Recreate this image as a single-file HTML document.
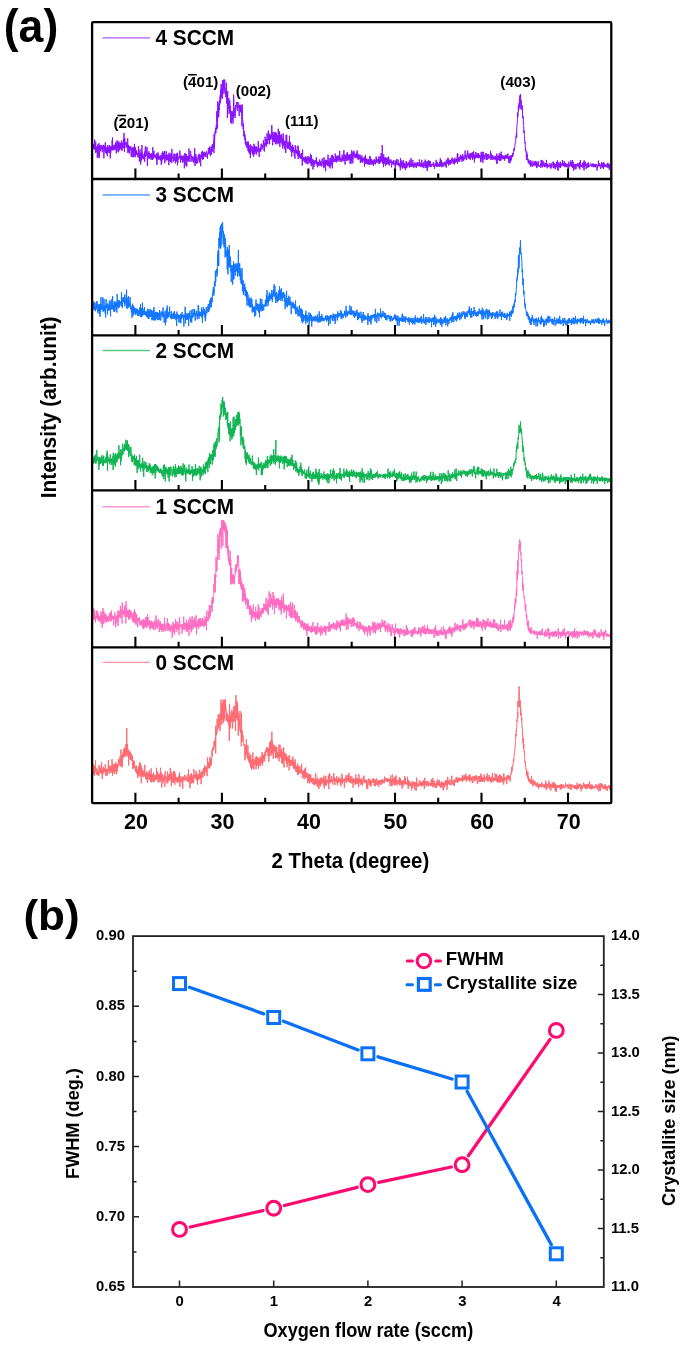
<!DOCTYPE html><html><head><meta charset="utf-8"><style>html,body{margin:0;padding:0;background:#fff;}svg{display:block;will-change:transform;filter:blur(0.35px);}text{font-family:"Liberation Sans", sans-serif;font-weight:bold;fill:#000;}</style></head><body>
<svg width="685" height="1348" viewBox="0 0 685 1348">
<rect width="685" height="1348" fill="#fff"/>
<path d="M93.3 147.1 93.46 145.5 93.62 148.7 93.78 144.0 93.94 149.1 94.10 148.1 94.26 146.8 94.42 143.5 94.58 139.5 94.74 140.3 94.90 150.0 95.06 148.1 95.22 148.3 95.38 145.3 95.54 152.9 95.70 141.6 95.86 149.3 96.02 149.2 96.18 152.4 96.34 151.6 96.50 146.8 96.66 147.3 96.82 149.1 96.98 146.4 97.14 147.0 97.30 157.7 97.46 148.8 97.62 153.8 97.78 155.6 97.94 144.2 98.10 157.7 98.26 148.7 98.42 145.7 98.58 146.8 98.74 148.5 98.90 143.2 99.06 146.5 99.22 148.4 99.38 145.0 99.54 157.9 99.70 150.1 99.86 146.8 100.02 147.8 100.18 150.8 100.34 150.6 100.50 148.7 100.66 150.7 100.82 145.3 100.98 146.2 101.14 145.2 101.30 148.3 101.46 145.4 101.62 149.0 101.78 145.9 101.94 149.2 102.10 148.9 102.26 152.3 102.42 146.9 102.58 148.7 102.74 146.6 102.90 149.1 103.06 145.3 103.22 145.8 103.38 149.1 103.54 146.5 103.70 144.8 103.86 158.3 104.02 151.2 104.18 150.5 104.34 150.6 104.50 147.0 104.66 146.2 104.82 145.6 104.98 151.6 105.14 146.9 105.30 142.3 105.46 145.4 105.62 153.0 105.78 146.3 105.94 149.8 106.10 150.7 106.26 152.4 106.42 147.7 106.58 154.1 106.74 150.5 106.90 147.6 107.06 151.4 107.22 151.5 107.38 156.2 107.54 148.4 107.70 150.2 107.86 145.2 108.02 149.1 108.18 148.6 108.34 151.6 108.50 150.9 108.66 152.2 108.82 149.6 108.98 146.8 109.14 153.0 109.30 147.7 109.46 145.6 109.62 145.2 109.78 149.7 109.94 149.6 110.10 145.9 110.26 158.4 110.42 148.1 110.58 148.7 110.74 152.9 110.90 147.5 111.06 147.8 111.22 150.3 111.38 148.6 111.54 147.3 111.70 147.6 111.86 146.4 112.02 150.3 112.18 140.2 112.34 150.2 112.50 137.5 112.66 147.7 112.82 148.8 112.98 146.4 113.14 147.2 113.30 149.2 113.46 146.4 113.62 149.7 113.78 145.3 113.94 150.3 114.10 147.0 114.26 148.6 114.42 145.8 114.58 147.9 114.74 145.2 114.90 144.6 115.06 149.0 115.22 149.7 115.38 148.6 115.54 146.1 115.70 142.4 115.86 147.4 116.02 146.9 116.18 147.6 116.34 153.4 116.50 145.4 116.66 148.3 116.82 141.4 116.98 140.5 117.14 148.2 117.30 144.4 117.46 145.5 117.62 146.9 117.78 140.6 117.94 151.3 118.10 143.2 118.26 152.3 118.42 150.3 118.58 149.3 118.74 150.6 118.90 151.1 119.06 141.7 119.22 143.0 119.38 149.6 119.54 143.4 119.70 146.1 119.86 147.9 120.02 146.3 120.18 143.1 120.34 143.4 120.50 145.4 120.66 144.7 120.82 149.1 120.98 142.5 121.14 146.0 121.30 150.1 121.46 142.7 121.62 145.3 121.78 140.5 121.94 146.0 122.10 150.7 122.26 145.4 122.42 146.6 122.58 144.7 122.74 143.6 122.90 143.1 123.06 146.0 123.22 148.1 123.38 145.2 123.54 139.2 123.70 141.8 123.86 144.3 124.02 133.0 124.18 148.5 124.34 145.7 124.50 152.1 124.66 140.8 124.82 138.3 124.98 143.7 125.14 144.4 125.30 142.3 125.46 142.9 125.62 143.9 125.78 145.3 125.94 146.3 126.10 147.6 126.26 146.7 126.42 143.9 126.58 145.8 126.74 142.2 126.90 147.7 127.06 147.3 127.22 146.3 127.38 147.3 127.54 147.4 127.70 138.4 127.86 153.0 128.02 146.7 128.18 144.8 128.34 149.4 128.50 145.2 128.66 151.8 128.82 148.1 128.98 149.7 129.14 147.1 129.30 153.5 129.46 150.5 129.62 145.9 129.78 147.9 129.94 148.9 130.10 150.4 130.26 149.0 130.42 148.7 130.58 146.7 130.74 148.0 130.90 146.6 131.06 153.8 131.22 156.6 131.38 153.5 131.54 150.7 131.70 150.0 131.86 148.2 132.02 148.3 132.18 157.1 132.34 149.9 132.50 147.5 132.66 149.2 132.82 152.4 132.98 147.6 133.14 151.1 133.30 150.3 133.46 157.2 133.62 154.5 133.78 147.7 133.94 156.2 134.10 147.1 134.26 151.4 134.42 143.9 134.58 145.7 134.74 146.3 134.90 147.6 135.06 157.3 135.22 150.0 135.38 149.8 135.54 147.6 135.70 155.5 135.86 152.0 136.02 153.8 136.18 150.2 136.34 154.2 136.50 154.5 136.66 151.3 136.82 152.3 136.98 154.4 137.14 153.6 137.30 153.2 137.46 154.2 137.62 153.6 137.78 153.3 137.94 157.4 138.10 153.8 138.26 151.7 138.42 146.0 138.58 151.3 138.74 156.5 138.90 153.9 139.06 157.5 139.22 153.6 139.38 161.6 139.54 154.6 139.70 154.9 139.86 154.2 140.02 149.3 140.18 157.3 140.34 160.1 140.50 153.1 140.66 164.4 140.82 157.7 140.98 161.0 141.14 155.4 141.30 154.4 141.46 152.8 141.62 160.2 141.78 152.6 141.94 145.0 142.10 158.4 142.26 152.4 142.42 153.4 142.58 158.1 142.74 154.1 142.90 155.5 143.06 156.7 143.22 158.8 143.38 159.1 143.54 156.0 143.70 158.0 143.86 156.9 144.02 159.3 144.18 154.1 144.34 158.9 144.50 151.6 144.66 161.7 144.82 158.7 144.98 152.2 145.14 156.9 145.30 147.7 145.46 156.7 145.62 146.2 145.78 154.3 145.94 151.0 146.10 156.0 146.26 155.1 146.42 155.0 146.58 155.5 146.74 152.0 146.90 147.2 147.06 147.2 147.22 156.2 147.38 165.9 147.54 156.4 147.70 159.6 147.86 158.3 148.02 154.0 148.18 155.6 148.34 152.4 148.50 156.3 148.66 157.7 148.82 154.5 148.98 151.3 149.14 158.9 149.30 156.8 149.46 153.5 149.62 155.5 149.78 157.4 149.94 157.0 150.10 155.0 150.26 153.7 150.42 157.7 150.58 157.0 150.74 156.4 150.90 155.7 151.06 159.7 151.22 155.7 151.38 156.1 151.54 153.3 151.70 157.3 151.86 158.4 152.02 154.9 152.18 159.0 152.34 160.0 152.50 157.9 152.66 157.1 152.82 147.2 152.98 159.4 153.14 159.1 153.30 153.9 153.46 155.5 153.62 155.4 153.78 157.4 153.94 150.9 154.10 155.6 154.26 156.4 154.42 154.5 154.58 155.6 154.74 157.2 154.90 156.6 155.06 156.1 155.22 155.4 155.38 154.7 155.54 158.1 155.70 158.4 155.86 155.2 156.02 156.1 156.18 157.3 156.34 156.3 156.50 161.0 156.66 154.9 156.82 153.5 156.98 164.9 157.14 155.3 157.30 152.9 157.46 156.9 157.62 158.6 157.78 156.0 157.94 155.5 158.10 152.5 158.26 159.5 158.42 158.1 158.58 155.6 158.74 159.5 158.90 158.8 159.06 156.2 159.22 158.2 159.38 156.5 159.54 159.2 159.70 157.1 159.86 157.9 160.02 159.5 160.18 156.8 160.34 155.2 160.50 156.3 160.66 160.5 160.82 155.9 160.98 156.8 161.14 157.0 161.30 165.0 161.46 155.1 161.62 163.2 161.78 162.7 161.94 155.7 162.10 152.8 162.26 159.3 162.42 160.1 162.58 157.7 162.74 156.5 162.90 151.4 163.06 155.1 163.22 159.1 163.38 159.1 163.54 156.1 163.70 153.1 163.86 152.8 164.02 159.0 164.18 158.8 164.34 156.1 164.50 156.0 164.66 151.0 164.82 163.2 164.98 157.6 165.14 155.5 165.30 155.0 165.46 157.9 165.62 156.9 165.78 158.7 165.94 160.2 166.10 160.6 166.26 151.2 166.42 157.6 166.58 156.4 166.74 157.5 166.90 160.3 167.06 158.0 167.22 154.6 167.38 159.8 167.54 159.8 167.70 155.1 167.86 160.0 168.02 155.3 168.18 158.8 168.34 160.3 168.50 154.5 168.66 161.8 168.82 165.2 168.98 157.5 169.14 152.7 169.30 160.5 169.46 159.5 169.62 161.2 169.78 160.4 169.94 158.5 170.10 153.8 170.26 158.6 170.42 155.6 170.58 160.4 170.74 162.3 170.90 154.8 171.06 159.7 171.22 153.4 171.38 159.7 171.54 158.8 171.70 162.8 171.86 148.9 172.02 155.2 172.18 156.7 172.34 158.6 172.50 158.9 172.66 158.2 172.82 158.1 172.98 156.7 173.14 158.2 173.30 161.6 173.46 158.7 173.62 158.4 173.78 160.7 173.94 153.6 174.10 160.8 174.26 157.2 174.42 154.2 174.58 154.7 174.74 159.0 174.90 154.4 175.06 159.6 175.22 159.2 175.38 163.3 175.54 159.5 175.70 160.0 175.86 158.3 176.02 160.1 176.18 153.5 176.34 157.3 176.50 157.3 176.66 161.5 176.82 155.6 176.98 160.3 177.14 155.2 177.30 152.8 177.46 165.4 177.62 153.0 177.78 163.1 177.94 157.6 178.10 156.8 178.26 157.6 178.42 157.4 178.58 159.5 178.74 158.9 178.90 158.3 179.06 156.8 179.22 156.8 179.38 157.2 179.54 158.0 179.70 154.7 179.86 150.6 180.02 158.3 180.18 157.3 180.34 155.7 180.50 162.5 180.66 157.7 180.82 155.7 180.98 159.9 181.14 158.6 181.30 159.2 181.46 156.2 181.62 155.9 181.78 157.2 181.94 156.0 182.10 159.2 182.26 158.9 182.42 162.7 182.58 156.2 182.74 161.9 182.90 158.0 183.06 155.3 183.22 161.5 183.38 159.0 183.54 158.2 183.70 160.7 183.86 159.9 184.02 156.8 184.18 157.4 184.34 168.3 184.50 157.4 184.66 155.8 184.82 153.2 184.98 156.1 185.14 157.7 185.30 160.2 185.46 157.7 185.62 153.8 185.78 165.4 185.94 154.0 186.10 159.6 186.26 155.6 186.42 156.5 186.58 154.4 186.74 166.5 186.90 159.7 187.06 158.5 187.22 159.2 187.38 156.8 187.54 159.7 187.70 156.0 187.86 161.3 188.02 161.7 188.18 158.3 188.34 156.5 188.50 156.6 188.66 158.2 188.82 161.0 188.98 148.6 189.14 157.8 189.30 157.9 189.46 159.0 189.62 155.2 189.78 161.2 189.94 162.0 190.10 157.7 190.26 157.4 190.42 152.9 190.58 151.0 190.74 153.5 190.90 154.9 191.06 154.7 191.22 157.7 191.38 157.7 191.54 155.9 191.70 160.9 191.86 161.5 192.02 161.7 192.18 157.6 192.34 156.6 192.50 159.0 192.66 156.6 192.82 158.2 192.98 157.9 193.14 160.5 193.30 158.2 193.46 162.5 193.62 157.4 193.78 158.2 193.94 156.9 194.10 157.4 194.26 161.2 194.42 162.6 194.58 149.0 194.74 148.3 194.90 158.4 195.06 166.0 195.22 158.3 195.38 156.4 195.54 157.7 195.70 158.2 195.86 153.9 196.02 162.6 196.18 157.4 196.34 159.5 196.50 160.4 196.66 163.6 196.82 163.8 196.98 158.0 197.14 159.9 197.30 158.3 197.46 162.9 197.62 160.6 197.78 160.6 197.94 157.5 198.10 155.6 198.26 156.8 198.42 156.0 198.58 157.7 198.74 158.4 198.90 159.3 199.06 153.8 199.22 160.0 199.38 162.6 199.54 154.1 199.70 157.1 199.86 157.9 200.02 157.9 200.18 159.4 200.34 154.8 200.50 159.5 200.66 166.2 200.82 157.5 200.98 155.1 201.14 155.4 201.30 154.8 201.46 157.1 201.62 151.9 201.78 156.4 201.94 156.2 202.10 159.0 202.26 157.7 202.42 150.7 202.58 159.6 202.74 160.1 202.90 158.6 203.06 156.8 203.22 152.7 203.38 152.9 203.54 158.9 203.70 154.0 203.86 152.9 204.02 156.9 204.18 151.8 204.34 154.0 204.50 152.8 204.66 155.1 204.82 155.2 204.98 152.5 205.14 154.6 205.30 155.5 205.46 153.0 205.62 156.7 205.78 154.6 205.94 153.0 206.10 152.9 206.26 151.7 206.42 152.8 206.58 151.1 206.74 154.8 206.90 154.7 207.06 157.1 207.22 156.3 207.38 158.6 207.54 154.0 207.70 153.6 207.86 153.5 208.02 154.5 208.18 151.6 208.34 148.1 208.50 149.3 208.66 152.6 208.82 148.0 208.98 154.0 209.14 152.2 209.30 152.3 209.46 146.5 209.62 150.5 209.78 150.9 209.94 153.6 210.10 150.1 210.26 153.9 210.42 156.1 210.58 151.1 210.74 151.2 210.90 147.0 211.06 148.0 211.22 149.6 211.38 154.7 211.54 147.5 211.70 148.4 211.86 147.0 212.02 145.4 212.18 148.8 212.34 151.7 212.50 144.1 212.66 144.8 212.82 145.0 212.98 147.3 213.14 144.6 213.30 145.8 213.46 143.9 213.62 143.2 213.78 141.4 213.94 153.1 214.10 133.9 214.26 148.2 214.42 137.9 214.58 144.7 214.74 137.2 214.90 135.9 215.06 131.4 215.22 132.8 215.38 132.6 215.54 127.9 215.70 133.6 215.86 133.4 216.02 132.1 216.18 126.5 216.34 124.9 216.50 129.3 216.66 129.5 216.82 111.2 216.98 120.9 217.14 113.5 217.30 117.3 217.46 128.5 217.62 123.3 217.78 101.4 217.94 114.2 218.10 116.3 218.26 108.9 218.42 113.1 218.58 104.5 218.74 117.3 218.90 104.6 219.06 103.1 219.22 110.4 219.38 103.5 219.54 100.5 219.70 104.7 219.86 100.5 220.02 97.1 220.18 95.4 220.34 103.1 220.50 89.5 220.66 100.5 220.82 98.4 220.98 90.7 221.14 83.9 221.30 92.3 221.46 95.3 221.62 97.1 221.78 93.8 221.94 95.7 222.10 87.4 222.26 98.7 222.42 92.9 222.58 81.5 222.74 94.3 222.90 79.9 223.06 89.7 223.22 88.5 223.38 80.7 223.54 82.7 223.70 89.2 223.86 79.5 224.02 93.6 224.18 91.8 224.34 83.8 224.50 88.6 224.66 79.7 224.82 80.0 224.98 87.9 225.14 89.5 225.30 88.4 225.46 88.6 225.62 89.3 225.78 97.0 225.94 91.9 226.10 97.2 226.26 93.7 226.42 82.8 226.58 103.4 226.74 97.2 226.90 102.0 227.06 98.5 227.22 98.0 227.38 117.9 227.54 105.4 227.70 91.0 227.86 101.5 228.02 103.2 228.18 108.6 228.34 102.6 228.50 101.7 228.66 108.8 228.82 98.0 228.98 108.5 229.14 114.0 229.30 107.9 229.46 106.8 229.62 112.0 229.78 100.3 229.94 110.5 230.10 105.7 230.26 111.6 230.42 109.7 230.58 122.0 230.74 122.5 230.90 114.2 231.06 115.1 231.22 123.6 231.38 111.5 231.54 111.1 231.70 112.4 231.86 114.0 232.02 112.7 232.18 111.2 232.34 116.1 232.50 120.1 232.66 115.9 232.82 112.2 232.98 123.6 233.14 114.9 233.30 117.3 233.46 106.2 233.62 94.5 233.78 98.9 233.94 100.6 234.10 115.9 234.26 110.3 234.42 110.6 234.58 109.2 234.74 108.7 234.90 107.8 235.06 118.1 235.22 115.7 235.38 107.4 235.54 107.5 235.70 105.0 235.86 106.3 236.02 107.6 236.18 106.1 236.34 104.4 236.50 102.2 236.66 102.6 236.82 103.9 236.98 102.5 237.14 109.2 237.30 111.0 237.46 106.2 237.62 105.1 237.78 102.4 237.94 103.0 238.10 102.3 238.26 104.5 238.42 104.4 238.58 104.8 238.74 107.6 238.90 105.3 239.06 113.1 239.22 116.1 239.38 104.8 239.54 105.5 239.70 106.7 239.86 107.8 240.02 108.2 240.18 110.3 240.34 105.6 240.50 111.9 240.66 108.6 240.82 104.8 240.98 108.0 241.14 112.8 241.30 108.6 241.46 106.7 241.62 112.7 241.78 119.7 241.94 126.2 242.10 111.2 242.26 104.5 242.42 116.1 242.58 119.3 242.74 119.8 242.90 121.7 243.06 129.2 243.22 127.9 243.38 126.4 243.54 123.7 243.70 136.3 243.86 136.1 244.02 132.8 244.18 130.9 244.34 133.5 244.50 136.9 244.66 137.1 244.82 139.9 244.98 134.5 245.14 137.5 245.30 143.9 245.46 138.2 245.62 139.5 245.78 140.7 245.94 145.7 246.10 142.2 246.26 144.0 246.42 142.5 246.58 145.4 246.74 146.3 246.90 148.1 247.06 146.5 247.22 141.5 247.38 146.5 247.54 145.8 247.70 144.8 247.86 144.6 248.02 150.8 248.18 148.4 248.34 141.6 248.50 152.3 248.66 148.2 248.82 144.3 248.98 145.6 249.14 146.6 249.30 145.7 249.46 154.2 249.62 152.3 249.78 149.2 249.94 151.1 250.10 148.8 250.26 151.4 250.42 157.9 250.58 144.5 250.74 148.9 250.90 147.1 251.06 145.5 251.22 149.4 251.38 149.7 251.54 151.1 251.70 149.4 251.86 149.4 252.02 151.8 252.18 153.1 252.34 146.4 252.50 150.2 252.66 154.6 252.82 148.0 252.98 149.2 253.14 151.9 253.30 147.5 253.46 149.7 253.62 156.7 253.78 150.1 253.94 143.8 254.10 146.5 254.26 148.6 254.42 148.5 254.58 145.6 254.74 154.2 254.90 148.6 255.06 146.5 255.22 152.1 255.38 148.2 255.54 148.3 255.70 149.2 255.86 150.3 256.02 146.5 256.18 151.5 256.34 154.5 256.50 146.8 256.66 150.1 256.82 146.9 256.98 150.0 257.14 149.5 257.30 149.5 257.46 150.7 257.62 149.3 257.78 150.2 257.94 152.4 258.10 148.8 258.26 141.2 258.42 150.6 258.58 146.7 258.74 149.1 258.90 148.7 259.06 151.7 259.22 157.0 259.38 150.7 259.54 148.7 259.70 150.6 259.86 151.5 260.02 149.8 260.18 149.8 260.34 147.9 260.50 147.3 260.66 151.7 260.82 148.8 260.98 145.6 261.14 143.8 261.30 145.0 261.46 145.4 261.62 143.8 261.78 148.0 261.94 149.7 262.10 145.1 262.26 147.2 262.42 147.3 262.58 145.6 262.74 145.5 262.90 147.5 263.06 146.8 263.22 146.6 263.38 140.3 263.54 144.0 263.70 143.7 263.86 146.2 264.02 149.0 264.18 150.8 264.34 142.9 264.50 151.4 264.66 143.3 264.82 143.3 264.98 143.9 265.14 136.7 265.30 140.9 265.46 139.4 265.62 143.0 265.78 140.8 265.94 145.3 266.10 141.7 266.26 146.9 266.42 139.4 266.58 140.1 266.74 144.2 266.90 141.3 267.06 133.4 267.22 137.5 267.38 141.1 267.54 139.6 267.70 144.2 267.86 142.8 268.02 139.8 268.18 139.3 268.34 130.6 268.50 138.7 268.66 139.0 268.82 140.2 268.98 133.5 269.14 133.5 269.30 137.5 269.46 139.0 269.62 144.2 269.78 136.1 269.94 137.6 270.10 134.6 270.26 135.1 270.42 139.2 270.58 138.4 270.74 140.0 270.90 136.0 271.06 138.3 271.22 138.7 271.38 133.5 271.54 137.6 271.70 125.5 271.86 125.0 272.02 136.3 272.18 136.1 272.34 135.0 272.50 133.3 272.66 145.3 272.82 136.8 272.98 131.7 273.14 136.5 273.30 135.4 273.46 140.2 273.62 139.5 273.78 135.3 273.94 134.5 274.10 142.0 274.26 133.8 274.42 136.6 274.58 132.6 274.74 138.1 274.90 142.1 275.06 132.3 275.22 140.7 275.38 144.2 275.54 137.8 275.70 141.5 275.86 136.9 276.02 132.5 276.18 136.8 276.34 133.1 276.50 139.1 276.66 143.1 276.82 138.8 276.98 144.3 277.14 135.0 277.30 141.1 277.46 139.0 277.62 136.3 277.78 141.6 277.94 137.4 278.10 139.5 278.26 128.7 278.42 137.3 278.58 139.8 278.74 143.7 278.90 139.1 279.06 135.8 279.22 142.3 279.38 139.3 279.54 131.3 279.70 140.3 279.86 146.9 280.02 136.1 280.18 139.5 280.34 135.7 280.50 142.4 280.66 142.2 280.82 142.4 280.98 142.3 281.14 134.3 281.30 140.4 281.46 139.2 281.62 134.6 281.78 140.2 281.94 143.8 282.10 144.6 282.26 137.8 282.42 138.0 282.58 139.2 282.74 148.5 282.90 140.9 283.06 137.3 283.22 133.4 283.38 134.6 283.54 144.2 283.70 145.7 283.86 146.1 284.02 142.0 284.18 142.3 284.34 144.3 284.50 141.8 284.66 141.3 284.82 149.4 284.98 140.5 285.14 141.6 285.30 144.8 285.46 144.0 285.62 147.6 285.78 152.9 285.94 145.6 286.10 134.9 286.26 143.1 286.42 142.6 286.58 142.1 286.74 134.8 286.90 144.5 287.06 147.2 287.22 146.0 287.38 143.3 287.54 146.5 287.70 148.8 287.86 142.1 288.02 141.6 288.18 147.4 288.34 144.9 288.50 143.9 288.66 142.9 288.82 144.5 288.98 149.2 289.14 149.3 289.30 144.8 289.46 135.7 289.62 147.8 289.78 146.0 289.94 150.1 290.10 149.7 290.26 146.5 290.42 145.1 290.58 142.3 290.74 143.9 290.90 146.5 291.06 151.9 291.22 147.4 291.38 146.2 291.54 147.8 291.70 156.6 291.86 147.3 292.02 149.2 292.18 147.7 292.34 148.2 292.50 151.5 292.66 144.8 292.82 151.3 292.98 152.4 293.14 147.6 293.30 146.9 293.46 147.2 293.62 150.6 293.78 151.0 293.94 149.7 294.10 150.3 294.26 155.7 294.42 150.5 294.58 152.5 294.74 150.9 294.90 158.8 295.06 148.2 295.22 145.2 295.38 146.4 295.54 150.0 295.70 146.0 295.86 152.8 296.02 151.8 296.18 149.9 296.34 149.9 296.50 152.7 296.66 150.8 296.82 153.8 296.98 151.3 297.14 153.1 297.30 152.9 297.46 156.0 297.62 152.2 297.78 152.0 297.94 145.6 298.10 152.1 298.26 159.1 298.42 147.2 298.58 151.8 298.74 151.1 298.90 150.9 299.06 155.0 299.22 156.6 299.38 157.5 299.54 150.9 299.70 156.8 299.86 156.2 300.02 157.2 300.18 155.6 300.34 155.2 300.50 155.7 300.66 159.0 300.82 158.4 300.98 154.0 301.14 155.1 301.30 153.0 301.46 156.6 301.62 159.1 301.78 156.8 301.94 157.7 302.10 156.2 302.26 165.6 302.42 156.4 302.58 149.7 302.74 160.0 302.90 159.7 303.06 160.4 303.22 157.9 303.38 158.0 303.54 157.6 303.70 157.2 303.86 161.2 304.02 160.0 304.18 159.8 304.34 157.7 304.50 159.3 304.66 158.5 304.82 162.1 304.98 161.5 305.14 157.1 305.30 163.2 305.46 157.9 305.62 159.8 305.78 156.3 305.94 162.5 306.10 157.6 306.26 160.7 306.42 159.2 306.58 161.3 306.74 160.6 306.90 160.2 307.06 164.2 307.22 158.5 307.38 159.8 307.54 158.8 307.70 156.4 307.86 158.9 308.02 164.2 308.18 160.0 308.34 156.5 308.50 159.1 308.66 160.6 308.82 159.6 308.98 157.0 309.14 158.4 309.30 159.2 309.46 161.1 309.62 160.0 309.78 162.7 309.94 158.5 310.10 163.1 310.26 160.9 310.42 153.9 310.58 163.4 310.74 162.9 310.90 159.8 311.06 158.8 311.22 166.2 311.38 166.1 311.54 155.1 311.70 162.3 311.86 161.1 312.02 162.6 312.18 160.1 312.34 160.4 312.50 159.0 312.66 163.0 312.82 166.2 312.98 169.5 313.14 163.4 313.30 165.2 313.46 163.9 313.62 159.8 313.78 161.1 313.94 165.2 314.10 166.8 314.26 162.4 314.42 164.2 314.58 161.6 314.74 160.9 314.90 162.3 315.06 160.2 315.22 161.6 315.38 162.4 315.54 162.2 315.70 163.7 315.86 163.5 316.02 163.0 316.18 162.2 316.34 157.3 316.50 164.1 316.66 159.9 316.82 161.0 316.98 161.2 317.14 165.9 317.30 163.6 317.46 162.0 317.62 167.3 317.78 162.1 317.94 165.6 318.10 163.9 318.26 163.1 318.42 162.0 318.58 162.3 318.74 164.9 318.90 166.1 319.06 161.8 319.22 163.4 319.38 162.9 319.54 159.5 319.70 162.3 319.86 162.8 320.02 165.6 320.18 163.4 320.34 164.2 320.50 162.3 320.66 164.9 320.82 160.9 320.98 160.7 321.14 165.9 321.30 164.3 321.46 163.7 321.62 164.2 321.78 166.5 321.94 165.2 322.10 161.7 322.26 158.5 322.42 160.8 322.58 161.5 322.74 162.7 322.90 163.5 323.06 161.6 323.22 164.5 323.38 164.7 323.54 163.1 323.70 161.8 323.86 168.2 324.02 157.3 324.18 166.5 324.34 162.1 324.50 166.4 324.66 164.7 324.82 162.4 324.98 159.7 325.14 164.3 325.30 160.6 325.46 164.1 325.62 171.2 325.78 160.7 325.94 162.4 326.10 161.7 326.26 160.1 326.42 164.4 326.58 164.6 326.74 159.9 326.90 160.8 327.06 163.7 327.22 161.1 327.38 163.3 327.54 165.9 327.70 161.0 327.86 162.3 328.02 154.7 328.18 161.0 328.34 163.7 328.50 161.8 328.66 166.2 328.82 161.5 328.98 165.9 329.14 166.6 329.30 162.6 329.46 162.1 329.62 163.6 329.78 162.2 329.94 158.1 330.10 168.4 330.26 159.1 330.42 160.2 330.58 162.0 330.74 163.6 330.90 165.9 331.06 160.1 331.22 156.7 331.38 158.4 331.54 158.9 331.70 155.3 331.86 161.5 332.02 164.8 332.18 154.8 332.34 168.3 332.50 162.6 332.66 164.0 332.82 162.3 332.98 159.9 333.14 156.3 333.30 156.1 333.46 159.4 333.62 161.7 333.78 161.6 333.94 162.0 334.10 161.4 334.26 161.9 334.42 159.7 334.58 160.6 334.74 158.9 334.90 160.6 335.06 159.6 335.22 153.5 335.38 159.6 335.54 159.6 335.70 157.1 335.86 161.6 336.02 157.8 336.18 162.5 336.34 160.0 336.50 160.6 336.66 155.9 336.82 161.0 336.98 160.0 337.14 160.1 337.30 155.7 337.46 160.5 337.62 158.8 337.78 157.3 337.94 161.6 338.10 160.6 338.26 157.8 338.42 159.8 338.58 159.2 338.74 155.5 338.90 157.5 339.06 159.6 339.22 159.2 339.38 160.2 339.54 157.6 339.70 150.8 339.86 158.2 340.02 161.6 340.18 157.4 340.34 159.0 340.50 159.1 340.66 158.5 340.82 159.7 340.98 158.1 341.14 159.4 341.30 161.8 341.46 158.4 341.62 159.0 341.78 160.7 341.94 161.5 342.10 154.5 342.26 155.4 342.42 158.1 342.58 156.3 342.74 159.8 342.90 159.7 343.06 157.8 343.22 160.7 343.38 158.7 343.54 156.2 343.70 158.6 343.86 150.2 344.02 161.3 344.18 157.0 344.34 156.8 344.50 156.4 344.66 154.8 344.82 155.6 344.98 162.7 345.14 164.5 345.30 156.5 345.46 159.2 345.62 154.9 345.78 154.7 345.94 155.8 346.10 156.8 346.26 155.8 346.42 160.7 346.58 158.7 346.74 156.2 346.90 160.3 347.06 152.4 347.22 158.1 347.38 152.6 347.54 154.8 347.70 157.9 347.86 155.7 348.02 160.7 348.18 157.1 348.34 156.8 348.50 155.5 348.66 155.1 348.82 160.0 348.98 156.4 349.14 154.3 349.30 159.4 349.46 157.9 349.62 155.2 349.78 155.5 349.94 157.1 350.10 163.8 350.26 159.8 350.42 157.2 350.58 161.6 350.74 153.9 350.90 157.1 351.06 163.7 351.22 157.2 351.38 160.9 351.54 156.8 351.70 150.3 351.86 155.1 352.02 152.2 352.18 158.2 352.34 157.0 352.50 156.0 352.66 154.0 352.82 163.4 352.98 157.4 353.14 158.7 353.30 151.6 353.46 154.0 353.62 154.1 353.78 155.6 353.94 150.8 354.10 151.5 354.26 156.7 354.42 155.4 354.58 157.0 354.74 154.6 354.90 153.8 355.06 155.8 355.22 158.2 355.38 154.5 355.54 157.1 355.70 154.9 355.86 156.7 356.02 156.1 356.18 157.8 356.34 152.8 356.50 156.1 356.66 158.1 356.82 154.8 356.98 156.7 357.14 150.4 357.30 155.7 357.46 155.4 357.62 156.1 357.78 159.2 357.94 159.5 358.10 153.7 358.26 156.9 358.42 156.7 358.58 156.9 358.74 159.6 358.90 158.1 359.06 157.8 359.22 155.1 359.38 158.9 359.54 157.1 359.70 158.2 359.86 158.6 360.02 154.6 360.18 158.0 360.34 162.9 360.50 158.9 360.66 157.7 360.82 159.0 360.98 156.6 361.14 160.0 361.30 159.3 361.46 162.0 361.62 162.2 361.78 156.6 361.94 155.4 362.10 159.4 362.26 159.7 362.42 158.1 362.58 158.9 362.74 162.6 362.90 159.3 363.06 161.2 363.22 159.3 363.38 159.8 363.54 159.2 363.70 157.7 363.86 159.9 364.02 158.8 364.18 159.1 364.34 160.8 364.50 166.9 364.66 157.0 364.82 156.7 364.98 158.6 365.14 161.9 365.30 162.0 365.46 154.8 365.62 159.3 365.78 163.6 365.94 158.4 366.10 160.6 366.26 164.1 366.42 159.8 366.58 160.7 366.74 158.8 366.90 161.8 367.06 160.9 367.22 161.7 367.38 159.9 367.54 161.4 367.70 159.9 367.86 164.1 368.02 159.1 368.18 164.6 368.34 163.0 368.50 161.2 368.66 160.6 368.82 159.5 368.98 159.1 369.14 162.7 369.30 164.9 369.46 164.3 369.62 162.7 369.78 156.2 369.94 158.2 370.10 156.4 370.26 161.0 370.42 162.8 370.58 159.3 370.74 163.2 370.90 162.2 371.06 164.7 371.22 158.7 371.38 159.0 371.54 161.4 371.70 161.9 371.86 163.6 372.02 164.5 372.18 160.9 372.34 161.6 372.50 164.0 372.66 162.1 372.82 161.8 372.98 161.9 373.14 159.9 373.30 164.5 373.46 165.9 373.62 162.6 373.78 162.0 373.94 161.2 374.10 159.5 374.26 164.1 374.42 161.6 374.58 160.7 374.74 159.6 374.90 160.7 375.06 160.6 375.22 161.9 375.38 161.8 375.54 164.3 375.70 160.7 375.86 160.6 376.02 162.7 376.18 156.5 376.34 161.9 376.50 158.0 376.66 162.7 376.82 159.3 376.98 160.9 377.14 160.9 377.30 161.0 377.46 159.0 377.62 160.9 377.78 159.1 377.94 160.2 378.10 162.9 378.26 160.7 378.42 160.7 378.58 157.6 378.74 163.4 378.90 159.4 379.06 156.4 379.22 159.9 379.38 164.0 379.54 161.4 379.70 159.8 379.86 161.2 380.02 160.6 380.18 160.8 380.34 156.4 380.50 159.8 380.66 162.7 380.82 160.6 380.98 160.1 381.14 153.0 381.30 161.3 381.46 161.1 381.62 158.8 381.78 160.5 381.94 158.8 382.10 159.8 382.26 145.0 382.42 159.8 382.58 163.6 382.74 161.1 382.90 156.9 383.06 160.9 383.22 158.5 383.38 159.3 383.54 167.1 383.70 154.2 383.86 160.7 384.02 160.8 384.18 160.0 384.34 158.1 384.50 163.2 384.66 161.2 384.82 163.7 384.98 158.5 385.14 161.6 385.30 157.0 385.46 166.1 385.62 163.0 385.78 159.5 385.94 157.7 386.10 161.8 386.26 161.9 386.42 161.3 386.58 164.0 386.74 164.7 386.90 162.0 387.06 157.7 387.22 160.9 387.38 158.3 387.54 163.4 387.70 157.7 387.86 161.7 388.02 159.3 388.18 163.3 388.34 164.5 388.50 160.2 388.66 156.5 388.82 163.4 388.98 161.4 389.14 160.9 389.30 165.4 389.46 162.7 389.62 162.3 389.78 159.6 389.94 162.0 390.10 162.5 390.26 160.9 390.42 162.3 390.58 161.3 390.74 162.1 390.90 159.5 391.06 160.3 391.22 160.6 391.38 163.4 391.54 167.3 391.70 163.2 391.86 161.5 392.02 161.4 392.18 161.1 392.34 163.0 392.50 163.7 392.66 163.0 392.82 162.2 392.98 163.7 393.14 162.4 393.30 164.9 393.46 161.2 393.62 162.9 393.78 160.0 393.94 163.1 394.10 164.2 394.26 163.4 394.42 164.3 394.58 163.3 394.74 163.7 394.90 164.0 395.06 164.9 395.22 168.8 395.38 162.7 395.54 160.6 395.70 163.6 395.86 161.9 396.02 162.5 396.18 165.3 396.34 164.6 396.50 164.3 396.66 159.0 396.82 160.9 396.98 163.3 397.14 163.6 397.30 164.5 397.46 165.0 397.62 163.9 397.78 162.7 397.94 161.4 398.10 159.5 398.26 164.8 398.42 164.0 398.58 162.6 398.74 164.3 398.90 165.5 399.06 164.3 399.22 166.3 399.38 164.7 399.54 164.1 399.70 162.9 399.86 164.1 400.02 166.7 400.18 164.6 400.34 170.2 400.50 158.1 400.66 163.3 400.82 167.9 400.98 166.0 401.14 161.6 401.30 160.6 401.46 165.4 401.62 164.0 401.78 166.9 401.94 164.9 402.10 161.8 402.26 165.0 402.42 163.1 402.58 168.7 402.74 167.1 402.90 161.5 403.06 166.6 403.22 160.1 403.38 165.5 403.54 163.2 403.70 167.4 403.86 164.8 404.02 165.7 404.18 163.7 404.34 162.9 404.50 168.0 404.66 167.2 404.82 166.6 404.98 164.4 405.14 163.6 405.30 170.1 405.46 164.5 405.62 164.6 405.78 165.3 405.94 168.4 406.10 161.1 406.26 163.4 406.42 167.8 406.58 162.8 406.74 165.7 406.90 167.8 407.06 162.6 407.22 164.9 407.38 166.1 407.54 164.5 407.70 164.3 407.86 165.0 408.02 165.1 408.18 164.4 408.34 164.3 408.50 161.9 408.66 165.2 408.82 164.7 408.98 162.8 409.14 166.3 409.30 167.6 409.46 164.1 409.62 165.0 409.78 165.3 409.94 159.8 410.10 162.0 410.26 165.4 410.42 164.6 410.58 164.3 410.74 164.9 410.90 167.1 411.06 158.2 411.22 162.1 411.38 166.9 411.54 164.8 411.70 163.4 411.86 165.1 412.02 163.8 412.18 166.4 412.34 166.3 412.50 164.2 412.66 164.5 412.82 160.0 412.98 162.6 413.14 164.4 413.30 166.8 413.46 164.3 413.62 167.3 413.78 167.5 413.94 168.1 414.10 167.2 414.26 163.5 414.42 166.4 414.58 162.8 414.74 166.1 414.90 163.1 415.06 162.6 415.22 164.7 415.38 163.5 415.54 166.4 415.70 165.2 415.86 164.6 416.02 165.1 416.18 166.1 416.34 168.0 416.50 164.1 416.66 166.5 416.82 162.9 416.98 165.8 417.14 162.5 417.30 164.2 417.46 164.3 417.62 165.4 417.78 162.0 417.94 164.5 418.10 164.6 418.26 163.5 418.42 166.0 418.58 165.6 418.74 164.3 418.90 165.0 419.06 166.6 419.22 165.9 419.38 159.4 419.54 163.4 419.70 163.4 419.86 163.6 420.02 164.3 420.18 166.2 420.34 163.3 420.50 166.8 420.66 166.3 420.82 162.6 420.98 164.5 421.14 163.3 421.30 164.7 421.46 166.1 421.62 165.1 421.78 159.8 421.94 165.5 422.10 167.3 422.26 167.4 422.42 165.5 422.58 164.3 422.74 166.2 422.90 163.9 423.06 163.9 423.22 164.8 423.38 162.6 423.54 166.4 423.70 162.5 423.86 168.2 424.02 164.0 424.18 164.2 424.34 164.1 424.50 165.1 424.66 165.7 424.82 165.0 424.98 161.0 425.14 165.0 425.30 159.6 425.46 165.0 425.62 164.0 425.78 167.9 425.94 163.6 426.10 167.8 426.26 163.9 426.42 166.2 426.58 164.8 426.74 166.1 426.90 161.5 427.06 166.5 427.22 171.0 427.38 161.3 427.54 165.4 427.70 163.0 427.86 165.0 428.02 167.6 428.18 162.8 428.34 162.2 428.50 160.7 428.66 165.9 428.82 165.5 428.98 160.4 429.14 165.3 429.30 164.6 429.46 166.3 429.62 166.5 429.78 164.4 429.94 161.4 430.10 165.8 430.26 161.0 430.42 163.9 430.58 162.6 430.74 167.2 430.90 164.2 431.06 164.6 431.22 164.1 431.38 165.6 431.54 164.9 431.70 166.6 431.86 166.5 432.02 165.0 432.18 164.9 432.34 164.8 432.50 164.5 432.66 165.0 432.82 164.5 432.98 164.8 433.14 165.3 433.30 162.2 433.46 165.3 433.62 165.6 433.78 166.8 433.94 164.5 434.10 164.8 434.26 164.4 434.42 165.4 434.58 168.8 434.74 165.4 434.90 165.0 435.06 165.6 435.22 165.5 435.38 162.9 435.54 165.3 435.70 165.7 435.86 164.4 436.02 166.1 436.18 159.8 436.34 165.9 436.50 163.1 436.66 166.6 436.82 162.2 436.98 165.0 437.14 167.1 437.30 166.3 437.46 163.9 437.62 162.4 437.78 163.5 437.94 166.2 438.10 164.5 438.26 166.0 438.42 165.0 438.58 165.2 438.74 164.6 438.90 166.1 439.06 164.0 439.22 166.8 439.38 163.0 439.54 161.8 439.70 165.7 439.86 163.8 440.02 166.6 440.18 163.6 440.34 158.2 440.50 163.5 440.66 165.4 440.82 162.6 440.98 165.9 441.14 162.8 441.30 160.2 441.46 165.3 441.62 162.7 441.78 167.2 441.94 163.0 442.10 162.3 442.26 165.7 442.42 166.7 442.58 165.7 442.74 165.2 442.90 163.9 443.06 163.7 443.22 163.3 443.38 164.6 443.54 162.7 443.70 163.0 443.86 166.5 444.02 164.2 444.18 163.3 444.34 164.1 444.50 162.0 444.66 164.1 444.82 163.6 444.98 162.9 445.14 163.0 445.30 163.5 445.46 165.5 445.62 161.4 445.78 163.4 445.94 166.5 446.10 165.5 446.26 166.5 446.42 167.7 446.58 162.7 446.74 160.3 446.90 161.1 447.06 159.4 447.22 162.8 447.38 162.8 447.54 162.4 447.70 164.0 447.86 162.5 448.02 157.7 448.18 161.4 448.34 159.4 448.50 165.4 448.66 163.8 448.82 164.5 448.98 160.5 449.14 160.7 449.30 162.5 449.46 161.4 449.62 159.8 449.78 164.6 449.94 162.8 450.10 163.5 450.26 164.3 450.42 163.6 450.58 160.1 450.74 163.4 450.90 162.7 451.06 163.1 451.22 163.2 451.38 161.8 451.54 162.5 451.70 160.5 451.86 158.6 452.02 160.7 452.18 157.7 452.34 159.2 452.50 160.3 452.66 160.5 452.82 162.8 452.98 163.4 453.14 162.1 453.30 158.9 453.46 160.2 453.62 161.7 453.78 162.7 453.94 164.1 454.10 160.6 454.26 160.3 454.42 164.4 454.58 159.9 454.74 160.5 454.90 157.7 455.06 160.1 455.22 162.6 455.38 159.6 455.54 162.4 455.70 162.1 455.86 161.7 456.02 161.8 456.18 161.1 456.34 162.1 456.50 160.8 456.66 158.7 456.82 161.8 456.98 159.1 457.14 161.5 457.30 153.6 457.46 163.9 457.62 160.9 457.78 153.4 457.94 160.3 458.10 159.3 458.26 158.8 458.42 161.5 458.58 161.5 458.74 157.5 458.90 158.8 459.06 158.8 459.22 159.2 459.38 160.0 459.54 157.8 459.70 161.7 459.86 156.7 460.02 157.2 460.18 159.3 460.34 158.0 460.50 154.8 460.66 159.2 460.82 158.6 460.98 158.6 461.14 156.1 461.30 158.4 461.46 155.8 461.62 157.5 461.78 157.4 461.94 161.9 462.10 158.7 462.26 160.1 462.42 158.1 462.58 158.4 462.74 154.0 462.90 160.4 463.06 156.7 463.22 156.5 463.38 158.7 463.54 160.1 463.70 160.9 463.86 156.7 464.02 157.3 464.18 159.0 464.34 159.3 464.50 158.0 464.66 157.2 464.82 155.4 464.98 155.6 465.14 150.6 465.30 157.2 465.46 157.2 465.62 156.6 465.78 155.2 465.94 155.6 466.10 159.4 466.26 156.1 466.42 156.2 466.58 156.6 466.74 159.8 466.90 155.2 467.06 154.2 467.22 154.7 467.38 154.4 467.54 153.9 467.70 150.5 467.86 156.3 468.02 153.3 468.18 157.5 468.34 155.7 468.50 158.0 468.66 157.3 468.82 157.0 468.98 158.5 469.14 156.9 469.30 159.0 469.46 153.7 469.62 156.2 469.78 158.6 469.94 156.9 470.10 157.6 470.26 156.3 470.42 160.1 470.58 153.4 470.74 155.6 470.90 157.8 471.06 157.2 471.22 154.5 471.38 154.9 471.54 156.1 471.70 156.2 471.86 152.9 472.02 156.9 472.18 157.9 472.34 152.3 472.50 159.9 472.66 157.3 472.82 153.1 472.98 156.3 473.14 158.5 473.30 154.1 473.46 156.1 473.62 151.1 473.78 153.6 473.94 155.4 474.10 158.0 474.26 154.7 474.42 162.4 474.58 155.8 474.74 157.4 474.90 159.0 475.06 156.0 475.22 156.3 475.38 155.1 475.54 157.8 475.70 156.7 475.86 152.0 476.02 156.5 476.18 156.2 476.34 157.7 476.50 154.2 476.66 157.3 476.82 153.7 476.98 156.3 477.14 157.0 477.30 157.2 477.46 153.7 477.62 157.3 477.78 156.1 477.94 154.7 478.10 154.6 478.26 158.2 478.42 153.2 478.58 154.6 478.74 156.2 478.90 158.1 479.06 156.4 479.22 154.6 479.38 157.4 479.54 156.2 479.70 155.6 479.86 155.0 480.02 156.7 480.18 157.5 480.34 157.0 480.50 156.3 480.66 161.5 480.82 157.4 480.98 162.0 481.14 151.8 481.30 158.1 481.46 154.8 481.62 156.2 481.78 158.4 481.94 155.3 482.10 156.1 482.26 159.6 482.42 155.3 482.58 152.1 482.74 155.8 482.90 162.8 483.06 155.7 483.22 151.7 483.38 156.9 483.54 154.9 483.70 157.1 483.86 155.7 484.02 159.2 484.18 156.9 484.34 159.1 484.50 158.3 484.66 156.2 484.82 159.4 484.98 155.0 485.14 156.2 485.30 153.7 485.46 156.6 485.62 156.6 485.78 155.2 485.94 156.0 486.10 153.1 486.26 158.2 486.42 160.0 486.58 158.1 486.74 154.4 486.90 157.5 487.06 154.4 487.22 155.7 487.38 157.6 487.54 154.4 487.70 159.7 487.86 156.5 488.02 156.5 488.18 155.7 488.34 156.4 488.50 154.8 488.66 155.5 488.82 154.2 488.98 158.6 489.14 156.6 489.30 157.3 489.46 157.9 489.62 156.8 489.78 156.4 489.94 157.4 490.10 158.4 490.26 157.3 490.42 156.8 490.58 150.8 490.74 158.8 490.90 159.9 491.06 153.6 491.22 153.6 491.38 156.7 491.54 156.2 491.70 158.0 491.86 158.0 492.02 157.9 492.18 159.7 492.34 156.8 492.50 157.9 492.66 156.5 492.82 155.1 492.98 159.5 493.14 156.7 493.30 157.5 493.46 156.9 493.62 158.3 493.78 159.5 493.94 156.7 494.10 156.5 494.26 157.9 494.42 158.9 494.58 158.7 494.74 157.0 494.90 157.0 495.06 158.2 495.22 158.2 495.38 160.2 495.54 155.8 495.70 159.9 495.86 159.2 496.02 158.3 496.18 158.9 496.34 158.1 496.50 163.3 496.66 158.1 496.82 153.6 496.98 157.4 497.14 163.9 497.30 157.4 497.46 157.1 497.62 157.2 497.78 155.9 497.94 157.4 498.10 158.5 498.26 157.0 498.42 160.1 498.58 155.8 498.74 158.1 498.90 157.8 499.06 158.0 499.22 153.4 499.38 156.7 499.54 160.9 499.70 158.1 499.86 155.8 500.02 157.4 500.18 161.0 500.34 156.5 500.50 154.2 500.66 157.3 500.82 157.8 500.98 160.3 501.14 151.7 501.30 157.2 501.46 158.2 501.62 156.7 501.78 156.6 501.94 155.9 502.10 156.5 502.26 157.3 502.42 159.2 502.58 155.2 502.74 158.4 502.90 155.8 503.06 157.5 503.22 158.7 503.38 156.1 503.54 156.1 503.70 159.1 503.86 159.0 504.02 155.9 504.18 158.1 504.34 158.9 504.50 160.7 504.66 158.6 504.82 158.1 504.98 156.3 505.14 159.0 505.30 154.8 505.46 156.2 505.62 157.6 505.78 155.4 505.94 158.9 506.10 156.9 506.26 155.4 506.42 158.1 506.58 154.8 506.74 157.9 506.90 157.6 507.06 156.6 507.22 157.3 507.38 157.1 507.54 156.0 507.70 158.6 507.86 153.8 508.02 153.6 508.18 157.3 508.34 158.5 508.50 157.0 508.66 157.3 508.82 162.9 508.98 157.4 509.14 158.9 509.30 158.9 509.46 156.0 509.62 157.4 509.78 163.4 509.94 158.1 510.10 157.6 510.26 161.1 510.42 156.3 510.58 157.3 510.74 161.5 510.90 155.3 511.06 156.9 511.22 155.8 511.38 159.8 511.54 155.9 511.70 158.1 511.86 155.3 512.02 155.8 512.18 156.9 512.34 156.6 512.50 153.1 512.66 157.0 512.82 154.2 512.98 155.3 513.14 153.2 513.30 153.8 513.46 151.4 513.62 150.4 513.78 151.4 513.94 148.3 514.10 149.6 514.26 150.6 514.42 150.1 514.58 147.5 514.74 147.0 514.90 146.6 515.06 143.5 515.22 143.4 515.38 142.3 515.54 142.7 515.70 141.7 515.86 136.6 516.02 136.7 516.18 135.7 516.34 134.0 516.50 132.9 516.66 137.5 516.82 126.8 516.98 126.2 517.14 123.7 517.30 121.5 517.46 119.3 517.62 112.5 517.78 116.8 517.94 116.4 518.10 112.5 518.26 110.9 518.42 105.4 518.58 110.7 518.74 107.0 518.90 109.0 519.06 103.1 519.22 105.9 519.38 106.8 519.54 99.3 519.70 99.5 519.86 96.5 520.02 101.6 520.18 94.8 520.34 102.9 520.50 94.4 520.66 94.4 520.82 109.1 520.98 100.9 521.14 100.3 521.30 100.8 521.46 104.2 521.62 104.7 521.78 108.3 521.94 110.0 522.10 105.4 522.26 107.4 522.42 107.8 522.58 114.0 522.74 117.4 522.90 116.5 523.06 118.3 523.22 116.8 523.38 124.2 523.54 122.7 523.70 125.6 523.86 132.8 524.02 130.3 524.18 131.8 524.34 134.3 524.50 136.6 524.66 140.8 524.82 140.4 524.98 143.1 525.14 142.0 525.30 147.0 525.46 151.1 525.62 148.2 525.78 150.4 525.94 151.3 526.10 152.2 526.26 152.9 526.42 159.9 526.58 155.1 526.74 151.5 526.90 156.9 527.06 157.3 527.22 154.1 527.38 158.2 527.54 158.2 527.70 160.1 527.86 158.9 528.02 161.5 528.18 162.7 528.34 162.4 528.50 159.4 528.66 161.7 528.82 161.5 528.98 163.8 529.14 161.6 529.30 160.5 529.46 162.4 529.62 163.2 529.78 162.0 529.94 164.6 530.10 163.4 530.26 164.2 530.42 166.3 530.58 166.8 530.74 160.1 530.90 163.1 531.06 164.7 531.22 161.9 531.38 163.6 531.54 165.3 531.70 165.0 531.86 164.7 532.02 164.6 532.18 166.7 532.34 163.7 532.50 164.4 532.66 165.2 532.82 165.6 532.98 160.8 533.14 162.8 533.30 163.7 533.46 164.5 533.62 164.8 533.78 165.6 533.94 165.5 534.10 164.0 534.26 165.3 534.42 162.7 534.58 163.8 534.74 161.7 534.90 165.7 535.06 164.1 535.22 160.9 535.38 164.4 535.54 164.0 535.70 164.0 535.86 163.6 536.02 164.5 536.18 161.5 536.34 167.2 536.50 162.8 536.66 162.9 536.82 168.1 536.98 162.4 537.14 166.3 537.30 165.2 537.46 165.9 537.62 163.4 537.78 163.9 537.94 166.4 538.10 161.2 538.26 163.3 538.42 163.9 538.58 165.6 538.74 165.9 538.90 165.7 539.06 165.6 539.22 166.3 539.38 167.0 539.54 165.9 539.70 166.7 539.86 165.4 540.02 165.1 540.18 165.2 540.34 165.8 540.50 163.6 540.66 166.0 540.82 166.7 540.98 167.8 541.14 159.9 541.30 163.0 541.46 162.8 541.62 165.7 541.78 164.2 541.94 160.2 542.10 165.1 542.26 165.1 542.42 164.4 542.58 167.3 542.74 163.3 542.90 160.7 543.06 166.3 543.22 164.7 543.38 165.3 543.54 165.2 543.70 165.4 543.86 162.2 544.02 164.4 544.18 163.9 544.34 164.0 544.50 166.7 544.66 165.2 544.82 167.2 544.98 164.1 545.14 163.6 545.30 163.0 545.46 165.6 545.62 166.8 545.78 163.8 545.94 166.4 546.10 165.4 546.26 163.9 546.42 159.9 546.58 165.6 546.74 164.9 546.90 166.7 547.06 167.4 547.22 166.0 547.38 168.3 547.54 166.1 547.70 163.7 547.86 166.8 548.02 165.2 548.18 166.0 548.34 165.1 548.50 166.3 548.66 165.9 548.82 166.6 548.98 165.2 549.14 166.0 549.30 164.7 549.46 163.9 549.62 164.5 549.78 163.2 549.94 165.7 550.10 166.8 550.26 168.0 550.42 165.2 550.58 168.1 550.74 165.5 550.90 168.6 551.06 166.2 551.22 165.3 551.38 163.2 551.54 165.6 551.70 167.1 551.86 164.9 552.02 165.0 552.18 165.7 552.34 165.0 552.50 164.9 552.66 165.1 552.82 164.2 552.98 161.9 553.14 164.2 553.30 168.0 553.46 165.3 553.62 161.7 553.78 166.7 553.94 164.2 554.10 168.5 554.26 165.8 554.42 165.2 554.58 163.2 554.74 164.7 554.90 166.2 555.06 165.3 555.22 164.3 555.38 164.6 555.54 169.2 555.70 164.1 555.86 167.5 556.02 165.5 556.18 166.0 556.34 164.4 556.50 166.5 556.66 162.2 556.82 163.1 556.98 165.0 557.14 163.0 557.30 160.5 557.46 164.8 557.62 170.1 557.78 165.6 557.94 166.6 558.10 165.1 558.26 170.6 558.42 164.9 558.58 162.4 558.74 165.2 558.90 166.2 559.06 162.9 559.22 167.5 559.38 165.9 559.54 166.6 559.70 164.2 559.86 166.1 560.02 166.8 560.18 166.4 560.34 161.8 560.50 167.9 560.66 164.2 560.82 167.3 560.98 164.2 561.14 165.0 561.30 163.5 561.46 166.0 561.62 165.5 561.78 165.2 561.94 164.3 562.10 165.0 562.26 165.1 562.42 160.1 562.58 164.3 562.74 164.9 562.90 164.7 563.06 166.0 563.22 165.7 563.38 165.2 563.54 163.1 563.70 165.8 563.86 166.4 564.02 165.0 564.18 161.0 564.34 165.5 564.50 164.8 564.66 166.9 564.82 165.3 564.98 166.4 565.14 165.8 565.30 165.7 565.46 166.2 565.62 162.8 565.78 164.9 565.94 165.6 566.10 167.2 566.26 166.9 566.42 165.9 566.58 164.5 566.74 165.0 566.90 163.6 567.06 166.3 567.22 167.0 567.38 167.6 567.54 166.5 567.70 164.3 567.86 164.5 568.02 165.8 568.18 165.4 568.34 165.9 568.50 166.8 568.66 168.8 568.82 161.7 568.98 165.4 569.14 164.3 569.30 166.3 569.46 166.8 569.62 165.9 569.78 165.8 569.94 164.9 570.10 165.8 570.26 165.0 570.42 165.8 570.58 165.9 570.74 160.4 570.90 164.7 571.06 165.9 571.22 162.4 571.38 166.7 571.54 162.4 571.70 165.4 571.86 163.7 572.02 166.6 572.18 166.4 572.34 160.1 572.50 167.8 572.66 165.5 572.82 166.8 572.98 166.7 573.14 162.0 573.30 166.1 573.46 170.6 573.62 164.2 573.78 166.6 573.94 168.5 574.10 164.7 574.26 166.4 574.42 166.4 574.58 165.9 574.74 165.9 574.90 164.3 575.06 169.4 575.22 164.3 575.38 164.7 575.54 166.5 575.70 166.9 575.86 163.9 576.02 169.2 576.18 166.2 576.34 165.0 576.50 166.0 576.66 164.4 576.82 165.4 576.98 165.5 577.14 164.8 577.30 165.8 577.46 166.3 577.62 164.2 577.78 162.9 577.94 164.7 578.10 166.1 578.26 165.8 578.42 165.7 578.58 163.7 578.74 166.4 578.90 164.8 579.06 168.0 579.22 167.2 579.38 166.3 579.54 162.4 579.70 164.8 579.86 169.3 580.02 165.5 580.18 165.5 580.34 160.3 580.50 166.3 580.66 166.3 580.82 164.5 580.98 165.5 581.14 165.3 581.30 166.8 581.46 165.5 581.62 167.0 581.78 165.8 581.94 166.0 582.10 166.5 582.26 165.5 582.42 162.9 582.58 165.6 582.74 167.8 582.90 167.5 583.06 164.8 583.22 165.5 583.38 161.9 583.54 164.7 583.70 164.6 583.86 165.0 584.02 170.5 584.18 160.3 584.34 166.8 584.50 165.2 584.66 166.3 584.82 166.0 584.98 164.4 585.14 162.0 585.30 166.0 585.46 162.3 585.62 164.4 585.78 165.8 585.94 165.5 586.10 169.1 586.26 166.7 586.42 165.1 586.58 164.5 586.74 165.2 586.90 163.5 587.06 165.1 587.22 167.9 587.38 166.0 587.54 166.2 587.70 164.2 587.86 165.3 588.02 163.1 588.18 162.7 588.34 165.1 588.50 167.4 588.66 162.5 588.82 165.0 588.98 165.0 589.14 166.5 589.30 166.1 589.46 165.5 589.62 166.5 589.78 165.3 589.94 165.6 590.10 165.8 590.26 165.6 590.42 165.4 590.58 164.8 590.74 165.2 590.90 164.6 591.06 163.4 591.22 164.7 591.38 166.2 591.54 165.0 591.70 166.3 591.86 165.4 592.02 165.6 592.18 166.8 592.34 165.7 592.50 163.7 592.66 164.5 592.82 164.8 592.98 166.0 593.14 164.7 593.30 164.2 593.46 167.2 593.62 164.9 593.78 163.6 593.94 165.2 594.10 164.7 594.26 166.8 594.42 166.1 594.58 167.1 594.74 164.0 594.90 165.4 595.06 165.8 595.22 165.9 595.38 167.2 595.54 165.2 595.70 164.9 595.86 165.9 596.02 165.1 596.18 164.0 596.34 165.6 596.50 165.5 596.66 165.2 596.82 166.6 596.98 170.5 597.14 168.1 597.30 165.1 597.46 165.6 597.62 168.0 597.78 165.9 597.94 165.9 598.10 164.7 598.26 163.9 598.42 160.6 598.58 165.2 598.74 166.1 598.90 164.7 599.06 165.7 599.22 163.2 599.38 166.2 599.54 165.3 599.70 166.2 599.86 164.0 600.02 164.8 600.18 166.6 600.34 166.5 600.50 166.7 600.66 168.9 600.82 166.8 600.98 165.3 601.14 165.9 601.30 166.1 601.46 162.0 601.62 162.5 601.78 165.8 601.94 167.4 602.10 167.0 602.26 164.4 602.42 165.7 602.58 165.4 602.74 163.0 602.90 167.6 603.06 163.9 603.22 166.7 603.38 169.0 603.54 166.5 603.70 162.2 603.86 164.5 604.02 167.0 604.18 165.4 604.34 167.1 604.50 164.9 604.66 163.5 604.82 165.3 604.98 166.5 605.14 166.6 605.30 164.7 605.46 165.0 605.62 165.2 605.78 166.4 605.94 166.3 606.10 166.9 606.26 166.6 606.42 166.0 606.58 164.8 606.74 164.2 606.90 167.6 607.06 167.0 607.22 167.0 607.38 163.6 607.54 163.4 607.70 164.5 607.86 162.7 608.02 167.5 608.18 165.7 608.34 163.8 608.50 165.7 608.66 165.9 608.82 167.5 608.98 166.3 609.14 166.2 609.30 169.9 609.46 164.3 609.62 164.0 609.78 166.8 609.94 166.5 610.10 166.1 610.26 166.4" fill="none" stroke="#8a12ff" stroke-width="1" stroke-linejoin="round"/>
<path d="M93.3 306.4 93.46 307.6 93.62 303.2 93.78 309.3 93.94 301.4 94.10 310.2 94.26 306.4 94.42 305.4 94.58 304.5 94.74 305.1 94.90 309.7 95.06 302.7 95.22 307.4 95.38 311.2 95.54 309.6 95.70 308.9 95.86 306.1 96.02 307.8 96.18 309.0 96.34 309.2 96.50 307.5 96.66 301.5 96.82 307.9 96.98 301.1 97.14 307.0 97.30 307.6 97.46 304.1 97.62 308.8 97.78 312.8 97.94 308.2 98.10 311.1 98.26 307.8 98.42 309.9 98.58 304.6 98.74 308.0 98.90 306.9 99.06 307.2 99.22 314.0 99.38 304.5 99.54 311.2 99.70 309.3 99.86 303.9 100.02 316.8 100.18 306.7 100.34 312.2 100.50 304.5 100.66 308.3 100.82 308.9 100.98 297.2 101.14 306.9 101.30 310.0 101.46 309.5 101.62 307.1 101.78 307.7 101.94 304.8 102.10 309.2 102.26 308.2 102.42 309.1 102.58 305.3 102.74 297.3 102.90 297.3 103.06 311.8 103.22 306.7 103.38 309.8 103.54 310.8 103.70 310.3 103.86 310.9 104.02 299.0 104.18 304.8 104.34 308.6 104.50 306.7 104.66 307.4 104.82 310.5 104.98 308.5 105.14 313.0 105.30 304.7 105.46 311.4 105.62 317.5 105.78 309.7 105.94 307.0 106.10 299.3 106.26 303.2 106.42 305.8 106.58 307.9 106.74 305.3 106.90 308.0 107.06 308.4 107.22 307.7 107.38 303.4 107.54 314.4 107.70 308.1 107.86 306.0 108.02 304.3 108.18 309.9 108.34 307.5 108.50 305.1 108.66 310.5 108.82 306.8 108.98 308.0 109.14 309.7 109.30 300.7 109.46 307.4 109.62 306.1 109.78 310.4 109.94 301.3 110.10 303.0 110.26 308.7 110.42 308.1 110.58 316.3 110.74 305.6 110.90 305.1 111.06 304.4 111.22 299.4 111.38 304.0 111.54 309.3 111.70 304.3 111.86 305.4 112.02 307.8 112.18 309.1 112.34 306.4 112.50 301.5 112.66 296.2 112.82 304.3 112.98 309.1 113.14 308.9 113.30 308.3 113.46 310.5 113.62 305.8 113.78 304.8 113.94 311.7 114.10 304.2 114.26 301.4 114.42 311.2 114.58 311.4 114.74 305.5 114.90 311.3 115.06 301.7 115.22 303.9 115.38 302.9 115.54 306.1 115.70 306.5 115.86 306.9 116.02 302.8 116.18 308.9 116.34 307.5 116.50 303.0 116.66 301.8 116.82 312.5 116.98 307.2 117.14 294.1 117.30 299.8 117.46 306.1 117.62 301.0 117.78 307.1 117.94 305.4 118.10 307.3 118.26 305.9 118.42 300.3 118.58 305.2 118.74 308.2 118.90 301.7 119.06 307.3 119.22 300.3 119.38 306.1 119.54 303.6 119.70 302.5 119.86 301.8 120.02 303.9 120.18 304.2 120.34 303.0 120.50 301.6 120.66 302.8 120.82 302.0 120.98 305.7 121.14 306.0 121.30 305.9 121.46 292.0 121.62 301.4 121.78 299.6 121.94 300.6 122.10 307.1 122.26 302.2 122.42 303.2 122.58 308.0 122.74 297.5 122.90 297.6 123.06 298.8 123.22 301.6 123.38 299.7 123.54 300.5 123.70 297.4 123.86 302.2 124.02 301.1 124.18 299.6 124.34 297.0 124.50 303.9 124.66 302.2 124.82 294.3 124.98 306.3 125.14 302.9 125.30 302.9 125.46 301.7 125.62 301.7 125.78 302.6 125.94 302.1 126.10 297.9 126.26 301.8 126.42 298.6 126.58 289.7 126.74 308.1 126.90 302.1 127.06 301.0 127.22 308.8 127.38 306.9 127.54 304.0 127.70 303.4 127.86 297.3 128.02 304.5 128.18 301.1 128.34 299.1 128.50 296.3 128.66 307.6 128.82 301.3 128.98 302.7 129.14 302.3 129.30 305.1 129.46 302.7 129.62 303.6 129.78 304.5 129.94 306.4 130.10 297.1 130.26 306.8 130.42 308.8 130.58 304.5 130.74 308.5 130.90 305.8 131.06 307.9 131.22 310.5 131.38 312.6 131.54 307.4 131.70 309.7 131.86 307.1 132.02 317.8 132.18 311.7 132.34 309.8 132.50 304.3 132.66 303.7 132.82 307.8 132.98 315.9 133.14 307.1 133.30 313.5 133.46 310.0 133.62 305.7 133.78 313.9 133.94 314.3 134.10 311.0 134.26 307.5 134.42 310.5 134.58 308.4 134.74 310.8 134.90 311.6 135.06 311.1 135.22 313.5 135.38 314.3 135.54 308.4 135.70 311.4 135.86 314.7 136.02 311.8 136.18 310.6 136.34 313.0 136.50 309.2 136.66 311.2 136.82 308.6 136.98 310.7 137.14 309.3 137.30 309.5 137.46 315.7 137.62 309.3 137.78 311.8 137.94 310.4 138.10 311.1 138.26 312.9 138.42 312.4 138.58 311.4 138.74 315.9 138.90 313.8 139.06 313.9 139.22 310.0 139.38 314.7 139.54 313.8 139.70 307.2 139.86 312.0 140.02 311.3 140.18 310.3 140.34 316.9 140.50 304.3 140.66 309.4 140.82 315.3 140.98 314.7 141.14 311.2 141.30 317.2 141.46 308.1 141.62 316.5 141.78 311.2 141.94 315.1 142.10 311.9 142.26 315.3 142.42 302.7 142.58 316.1 142.74 308.4 142.90 313.0 143.06 314.8 143.22 310.7 143.38 314.9 143.54 312.3 143.70 314.3 143.86 313.0 144.02 314.5 144.18 308.7 144.34 311.3 144.50 307.3 144.66 314.5 144.82 311.6 144.98 312.2 145.14 314.4 145.30 312.8 145.46 314.7 145.62 313.5 145.78 315.5 145.94 311.1 146.10 315.0 146.26 313.8 146.42 311.8 146.58 317.0 146.74 314.8 146.90 313.8 147.06 311.7 147.22 313.4 147.38 317.4 147.54 312.6 147.70 308.8 147.86 315.1 148.02 311.6 148.18 318.8 148.34 315.2 148.50 318.2 148.66 315.6 148.82 319.0 148.98 309.2 149.14 315.1 149.30 311.1 149.46 317.1 149.62 316.4 149.78 315.9 149.94 317.1 150.10 312.4 150.26 316.1 150.42 310.2 150.58 309.5 150.74 313.8 150.90 314.7 151.06 314.0 151.22 314.4 151.38 317.4 151.54 310.1 151.70 314.1 151.86 314.5 152.02 320.4 152.18 317.9 152.34 319.9 152.50 310.9 152.66 316.9 152.82 316.1 152.98 312.2 153.14 316.2 153.30 319.9 153.46 309.8 153.62 311.3 153.78 313.8 153.94 307.0 154.10 314.1 154.26 320.6 154.42 316.5 154.58 318.7 154.74 313.4 154.90 316.6 155.06 313.1 155.22 316.6 155.38 320.3 155.54 311.8 155.70 316.3 155.86 318.5 156.02 314.6 156.18 316.5 156.34 314.0 156.50 312.1 156.66 314.1 156.82 317.1 156.98 319.3 157.14 316.2 157.30 314.8 157.46 319.9 157.62 312.5 157.78 317.2 157.94 312.6 158.10 320.2 158.26 317.2 158.42 316.0 158.58 314.9 158.74 313.0 158.90 313.4 159.06 320.1 159.22 315.6 159.38 314.2 159.54 310.1 159.70 318.7 159.86 313.9 160.02 312.6 160.18 313.2 160.34 316.1 160.50 316.0 160.66 317.0 160.82 320.5 160.98 315.4 161.14 313.3 161.30 311.2 161.46 315.5 161.62 313.8 161.78 314.5 161.94 314.2 162.10 312.5 162.26 312.6 162.42 315.1 162.58 315.8 162.74 317.4 162.90 312.1 163.06 307.4 163.22 316.4 163.38 312.2 163.54 315.8 163.70 315.0 163.86 314.9 164.02 319.0 164.18 322.8 164.34 316.2 164.50 314.6 164.66 314.5 164.82 313.7 164.98 314.0 165.14 310.7 165.30 315.0 165.46 325.3 165.62 315.2 165.78 316.4 165.94 322.2 166.10 312.1 166.26 315.6 166.42 313.7 166.58 316.7 166.74 308.5 166.90 318.8 167.06 318.5 167.22 305.5 167.38 315.1 167.54 314.0 167.70 317.6 167.86 316.8 168.02 311.7 168.18 314.4 168.34 317.4 168.50 314.4 168.66 312.6 168.82 313.0 168.98 314.6 169.14 314.2 169.30 315.0 169.46 312.1 169.62 306.8 169.78 313.0 169.94 312.1 170.10 317.0 170.26 315.7 170.42 318.0 170.58 317.0 170.74 314.7 170.90 314.4 171.06 316.8 171.22 319.2 171.38 313.8 171.54 310.9 171.70 316.6 171.86 314.7 172.02 314.4 172.18 314.6 172.34 314.4 172.50 317.2 172.66 318.9 172.82 315.6 172.98 316.8 173.14 313.3 173.30 317.2 173.46 318.6 173.62 314.1 173.78 312.5 173.94 317.6 174.10 316.9 174.26 313.2 174.42 311.2 174.58 311.1 174.74 318.7 174.90 313.8 175.06 317.2 175.22 317.6 175.38 314.4 175.54 316.8 175.70 315.2 175.86 320.3 176.02 318.1 176.18 315.2 176.34 316.7 176.50 319.3 176.66 326.1 176.82 311.6 176.98 313.9 177.14 318.8 177.30 315.8 177.46 316.3 177.62 313.8 177.78 316.0 177.94 317.9 178.10 314.4 178.26 316.7 178.42 316.0 178.58 315.0 178.74 322.3 178.90 317.7 179.06 316.9 179.22 315.3 179.38 315.0 179.54 315.6 179.70 315.6 179.86 316.9 180.02 322.6 180.18 315.4 180.34 317.4 180.50 320.0 180.66 314.1 180.82 323.3 180.98 316.9 181.14 317.2 181.30 314.4 181.46 319.1 181.62 315.3 181.78 314.0 181.94 313.7 182.10 312.1 182.26 314.9 182.42 317.5 182.58 317.3 182.74 317.6 182.90 315.9 183.06 316.2 183.22 314.5 183.38 319.9 183.54 315.9 183.70 317.7 183.86 326.5 184.02 316.6 184.18 315.4 184.34 314.7 184.50 315.9 184.66 317.9 184.82 317.0 184.98 316.3 185.14 306.8 185.30 313.2 185.46 323.4 185.62 313.7 185.78 313.3 185.94 319.4 186.10 319.8 186.26 315.0 186.42 320.1 186.58 316.1 186.74 317.5 186.90 313.5 187.06 316.4 187.22 317.9 187.38 316.2 187.54 317.0 187.70 315.5 187.86 320.0 188.02 313.7 188.18 317.1 188.34 313.1 188.50 320.3 188.66 326.1 188.82 313.5 188.98 317.8 189.14 313.5 189.30 316.7 189.46 314.9 189.62 311.0 189.78 312.3 189.94 317.9 190.10 318.9 190.26 316.5 190.42 322.0 190.58 317.4 190.74 322.2 190.90 315.9 191.06 320.9 191.22 309.9 191.38 316.9 191.54 317.2 191.70 322.6 191.86 318.9 192.02 313.3 192.18 314.2 192.34 315.8 192.50 314.7 192.66 317.9 192.82 314.4 192.98 309.0 193.14 316.5 193.30 313.1 193.46 315.0 193.62 316.4 193.78 315.6 193.94 314.2 194.10 314.9 194.26 311.2 194.42 315.2 194.58 309.1 194.74 314.9 194.90 314.4 195.06 318.2 195.22 320.7 195.38 317.6 195.54 315.7 195.70 312.8 195.86 314.1 196.02 315.7 196.18 313.7 196.34 310.6 196.50 314.4 196.66 313.5 196.82 314.9 196.98 313.0 197.14 319.4 197.30 317.3 197.46 313.1 197.62 315.3 197.78 314.8 197.94 316.7 198.10 307.7 198.26 305.0 198.42 315.6 198.58 305.9 198.74 312.4 198.90 312.6 199.06 318.8 199.22 312.7 199.38 315.1 199.54 311.5 199.70 315.3 199.86 312.3 200.02 315.7 200.18 314.5 200.34 313.2 200.50 313.0 200.66 311.9 200.82 316.0 200.98 314.7 201.14 314.0 201.30 316.9 201.46 315.0 201.62 307.5 201.78 317.7 201.94 314.5 202.10 314.0 202.26 313.2 202.42 322.9 202.58 313.7 202.74 310.5 202.90 315.6 203.06 312.4 203.22 307.1 203.38 309.4 203.54 310.7 203.70 314.2 203.86 311.0 204.02 312.1 204.18 311.3 204.34 311.5 204.50 309.0 204.66 315.2 204.82 312.4 204.98 317.5 205.14 310.7 205.30 321.2 205.46 313.0 205.62 318.8 205.78 315.8 205.94 316.1 206.10 313.1 206.26 307.0 206.42 310.8 206.58 311.1 206.74 309.2 206.90 313.3 207.06 310.8 207.22 310.9 207.38 310.2 207.54 310.9 207.70 308.9 207.86 306.1 208.02 307.4 208.18 307.4 208.34 303.9 208.50 312.1 208.66 309.9 208.82 311.4 208.98 306.9 209.14 306.2 209.30 304.5 209.46 308.8 209.62 309.7 209.78 300.3 209.94 302.4 210.10 307.6 210.26 302.2 210.42 303.2 210.58 298.0 210.74 303.6 210.90 300.3 211.06 300.9 211.22 298.4 211.38 307.3 211.54 302.2 211.70 299.7 211.86 297.0 212.02 297.4 212.18 302.3 212.34 295.0 212.50 294.0 212.66 293.2 212.82 294.8 212.98 289.7 213.14 289.2 213.30 287.1 213.46 288.2 213.62 288.3 213.78 295.7 213.94 288.4 214.10 293.1 214.26 284.0 214.42 282.4 214.58 284.9 214.74 282.0 214.90 281.2 215.06 286.5 215.22 280.1 215.38 270.7 215.54 275.8 215.70 282.1 215.86 278.6 216.02 274.4 216.18 273.0 216.34 270.8 216.50 270.6 216.66 269.1 216.82 273.0 216.98 269.0 217.14 276.4 217.30 269.1 217.46 262.5 217.62 264.4 217.78 254.5 217.94 263.4 218.10 250.5 218.26 265.8 218.42 250.7 218.58 253.2 218.74 265.9 218.90 237.7 219.06 247.1 219.22 248.1 219.38 239.3 219.54 243.9 219.70 237.0 219.86 232.3 220.02 245.5 220.18 227.0 220.34 240.8 220.50 228.0 220.66 248.7 220.82 225.3 220.98 233.1 221.14 246.3 221.30 237.7 221.46 224.5 221.62 223.7 221.78 237.2 221.94 227.2 222.10 232.6 222.26 232.2 222.42 223.3 222.58 222.0 222.74 224.7 222.90 229.2 223.06 238.1 223.22 244.3 223.38 231.4 223.54 234.3 223.70 233.1 223.86 239.7 224.02 247.3 224.18 242.1 224.34 236.8 224.50 234.7 224.66 235.1 224.82 244.2 224.98 243.6 225.14 257.5 225.30 238.2 225.46 246.0 225.62 247.7 225.78 245.2 225.94 254.9 226.10 253.1 226.26 255.2 226.42 250.5 226.58 253.7 226.74 252.9 226.90 256.8 227.06 254.4 227.22 269.8 227.38 247.1 227.54 252.8 227.70 251.9 227.86 272.2 228.02 274.3 228.18 261.1 228.34 249.5 228.50 266.4 228.66 261.9 228.82 253.5 228.98 253.4 229.14 266.7 229.30 245.0 229.46 266.6 229.62 267.1 229.78 263.6 229.94 261.9 230.10 267.9 230.26 256.5 230.42 263.5 230.58 259.6 230.74 266.5 230.90 271.4 231.06 269.2 231.22 282.1 231.38 265.3 231.54 271.2 231.70 268.4 231.86 265.7 232.02 265.8 232.18 268.0 232.34 272.3 232.50 267.6 232.66 284.5 232.82 265.2 232.98 267.5 233.14 270.4 233.30 279.6 233.46 270.2 233.62 261.7 233.78 277.1 233.94 279.2 234.10 267.7 234.26 264.0 234.42 272.1 234.58 270.2 234.74 263.8 234.90 265.9 235.06 269.2 235.22 275.7 235.38 275.7 235.54 265.7 235.70 271.5 235.86 269.1 236.02 263.5 236.18 266.9 236.34 265.2 236.50 270.3 236.66 267.9 236.82 269.2 236.98 271.5 237.14 266.8 237.30 263.3 237.46 276.4 237.62 270.6 237.78 276.0 237.94 273.6 238.10 268.1 238.26 254.6 238.42 250.0 238.58 267.8 238.74 273.1 238.90 271.9 239.06 268.1 239.22 266.8 239.38 276.3 239.54 271.7 239.70 263.3 239.86 272.9 240.02 268.5 240.18 268.7 240.34 280.1 240.50 272.7 240.66 270.6 240.82 274.6 240.98 283.3 241.14 279.8 241.30 273.8 241.46 282.6 241.62 284.4 241.78 283.4 241.94 267.9 242.10 271.1 242.26 281.2 242.42 290.6 242.58 291.3 242.74 281.2 242.90 286.8 243.06 280.1 243.22 288.7 243.38 294.9 243.54 287.6 243.70 289.1 243.86 289.6 244.02 286.4 244.18 285.4 244.34 288.3 244.50 290.8 244.66 283.6 244.82 288.8 244.98 293.2 245.14 293.7 245.30 296.0 245.46 287.5 245.62 290.6 245.78 296.4 245.94 290.2 246.10 293.6 246.26 295.2 246.42 290.4 246.58 298.5 246.74 292.3 246.90 294.1 247.06 305.6 247.22 296.5 247.38 291.8 247.54 297.6 247.70 300.3 247.86 301.0 248.02 294.5 248.18 298.4 248.34 300.9 248.50 305.4 248.66 301.2 248.82 303.5 248.98 297.6 249.14 305.6 249.30 300.7 249.46 307.2 249.62 300.2 249.78 298.7 249.94 301.8 250.10 303.4 250.26 307.4 250.42 302.6 250.58 299.7 250.74 306.2 250.90 300.6 251.06 297.5 251.22 307.1 251.38 302.6 251.54 306.0 251.70 304.3 251.86 299.2 252.02 311.0 252.18 311.9 252.34 312.5 252.50 304.3 252.66 306.1 252.82 306.7 252.98 308.6 253.14 308.9 253.30 310.5 253.46 311.8 253.62 307.5 253.78 311.1 253.94 307.9 254.10 310.8 254.26 306.3 254.42 308.3 254.58 316.5 254.74 308.5 254.90 316.1 255.06 306.8 255.22 309.5 255.38 310.4 255.54 310.8 255.70 315.2 255.86 301.5 256.02 299.6 256.18 307.8 256.34 308.0 256.50 310.0 256.66 309.1 256.82 303.1 256.98 306.1 257.14 309.8 257.30 304.9 257.46 308.6 257.62 308.8 257.78 308.0 257.94 303.9 258.10 311.0 258.26 309.5 258.42 312.5 258.58 308.9 258.74 308.1 258.90 308.4 259.06 303.8 259.22 304.3 259.38 309.3 259.54 317.4 259.70 307.1 259.86 305.2 260.02 304.7 260.18 309.7 260.34 298.4 260.50 307.1 260.66 308.0 260.82 307.9 260.98 311.4 261.14 309.5 261.30 305.2 261.46 305.6 261.62 308.9 261.78 303.1 261.94 299.2 262.10 306.9 262.26 309.7 262.42 311.0 262.58 307.0 262.74 304.0 262.90 306.4 263.06 306.4 263.22 308.5 263.38 309.0 263.54 307.1 263.70 310.4 263.86 304.8 264.02 305.9 264.18 305.2 264.34 306.3 264.50 305.4 264.66 306.3 264.82 304.4 264.98 305.7 265.14 304.5 265.30 300.4 265.46 300.6 265.62 303.0 265.78 299.7 265.94 306.5 266.10 306.8 266.26 304.1 266.42 295.2 266.58 304.1 266.74 297.8 266.90 297.0 267.06 290.2 267.22 295.8 267.38 299.9 267.54 302.6 267.70 298.6 267.86 297.5 268.02 306.1 268.18 300.1 268.34 298.5 268.50 295.7 268.66 302.1 268.82 298.4 268.98 298.6 269.14 298.9 269.30 292.5 269.46 300.2 269.62 298.3 269.78 300.7 269.94 300.2 270.10 295.0 270.26 293.8 270.42 298.9 270.58 296.5 270.74 297.2 270.90 297.9 271.06 295.2 271.22 297.2 271.38 299.1 271.54 298.4 271.70 290.0 271.86 295.1 272.02 293.6 272.18 294.7 272.34 301.7 272.50 296.0 272.66 294.2 272.82 296.9 272.98 297.4 273.14 290.1 273.30 295.9 273.46 295.9 273.62 294.3 273.78 290.6 273.94 285.0 274.10 284.6 274.26 284.2 274.42 294.2 274.58 296.5 274.74 294.2 274.90 286.0 275.06 293.9 275.22 292.7 275.38 298.8 275.54 295.7 275.70 298.8 275.86 303.0 276.02 297.3 276.18 293.8 276.34 295.9 276.50 291.9 276.66 300.4 276.82 297.2 276.98 293.3 277.14 293.5 277.30 298.2 277.46 299.1 277.62 302.3 277.78 296.5 277.94 296.1 278.10 298.3 278.26 297.7 278.42 301.0 278.58 294.0 278.74 290.5 278.90 293.4 279.06 295.1 279.22 296.5 279.38 295.0 279.54 286.4 279.70 298.4 279.86 300.0 280.02 297.6 280.18 299.3 280.34 290.4 280.50 294.9 280.66 300.9 280.82 300.1 280.98 289.9 281.14 295.1 281.30 288.3 281.46 298.5 281.62 298.0 281.78 296.2 281.94 294.3 282.10 295.8 282.26 296.1 282.42 301.2 282.58 292.6 282.74 297.5 282.90 292.8 283.06 297.4 283.22 294.6 283.38 296.0 283.54 297.0 283.70 291.9 283.86 297.0 284.02 297.4 284.18 296.9 284.34 301.7 284.50 300.9 284.66 293.8 284.82 300.8 284.98 298.1 285.14 309.1 285.30 302.4 285.46 300.2 285.62 306.0 285.78 300.7 285.94 302.7 286.10 306.3 286.26 294.9 286.42 300.2 286.58 290.9 286.74 299.0 286.90 303.4 287.06 299.4 287.22 297.9 287.38 307.3 287.54 301.9 287.70 301.0 287.86 301.2 288.02 300.5 288.18 304.9 288.34 305.1 288.50 301.5 288.66 295.7 288.82 299.4 288.98 300.1 289.14 302.7 289.30 300.5 289.46 305.5 289.62 301.5 289.78 298.7 289.94 296.9 290.10 302.3 290.26 304.7 290.42 301.6 290.58 303.4 290.74 305.1 290.90 301.3 291.06 306.7 291.22 314.1 291.38 305.8 291.54 307.9 291.70 305.3 291.86 305.1 292.02 303.0 292.18 305.2 292.34 304.1 292.50 304.1 292.66 307.1 292.82 302.0 292.98 308.3 293.14 305.4 293.30 302.8 293.46 306.9 293.62 307.8 293.78 307.5 293.94 304.7 294.10 304.0 294.26 304.0 294.42 305.4 294.58 307.3 294.74 309.2 294.90 306.0 295.06 308.9 295.22 304.4 295.38 310.9 295.54 300.5 295.70 313.6 295.86 306.4 296.02 314.2 296.18 307.9 296.34 309.5 296.50 308.7 296.66 309.0 296.82 308.0 296.98 308.6 297.14 308.4 297.30 311.7 297.46 310.0 297.62 307.5 297.78 306.6 297.94 316.3 298.10 309.7 298.26 312.5 298.42 313.5 298.58 313.9 298.74 314.9 298.90 311.0 299.06 311.3 299.22 310.2 299.38 308.2 299.54 305.4 299.70 309.4 299.86 316.4 300.02 312.0 300.18 311.9 300.34 311.3 300.50 308.8 300.66 317.5 300.82 317.4 300.98 308.2 301.14 313.3 301.30 309.3 301.46 320.9 301.62 313.8 301.78 313.5 301.94 313.0 302.10 314.7 302.26 323.3 302.42 309.9 302.58 315.3 302.74 314.3 302.90 317.9 303.06 315.7 303.22 314.1 303.38 321.8 303.54 315.6 303.70 316.3 303.86 317.1 304.02 318.5 304.18 317.5 304.34 315.5 304.50 315.5 304.66 317.8 304.82 315.5 304.98 320.3 305.14 321.1 305.30 318.8 305.46 313.8 305.62 318.7 305.78 323.8 305.94 310.8 306.10 317.6 306.26 318.8 306.42 318.4 306.58 315.1 306.74 320.6 306.90 314.8 307.06 314.9 307.22 322.4 307.38 317.2 307.54 317.5 307.70 316.4 307.86 317.5 308.02 318.6 308.18 318.3 308.34 321.0 308.50 318.2 308.66 320.4 308.82 318.4 308.98 312.3 309.14 325.3 309.30 321.0 309.46 318.3 309.62 315.2 309.78 317.5 309.94 321.0 310.10 319.9 310.26 315.6 310.42 313.4 310.58 316.4 310.74 317.7 310.90 314.7 311.06 317.9 311.22 320.5 311.38 318.3 311.54 314.9 311.70 326.6 311.86 321.5 312.02 318.0 312.18 317.8 312.34 320.4 312.50 321.4 312.66 319.0 312.82 319.8 312.98 317.1 313.14 316.3 313.30 317.8 313.46 320.2 313.62 317.3 313.78 321.0 313.94 319.7 314.10 319.2 314.26 319.7 314.42 316.7 314.58 319.4 314.74 317.5 314.90 317.6 315.06 321.6 315.22 320.5 315.38 320.0 315.54 318.7 315.70 315.6 315.86 319.7 316.02 318.2 316.18 316.6 316.34 320.5 316.50 319.2 316.66 319.1 316.82 319.4 316.98 321.5 317.14 319.7 317.30 318.3 317.46 317.8 317.62 314.3 317.78 320.3 317.94 317.9 318.10 322.7 318.26 319.0 318.42 320.0 318.58 318.2 318.74 320.6 318.90 317.4 319.06 320.5 319.22 311.4 319.38 314.0 319.54 321.4 319.70 321.2 319.86 322.4 320.02 320.0 320.18 320.4 320.34 321.6 320.50 317.9 320.66 316.2 320.82 318.0 320.98 321.4 321.14 317.8 321.30 320.3 321.46 318.0 321.62 317.2 321.78 314.1 321.94 318.3 322.10 316.1 322.26 318.4 322.42 318.6 322.58 320.7 322.74 321.2 322.90 317.7 323.06 319.7 323.22 320.1 323.38 318.6 323.54 321.1 323.70 320.3 323.86 318.0 324.02 319.6 324.18 320.7 324.34 318.7 324.50 318.5 324.66 318.4 324.82 319.0 324.98 319.2 325.14 317.5 325.30 318.8 325.46 315.8 325.62 317.6 325.78 319.1 325.94 315.5 326.10 319.9 326.26 318.3 326.42 321.6 326.58 317.8 326.74 318.0 326.90 318.3 327.06 318.9 327.22 315.4 327.38 319.9 327.54 315.7 327.70 316.9 327.86 316.0 328.02 320.4 328.18 317.5 328.34 320.8 328.50 325.7 328.66 316.3 328.82 316.5 328.98 321.0 329.14 318.2 329.30 318.8 329.46 317.6 329.62 317.4 329.78 316.4 329.94 315.7 330.10 324.0 330.26 315.9 330.42 315.0 330.58 315.3 330.74 316.6 330.90 318.5 331.06 317.2 331.22 315.1 331.38 316.5 331.54 316.8 331.70 315.8 331.86 316.4 332.02 315.8 332.18 318.7 332.34 320.3 332.50 316.6 332.66 318.2 332.82 321.1 332.98 316.3 333.14 313.6 333.30 317.9 333.46 318.0 333.62 314.6 333.78 317.0 333.94 316.7 334.10 319.9 334.26 320.9 334.42 320.4 334.58 315.0 334.74 317.4 334.90 315.1 335.06 314.3 335.22 323.9 335.38 314.5 335.54 314.7 335.70 316.9 335.86 315.3 336.02 314.0 336.18 315.8 336.34 316.0 336.50 317.2 336.66 315.3 336.82 315.6 336.98 316.1 337.14 317.3 337.30 320.6 337.46 314.2 337.62 315.7 337.78 311.3 337.94 315.7 338.10 313.1 338.26 317.6 338.42 314.1 338.58 314.4 338.74 315.4 338.90 313.6 339.06 314.3 339.22 316.2 339.38 313.7 339.54 313.8 339.70 315.8 339.86 313.2 340.02 316.4 340.18 315.7 340.34 314.1 340.50 315.1 340.66 310.1 340.82 315.1 340.98 315.6 341.14 318.7 341.30 314.1 341.46 312.7 341.62 311.6 341.78 319.2 341.94 314.9 342.10 314.3 342.26 315.2 342.42 316.8 342.58 313.8 342.74 315.0 342.90 313.8 343.06 315.7 343.22 318.0 343.38 314.5 343.54 314.6 343.70 313.7 343.86 315.0 344.02 315.4 344.18 315.0 344.34 315.3 344.50 313.5 344.66 310.6 344.82 314.8 344.98 312.5 345.14 315.1 345.30 312.0 345.46 313.5 345.62 315.8 345.78 317.6 345.94 313.6 346.10 305.9 346.26 315.3 346.42 310.3 346.58 311.5 346.74 312.2 346.90 311.7 347.06 313.3 347.22 312.1 347.38 316.4 347.54 312.3 347.70 312.4 347.86 312.2 348.02 314.1 348.18 310.8 348.34 313.5 348.50 311.7 348.66 312.6 348.82 312.6 348.98 313.2 349.14 312.9 349.30 314.4 349.46 313.3 349.62 313.8 349.78 313.2 349.94 305.5 350.10 312.2 350.26 310.2 350.42 311.7 350.58 314.7 350.74 314.5 350.90 310.7 351.06 314.7 351.22 306.7 351.38 311.2 351.54 313.9 351.70 311.4 351.86 314.8 352.02 310.7 352.18 312.9 352.34 311.8 352.50 312.9 352.66 310.6 352.82 313.6 352.98 312.6 353.14 311.3 353.30 314.4 353.46 316.4 353.62 311.6 353.78 310.9 353.94 314.6 354.10 314.9 354.26 311.4 354.42 314.0 354.58 313.9 354.74 317.7 354.90 316.2 355.06 313.2 355.22 314.9 355.38 313.0 355.54 316.2 355.70 312.9 355.86 313.7 356.02 313.2 356.18 310.5 356.34 312.9 356.50 312.7 356.66 313.7 356.82 315.6 356.98 309.7 357.14 313.9 357.30 312.8 357.46 320.1 357.62 312.9 357.78 317.4 357.94 318.5 358.10 315.0 358.26 318.0 358.42 319.4 358.58 312.6 358.74 316.9 358.90 315.8 359.06 315.4 359.22 316.9 359.38 312.7 359.54 317.4 359.70 317.0 359.86 317.5 360.02 316.8 360.18 318.3 360.34 316.6 360.50 317.4 360.66 317.6 360.82 314.0 360.98 311.7 361.14 313.1 361.30 314.7 361.46 317.4 361.62 320.9 361.78 317.0 361.94 316.4 362.10 322.7 362.26 316.6 362.42 316.9 362.58 316.5 362.74 314.7 362.90 317.1 363.06 317.2 363.22 312.0 363.38 318.2 363.54 319.2 363.70 316.6 363.86 316.1 364.02 320.8 364.18 314.7 364.34 318.7 364.50 319.4 364.66 317.5 364.82 316.8 364.98 318.7 365.14 319.7 365.30 316.0 365.46 319.1 365.62 318.4 365.78 315.5 365.94 318.3 366.10 318.0 366.26 319.3 366.42 319.2 366.58 318.7 366.74 317.5 366.90 319.3 367.06 319.3 367.22 318.0 367.38 319.5 367.54 315.7 367.70 318.4 367.86 325.0 368.02 313.3 368.18 315.4 368.34 317.4 368.50 317.9 368.66 315.7 368.82 316.7 368.98 319.3 369.14 321.2 369.30 316.3 369.46 316.0 369.62 316.8 369.78 321.4 369.94 318.6 370.10 317.9 370.26 321.7 370.42 315.9 370.58 318.3 370.74 318.7 370.90 315.5 371.06 324.4 371.22 317.0 371.38 316.8 371.54 317.0 371.70 315.4 371.86 319.6 372.02 316.1 372.18 317.0 372.34 314.8 372.50 316.9 372.66 315.5 372.82 318.0 372.98 317.2 373.14 316.2 373.30 314.9 373.46 314.7 373.62 317.6 373.78 317.4 373.94 315.2 374.10 315.0 374.26 314.2 374.42 315.4 374.58 319.2 374.74 314.0 374.90 317.0 375.06 321.6 375.22 317.7 375.38 308.9 375.54 316.3 375.70 316.8 375.86 316.3 376.02 317.2 376.18 314.8 376.34 314.4 376.50 315.0 376.66 315.1 376.82 322.9 376.98 315.6 377.14 316.9 377.30 317.2 377.46 315.4 377.62 312.5 377.78 314.0 377.94 316.1 378.10 316.3 378.26 314.7 378.42 313.6 378.58 314.6 378.74 316.4 378.90 321.0 379.06 316.0 379.22 315.3 379.38 313.8 379.54 314.6 379.70 313.4 379.86 315.3 380.02 316.4 380.18 315.4 380.34 316.9 380.50 308.7 380.66 314.8 380.82 311.7 380.98 315.4 381.14 316.9 381.30 318.4 381.46 313.9 381.62 315.6 381.78 316.7 381.94 314.7 382.10 317.1 382.26 316.3 382.42 316.5 382.58 315.1 382.74 313.8 382.90 314.1 383.06 311.0 383.22 316.3 383.38 315.2 383.54 315.2 383.70 315.8 383.86 313.1 384.02 316.1 384.18 316.6 384.34 312.7 384.50 318.0 384.66 315.3 384.82 317.3 384.98 317.3 385.14 313.2 385.30 314.2 385.46 316.9 385.62 319.9 385.78 314.5 385.94 314.5 386.10 319.4 386.26 319.0 386.42 317.4 386.58 316.2 386.74 317.3 386.90 320.4 387.06 316.7 387.22 317.1 387.38 317.3 387.54 316.7 387.70 315.0 387.86 316.1 388.02 315.9 388.18 317.0 388.34 314.8 388.50 316.9 388.66 317.0 388.82 316.1 388.98 317.4 389.14 319.2 389.30 315.7 389.46 318.9 389.62 317.1 389.78 318.5 389.94 317.6 390.10 321.3 390.26 317.7 390.42 315.8 390.58 318.6 390.74 321.6 390.90 316.4 391.06 317.6 391.22 315.9 391.38 317.0 391.54 316.9 391.70 319.2 391.86 319.5 392.02 318.8 392.18 320.1 392.34 319.6 392.50 321.1 392.66 318.1 392.82 319.3 392.98 318.2 393.14 318.7 393.30 319.7 393.46 317.6 393.62 317.3 393.78 317.9 393.94 316.5 394.10 319.1 394.26 318.6 394.42 314.7 394.58 317.9 394.74 316.5 394.90 318.4 395.06 317.7 395.22 319.1 395.38 314.7 395.54 318.0 395.70 320.3 395.86 317.0 396.02 318.4 396.18 320.7 396.34 320.5 396.50 318.1 396.66 319.5 396.82 315.6 396.98 316.6 397.14 318.9 397.30 325.6 397.46 317.1 397.62 317.7 397.78 317.7 397.94 315.7 398.10 318.0 398.26 320.9 398.42 318.2 398.58 320.3 398.74 317.9 398.90 319.3 399.06 325.7 399.22 321.3 399.38 323.1 399.54 322.2 399.70 319.0 399.86 317.4 400.02 320.4 400.18 321.1 400.34 320.7 400.50 318.9 400.66 319.5 400.82 319.3 400.98 317.9 401.14 321.0 401.30 318.6 401.46 318.6 401.62 320.3 401.78 320.4 401.94 321.3 402.10 314.4 402.26 322.0 402.42 316.9 402.58 313.7 402.74 320.7 402.90 318.3 403.06 319.0 403.22 316.1 403.38 319.7 403.54 318.8 403.70 319.2 403.86 321.9 404.02 316.4 404.18 319.3 404.34 321.4 404.50 319.6 404.66 319.9 404.82 320.0 404.98 318.6 405.14 319.4 405.30 318.2 405.46 322.7 405.62 316.9 405.78 319.3 405.94 316.6 406.10 320.0 406.26 319.0 406.42 319.2 406.58 318.3 406.74 318.5 406.90 318.1 407.06 318.5 407.22 318.8 407.38 321.2 407.54 318.7 407.70 319.9 407.86 321.4 408.02 318.8 408.18 320.1 408.34 322.4 408.50 320.6 408.66 320.2 408.82 317.3 408.98 319.4 409.14 321.2 409.30 320.3 409.46 324.7 409.62 318.3 409.78 317.7 409.94 318.5 410.10 321.6 410.26 319.3 410.42 321.8 410.58 318.7 410.74 318.7 410.90 321.4 411.06 321.3 411.22 319.1 411.38 320.5 411.54 318.2 411.70 323.0 411.86 319.1 412.02 322.1 412.18 321.0 412.34 320.0 412.50 318.7 412.66 324.4 412.82 317.8 412.98 317.8 413.14 323.1 413.30 321.9 413.46 321.2 413.62 319.8 413.78 323.3 413.94 323.0 414.10 319.4 414.26 322.8 414.42 320.6 414.58 318.1 414.74 320.2 414.90 324.4 415.06 322.2 415.22 315.6 415.38 321.1 415.54 319.5 415.70 321.8 415.86 318.8 416.02 318.9 416.18 321.6 416.34 321.9 416.50 320.1 416.66 320.4 416.82 322.3 416.98 321.2 417.14 317.5 417.30 322.3 417.46 319.9 417.62 320.1 417.78 318.7 417.94 319.9 418.10 321.7 418.26 318.5 418.42 320.4 418.58 322.4 418.74 318.6 418.90 319.3 419.06 323.1 419.22 318.3 419.38 320.1 419.54 321.4 419.70 319.6 419.86 320.1 420.02 322.1 420.18 321.5 420.34 321.1 420.50 317.4 420.66 319.1 420.82 319.5 420.98 322.2 421.14 320.6 421.30 316.0 421.46 318.9 421.62 320.5 421.78 323.9 421.94 320.0 422.10 320.2 422.26 321.4 422.42 322.0 422.58 322.0 422.74 319.6 422.90 319.6 423.06 318.7 423.22 320.5 423.38 318.6 423.54 314.0 423.70 322.2 423.86 318.3 424.02 322.1 424.18 323.4 424.34 323.6 424.50 321.6 424.66 323.2 424.82 320.9 424.98 322.7 425.14 320.7 425.30 319.2 425.46 321.8 425.62 317.1 425.78 320.4 425.94 324.9 426.10 320.4 426.26 320.3 426.42 321.9 426.58 321.2 426.74 321.2 426.90 317.2 427.06 320.4 427.22 320.7 427.38 322.1 427.54 321.0 427.70 319.3 427.86 319.5 428.02 322.3 428.18 320.7 428.34 320.7 428.50 319.4 428.66 321.3 428.82 322.2 428.98 316.9 429.14 320.5 429.30 322.9 429.46 321.3 429.62 321.9 429.78 321.9 429.94 319.0 430.10 320.9 430.26 318.3 430.42 319.9 430.58 319.8 430.74 318.4 430.90 321.4 431.06 320.5 431.22 321.5 431.38 320.2 431.54 327.2 431.70 322.3 431.86 320.5 432.02 317.9 432.18 317.7 432.34 321.6 432.50 320.9 432.66 320.8 432.82 319.4 432.98 319.8 433.14 318.1 433.30 321.2 433.46 317.3 433.62 325.0 433.78 321.0 433.94 324.8 434.10 321.6 434.26 318.7 434.42 321.9 434.58 321.9 434.74 314.8 434.90 318.9 435.06 317.2 435.22 322.3 435.38 320.9 435.54 320.5 435.70 326.7 435.86 320.2 436.02 323.9 436.18 319.5 436.34 317.9 436.50 317.8 436.66 319.8 436.82 323.1 436.98 322.2 437.14 322.7 437.30 321.3 437.46 319.7 437.62 321.2 437.78 319.1 437.94 319.7 438.10 321.8 438.26 320.7 438.42 321.9 438.58 322.3 438.74 319.9 438.90 320.2 439.06 322.5 439.22 319.4 439.38 321.4 439.54 321.9 439.70 320.1 439.86 322.5 440.02 320.0 440.18 318.6 440.34 324.8 440.50 320.3 440.66 317.4 440.82 323.9 440.98 322.1 441.14 324.4 441.30 319.8 441.46 321.1 441.62 318.3 441.78 326.8 441.94 319.6 442.10 319.6 442.26 319.3 442.42 324.0 442.58 322.2 442.74 322.3 442.90 322.6 443.06 323.3 443.22 321.8 443.38 322.3 443.54 319.8 443.70 322.0 443.86 319.4 444.02 322.8 444.18 317.5 444.34 318.3 444.50 320.3 444.66 317.7 444.82 320.2 444.98 321.0 445.14 318.9 445.30 322.4 445.46 320.6 445.62 315.9 445.78 325.4 445.94 321.2 446.10 320.1 446.26 322.0 446.42 321.2 446.58 322.3 446.74 321.7 446.90 320.4 447.06 318.1 447.22 321.6 447.38 319.2 447.54 319.6 447.70 326.4 447.86 320.7 448.02 319.5 448.18 319.5 448.34 321.8 448.50 320.8 448.66 320.5 448.82 320.3 448.98 324.0 449.14 321.2 449.30 318.8 449.46 319.1 449.62 319.0 449.78 319.8 449.94 317.4 450.10 320.3 450.26 320.5 450.42 319.1 450.58 319.4 450.74 320.3 450.90 318.3 451.06 317.6 451.22 316.6 451.38 318.7 451.54 321.4 451.70 322.5 451.86 316.8 452.02 322.1 452.18 314.3 452.34 318.8 452.50 314.4 452.66 318.4 452.82 312.2 452.98 316.7 453.14 317.5 453.30 319.8 453.46 319.1 453.62 318.3 453.78 322.1 453.94 316.4 454.10 317.6 454.26 316.3 454.42 318.8 454.58 319.0 454.74 317.6 454.90 318.4 455.06 318.6 455.22 316.5 455.38 320.1 455.54 318.0 455.70 317.7 455.86 316.6 456.02 320.4 456.18 316.0 456.34 316.0 456.50 315.6 456.66 321.3 456.82 316.6 456.98 317.9 457.14 317.5 457.30 319.1 457.46 312.9 457.62 318.1 457.78 318.3 457.94 314.5 458.10 317.1 458.26 315.1 458.42 315.5 458.58 316.6 458.74 317.9 458.90 315.8 459.06 314.5 459.22 312.3 459.38 315.6 459.54 315.4 459.70 314.9 459.86 320.2 460.02 314.4 460.18 316.9 460.34 317.6 460.50 317.7 460.66 317.4 460.82 313.5 460.98 314.1 461.14 318.7 461.30 315.0 461.46 313.6 461.62 314.8 461.78 313.6 461.94 311.6 462.10 315.1 462.26 317.0 462.42 314.3 462.58 314.3 462.74 313.4 462.90 314.7 463.06 314.7 463.22 314.6 463.38 314.0 463.54 313.0 463.70 312.9 463.86 311.1 464.02 314.7 464.18 312.5 464.34 313.6 464.50 317.6 464.66 313.9 464.82 313.2 464.98 315.4 465.14 319.1 465.30 312.9 465.46 312.4 465.62 316.8 465.78 313.5 465.94 314.0 466.10 314.6 466.26 317.0 466.42 313.3 466.58 314.7 466.74 314.8 466.90 315.1 467.06 311.0 467.22 311.8 467.38 314.0 467.54 316.6 467.70 313.5 467.86 313.3 468.02 312.7 468.18 311.5 468.34 313.1 468.50 312.6 468.66 310.1 468.82 311.4 468.98 309.7 469.14 313.1 469.30 306.4 469.46 315.1 469.62 313.9 469.78 311.8 469.94 310.3 470.10 312.6 470.26 314.0 470.42 313.5 470.58 316.0 470.74 317.4 470.90 313.5 471.06 315.1 471.22 308.1 471.38 312.6 471.54 314.6 471.70 317.8 471.86 315.6 472.02 312.3 472.18 312.2 472.34 311.9 472.50 313.6 472.66 311.1 472.82 312.9 472.98 313.7 473.14 313.9 473.30 316.3 473.46 313.5 473.62 312.3 473.78 310.9 473.94 314.7 474.10 307.1 474.26 313.4 474.42 311.7 474.58 313.1 474.74 312.2 474.90 311.8 475.06 310.3 475.22 311.5 475.38 315.9 475.54 312.1 475.70 314.6 475.86 313.6 476.02 314.5 476.18 313.1 476.34 312.4 476.50 316.5 476.66 314.3 476.82 313.7 476.98 315.5 477.14 312.4 477.30 314.3 477.46 311.3 477.62 311.6 477.78 311.8 477.94 316.2 478.10 312.9 478.26 312.5 478.42 315.2 478.58 313.5 478.74 311.4 478.90 313.2 479.06 312.4 479.22 308.5 479.38 312.8 479.54 313.2 479.70 313.8 479.86 310.9 480.02 311.0 480.18 311.3 480.34 313.4 480.50 311.2 480.66 310.9 480.82 314.4 480.98 311.6 481.14 313.0 481.30 310.1 481.46 316.3 481.62 313.1 481.78 316.3 481.94 314.3 482.10 319.5 482.26 307.8 482.42 313.0 482.58 311.1 482.74 314.4 482.90 312.9 483.06 312.0 483.22 309.4 483.38 313.0 483.54 319.2 483.70 311.6 483.86 311.2 484.02 313.6 484.18 315.8 484.34 311.3 484.50 313.7 484.66 312.6 484.82 312.9 484.98 314.0 485.14 314.2 485.30 318.3 485.46 312.3 485.62 311.4 485.78 313.8 485.94 314.3 486.10 308.8 486.26 309.8 486.42 313.6 486.58 313.9 486.74 313.3 486.90 309.3 487.06 313.6 487.22 319.4 487.38 310.4 487.54 315.2 487.70 312.6 487.86 312.1 488.02 310.3 488.18 313.5 488.34 314.4 488.50 317.6 488.66 318.6 488.82 318.1 488.98 309.8 489.14 313.7 489.30 310.1 489.46 314.9 489.62 311.7 489.78 316.3 489.94 313.3 490.10 315.7 490.26 315.8 490.42 314.8 490.58 315.3 490.74 312.7 490.90 315.3 491.06 315.2 491.22 314.3 491.38 314.9 491.54 318.9 491.70 316.4 491.86 312.7 492.02 316.4 492.18 317.9 492.34 314.5 492.50 317.0 492.66 315.8 492.82 312.0 492.98 315.3 493.14 315.5 493.30 315.2 493.46 313.1 493.62 314.5 493.78 313.4 493.94 313.4 494.10 313.0 494.26 316.6 494.42 316.4 494.58 315.4 494.74 315.3 494.90 315.2 495.06 312.6 495.22 318.9 495.38 316.1 495.54 316.5 495.70 313.7 495.86 314.2 496.02 315.8 496.18 315.4 496.34 311.3 496.50 313.7 496.66 314.1 496.82 314.2 496.98 317.0 497.14 315.1 497.30 318.8 497.46 316.1 497.62 314.4 497.78 311.4 497.94 318.3 498.10 314.9 498.26 315.4 498.42 316.1 498.58 313.7 498.74 315.0 498.90 314.7 499.06 314.2 499.22 315.1 499.38 314.8 499.54 315.6 499.70 314.8 499.86 313.2 500.02 309.5 500.18 316.6 500.34 313.8 500.50 314.8 500.66 315.0 500.82 315.5 500.98 315.1 501.14 314.9 501.30 314.9 501.46 320.1 501.62 312.0 501.78 314.0 501.94 316.8 502.10 315.8 502.26 314.9 502.42 311.6 502.58 315.1 502.74 315.5 502.90 313.1 503.06 314.2 503.22 315.0 503.38 315.5 503.54 315.7 503.70 317.0 503.86 314.7 504.02 314.0 504.18 317.2 504.34 318.0 504.50 316.2 504.66 312.9 504.82 314.9 504.98 315.1 505.14 318.1 505.30 317.0 505.46 315.7 505.62 314.5 505.78 315.4 505.94 314.7 506.10 315.7 506.26 315.8 506.42 315.1 506.58 319.7 506.74 317.1 506.90 319.3 507.06 315.3 507.22 312.8 507.38 317.1 507.54 314.7 507.70 316.1 507.86 315.4 508.02 315.1 508.18 315.9 508.34 316.1 508.50 314.4 508.66 315.2 508.82 315.0 508.98 314.3 509.14 316.6 509.30 314.5 509.46 312.3 509.62 316.5 509.78 320.8 509.94 311.4 510.10 313.0 510.26 314.2 510.42 313.3 510.58 314.9 510.74 315.7 510.90 311.6 511.06 315.7 511.22 314.3 511.38 316.6 511.54 315.1 511.70 309.8 511.86 314.3 512.02 311.2 512.18 313.6 512.34 312.5 512.50 313.1 512.66 306.7 512.82 306.4 512.98 312.8 513.14 310.4 513.30 305.8 513.46 308.3 513.62 307.1 513.78 307.0 513.94 303.7 514.10 304.3 514.26 303.6 514.42 307.3 514.58 300.5 514.74 300.3 514.90 300.1 515.06 299.8 515.22 302.2 515.38 293.4 515.54 296.5 515.70 294.7 515.86 294.2 516.02 294.6 516.18 288.5 516.34 288.4 516.50 288.6 516.66 279.9 516.82 281.1 516.98 278.1 517.14 278.3 517.30 275.5 517.46 279.6 517.62 270.8 517.78 275.4 517.94 268.6 518.10 272.3 518.26 264.4 518.42 255.2 518.58 261.3 518.74 263.8 518.90 255.0 519.06 268.6 519.22 257.6 519.38 256.0 519.54 247.9 519.70 252.6 519.86 247.4 520.02 248.2 520.18 254.1 520.34 242.9 520.50 240.0 520.66 247.4 520.82 250.2 520.98 253.1 521.14 254.5 521.30 253.6 521.46 255.5 521.62 257.8 521.78 258.0 521.94 263.4 522.10 272.4 522.26 271.2 522.42 272.3 522.58 269.1 522.74 282.9 522.90 285.2 523.06 281.5 523.22 278.4 523.38 285.3 523.54 288.7 523.70 294.3 523.86 294.1 524.02 291.0 524.18 297.3 524.34 297.6 524.50 298.5 524.66 304.7 524.82 302.8 524.98 303.8 525.14 307.7 525.30 304.2 525.46 308.7 525.62 309.1 525.78 308.7 525.94 309.6 526.10 310.5 526.26 313.7 526.42 314.5 526.58 315.9 526.74 313.9 526.90 314.7 527.06 315.5 527.22 311.8 527.38 314.2 527.54 315.7 527.70 316.4 527.86 313.3 528.02 316.5 528.18 318.2 528.34 319.3 528.50 315.1 528.66 316.5 528.82 319.5 528.98 315.9 529.14 319.0 529.30 320.1 529.46 322.5 529.62 322.0 529.78 321.8 529.94 317.8 530.10 320.8 530.26 319.3 530.42 324.9 530.58 320.3 530.74 320.1 530.90 319.1 531.06 324.9 531.22 320.2 531.38 319.5 531.54 319.6 531.70 322.4 531.86 317.4 532.02 320.4 532.18 318.8 532.34 315.0 532.50 319.1 532.66 320.2 532.82 317.7 532.98 321.0 533.14 320.8 533.30 319.6 533.46 322.8 533.62 320.4 533.78 319.1 533.94 325.0 534.10 321.1 534.26 318.9 534.42 320.6 534.58 320.5 534.74 321.5 534.90 321.9 535.06 322.1 535.22 321.6 535.38 318.8 535.54 319.1 535.70 322.2 535.86 322.0 536.02 326.3 536.18 317.8 536.34 321.6 536.50 321.2 536.66 319.6 536.82 321.8 536.98 320.4 537.14 321.1 537.30 322.0 537.46 323.7 537.62 326.4 537.78 319.9 537.94 320.5 538.10 318.5 538.26 318.6 538.42 320.9 538.58 317.3 538.74 321.6 538.90 322.4 539.06 319.9 539.22 320.1 539.38 320.7 539.54 321.1 539.70 321.4 539.86 320.8 540.02 323.8 540.18 322.9 540.34 321.9 540.50 320.7 540.66 322.9 540.82 324.6 540.98 317.4 541.14 321.2 541.30 320.8 541.46 315.6 541.62 323.2 541.78 321.1 541.94 319.5 542.10 319.8 542.26 322.0 542.42 318.4 542.58 321.0 542.74 320.5 542.90 319.0 543.06 320.3 543.22 321.8 543.38 320.3 543.54 326.6 543.70 320.6 543.86 321.0 544.02 322.1 544.18 321.2 544.34 326.2 544.50 323.9 544.66 321.0 544.82 323.2 544.98 322.8 545.14 320.0 545.30 319.3 545.46 320.1 545.62 320.6 545.78 321.5 545.94 319.9 546.10 322.6 546.26 325.2 546.42 320.7 546.58 322.6 546.74 318.4 546.90 322.7 547.06 321.9 547.22 320.9 547.38 322.5 547.54 320.3 547.70 322.1 547.86 317.8 548.02 315.9 548.18 320.6 548.34 320.5 548.50 321.3 548.66 319.7 548.82 315.9 548.98 322.8 549.14 319.8 549.30 321.5 549.46 320.2 549.62 320.1 549.78 319.3 549.94 316.7 550.10 320.7 550.26 320.8 550.42 321.2 550.58 321.3 550.74 320.8 550.90 320.0 551.06 320.0 551.22 319.2 551.38 322.3 551.54 321.9 551.70 319.6 551.86 321.6 552.02 321.1 552.18 324.2 552.34 318.6 552.50 321.5 552.66 321.8 552.82 322.5 552.98 320.9 553.14 321.5 553.30 324.9 553.46 322.4 553.62 320.3 553.78 319.5 553.94 320.8 554.10 320.0 554.26 319.3 554.42 321.1 554.58 316.8 554.74 321.2 554.90 322.3 555.06 325.9 555.22 324.6 555.38 320.6 555.54 320.7 555.70 320.9 555.86 320.1 556.02 321.8 556.18 319.9 556.34 319.6 556.50 322.1 556.66 324.0 556.82 318.3 556.98 319.9 557.14 320.7 557.30 321.2 557.46 322.9 557.62 320.7 557.78 321.8 557.94 323.0 558.10 319.7 558.26 323.3 558.42 320.8 558.58 321.8 558.74 322.2 558.90 318.0 559.06 323.6 559.22 323.5 559.38 321.2 559.54 319.6 559.70 315.8 559.86 321.1 560.02 320.1 560.18 324.1 560.34 324.3 560.50 321.6 560.66 319.8 560.82 321.1 560.98 322.5 561.14 323.9 561.30 321.3 561.46 321.4 561.62 322.6 561.78 322.5 561.94 320.7 562.10 320.2 562.26 320.9 562.42 321.2 562.58 319.3 562.74 322.4 562.90 318.0 563.06 320.6 563.22 325.9 563.38 321.2 563.54 320.7 563.70 321.1 563.86 320.4 564.02 321.8 564.18 322.3 564.34 321.8 564.50 321.2 564.66 318.1 564.82 323.3 564.98 320.2 565.14 319.7 565.30 320.9 565.46 321.0 565.62 323.7 565.78 321.9 565.94 325.3 566.10 322.1 566.26 322.6 566.42 322.9 566.58 321.0 566.74 321.5 566.90 323.2 567.06 321.5 567.22 320.5 567.38 326.4 567.54 320.4 567.70 321.5 567.86 324.1 568.02 319.4 568.18 323.4 568.34 321.9 568.50 318.6 568.66 320.0 568.82 321.2 568.98 320.3 569.14 320.2 569.30 321.3 569.46 318.0 569.62 320.9 569.78 322.9 569.94 320.2 570.10 320.7 570.26 321.7 570.42 322.8 570.58 322.0 570.74 322.0 570.90 320.0 571.06 321.6 571.22 324.8 571.38 323.7 571.54 323.0 571.70 319.6 571.86 318.4 572.02 322.0 572.18 322.0 572.34 322.6 572.50 319.5 572.66 321.8 572.82 320.3 572.98 320.5 573.14 324.1 573.30 317.5 573.46 317.7 573.62 320.1 573.78 322.9 573.94 320.7 574.10 318.1 574.26 320.7 574.42 324.2 574.58 322.4 574.74 322.7 574.90 322.3 575.06 323.3 575.22 323.1 575.38 321.1 575.54 315.9 575.70 321.5 575.86 321.7 576.02 321.2 576.18 323.0 576.34 321.8 576.50 320.1 576.66 319.7 576.82 321.8 576.98 322.1 577.14 324.3 577.30 322.5 577.46 321.4 577.62 318.7 577.78 322.2 577.94 319.5 578.10 319.7 578.26 321.1 578.42 321.2 578.58 320.6 578.74 321.2 578.90 319.7 579.06 321.6 579.22 319.5 579.38 321.5 579.54 321.1 579.70 321.6 579.86 320.7 580.02 322.1 580.18 318.1 580.34 323.5 580.50 318.7 580.66 320.7 580.82 319.7 580.98 320.1 581.14 321.9 581.30 320.8 581.46 321.8 581.62 318.4 581.78 322.6 581.94 320.6 582.10 318.0 582.26 319.8 582.42 319.1 582.58 318.8 582.74 323.2 582.90 321.2 583.06 319.6 583.22 322.5 583.38 323.9 583.54 315.9 583.70 321.8 583.86 320.1 584.02 319.6 584.18 321.2 584.34 319.9 584.50 321.3 584.66 320.8 584.82 321.0 584.98 320.6 585.14 321.1 585.30 319.4 585.46 320.8 585.62 326.2 585.78 321.3 585.94 320.8 586.10 320.1 586.26 320.4 586.42 320.9 586.58 323.0 586.74 320.7 586.90 321.4 587.06 321.3 587.22 318.9 587.38 321.0 587.54 320.4 587.70 321.4 587.86 321.8 588.02 323.3 588.18 322.0 588.34 322.9 588.50 321.2 588.66 320.7 588.82 322.1 588.98 320.8 589.14 320.6 589.30 321.5 589.46 322.6 589.62 322.2 589.78 322.0 589.94 322.0 590.10 323.2 590.26 322.7 590.42 321.8 590.58 324.9 590.74 321.3 590.90 323.4 591.06 323.2 591.22 321.0 591.38 320.4 591.54 320.2 591.70 321.1 591.86 319.3 592.02 320.3 592.18 321.2 592.34 322.6 592.50 320.7 592.66 319.9 592.82 322.4 592.98 323.1 593.14 321.0 593.30 322.9 593.46 319.1 593.62 321.7 593.78 320.6 593.94 323.6 594.10 322.4 594.26 321.7 594.42 323.2 594.58 321.6 594.74 321.7 594.90 322.4 595.06 321.8 595.22 318.9 595.38 320.6 595.54 320.9 595.70 320.6 595.86 321.8 596.02 320.7 596.18 321.5 596.34 321.3 596.50 319.9 596.66 322.9 596.82 323.1 596.98 320.6 597.14 318.4 597.30 321.7 597.46 321.6 597.62 321.3 597.78 320.4 597.94 319.8 598.10 322.4 598.26 321.4 598.42 317.8 598.58 322.2 598.74 323.9 598.90 320.4 599.06 321.3 599.22 322.4 599.38 318.8 599.54 320.9 599.70 323.6 599.86 321.9 600.02 321.9 600.18 319.8 600.34 320.5 600.50 320.5 600.66 321.8 600.82 320.3 600.98 320.5 601.14 321.8 601.30 321.7 601.46 321.5 601.62 323.0 601.78 324.9 601.94 320.7 602.10 321.4 602.26 322.4 602.42 320.4 602.58 321.9 602.74 320.8 602.90 319.6 603.06 321.9 603.22 318.3 603.38 322.6 603.54 319.7 603.70 323.2 603.86 322.0 604.02 320.4 604.18 321.4 604.34 323.0 604.50 321.2 604.66 325.8 604.82 320.8 604.98 321.5 605.14 321.3 605.30 321.8 605.46 322.1 605.62 321.8 605.78 322.0 605.94 321.9 606.10 320.1 606.26 320.0 606.42 318.6 606.58 320.6 606.74 320.0 606.90 321.6 607.06 321.0 607.22 323.8 607.38 321.3 607.54 321.0 607.70 321.2 607.86 322.2 608.02 320.5 608.18 321.4 608.34 320.2 608.50 321.5 608.66 322.9 608.82 319.8 608.98 322.1 609.14 323.3 609.30 321.9 609.46 322.0 609.62 321.7 609.78 322.4 609.94 320.9 610.10 322.3 610.26 320.4" fill="none" stroke="#1276ff" stroke-width="1" stroke-linejoin="round"/>
<path d="M93.3 463.8 93.46 459.5 93.62 457.8 93.78 457.9 93.94 461.5 94.10 456.2 94.26 462.4 94.42 463.1 94.58 457.6 94.74 460.0 94.90 458.0 95.06 460.8 95.22 458.2 95.38 454.5 95.54 461.6 95.70 460.7 95.86 463.8 96.02 459.6 96.18 462.0 96.34 458.8 96.50 462.2 96.66 461.4 96.82 449.9 96.98 456.1 97.14 459.0 97.30 460.4 97.46 460.3 97.62 457.2 97.78 458.1 97.94 456.6 98.10 460.7 98.26 461.1 98.42 459.5 98.58 464.0 98.74 459.5 98.90 469.8 99.06 459.2 99.22 461.1 99.38 457.2 99.54 464.9 99.70 460.2 99.86 462.8 100.02 458.6 100.18 458.0 100.34 461.2 100.50 463.8 100.66 457.6 100.82 460.3 100.98 463.1 101.14 459.6 101.30 459.5 101.46 458.4 101.62 463.2 101.78 455.2 101.94 457.2 102.10 456.9 102.26 461.7 102.42 461.1 102.58 461.6 102.74 466.1 102.90 465.3 103.06 457.0 103.22 463.8 103.38 465.7 103.54 460.3 103.70 455.7 103.86 457.2 104.02 460.5 104.18 459.9 104.34 461.8 104.50 463.2 104.66 462.4 104.82 460.9 104.98 460.5 105.14 462.7 105.30 459.1 105.46 460.7 105.62 458.7 105.78 461.2 105.94 457.0 106.10 461.9 106.26 462.5 106.42 463.2 106.58 461.2 106.74 453.4 106.90 459.6 107.06 458.0 107.22 450.7 107.38 465.0 107.54 471.0 107.70 460.5 107.86 459.9 108.02 456.6 108.18 459.9 108.34 459.7 108.50 460.4 108.66 458.6 108.82 461.4 108.98 462.1 109.14 459.2 109.30 460.7 109.46 461.9 109.62 459.1 109.78 462.0 109.94 464.5 110.10 455.3 110.26 454.4 110.42 462.6 110.58 462.2 110.74 461.0 110.90 461.4 111.06 458.3 111.22 460.9 111.38 459.8 111.54 460.6 111.70 459.4 111.86 465.0 112.02 459.5 112.18 462.0 112.34 460.8 112.50 460.2 112.66 460.3 112.82 461.9 112.98 456.1 113.14 470.0 113.30 452.7 113.46 463.2 113.62 459.2 113.78 455.0 113.94 462.5 114.10 456.9 114.26 456.4 114.42 464.7 114.58 458.5 114.74 460.9 114.90 461.2 115.06 454.2 115.22 458.1 115.38 466.5 115.54 457.1 115.70 453.2 115.86 458.4 116.02 456.6 116.18 455.9 116.34 458.4 116.50 455.8 116.66 458.8 116.82 462.6 116.98 459.8 117.14 457.3 117.30 453.5 117.46 460.7 117.62 456.6 117.78 456.3 117.94 454.8 118.10 453.5 118.26 455.1 118.42 458.8 118.58 455.6 118.74 457.2 118.90 445.2 119.06 454.7 119.22 456.0 119.38 456.6 119.54 454.1 119.70 451.9 119.86 455.0 120.02 458.7 120.18 455.1 120.34 454.5 120.50 465.3 120.66 455.1 120.82 449.3 120.98 462.0 121.14 452.1 121.30 455.9 121.46 454.0 121.62 458.7 121.78 455.1 121.94 451.1 122.10 449.7 122.26 455.2 122.42 452.6 122.58 447.7 122.74 443.6 122.90 452.0 123.06 454.0 123.22 450.5 123.38 449.2 123.54 448.7 123.70 450.2 123.86 448.7 124.02 448.2 124.18 446.5 124.34 449.1 124.50 451.3 124.66 443.9 124.82 450.4 124.98 448.6 125.14 446.9 125.30 447.7 125.46 448.4 125.62 444.2 125.78 442.7 125.94 439.7 126.10 445.0 126.26 449.7 126.42 444.2 126.58 446.1 126.74 441.0 126.90 449.6 127.06 446.1 127.22 445.4 127.38 440.4 127.54 450.5 127.70 451.1 127.86 450.4 128.02 444.7 128.18 446.2 128.34 444.5 128.50 445.2 128.66 457.2 128.82 444.5 128.98 451.1 129.14 453.2 129.30 447.8 129.46 450.0 129.62 452.1 129.78 452.4 129.94 453.3 130.10 453.2 130.26 456.0 130.42 453.9 130.58 454.8 130.74 454.8 130.90 446.8 131.06 454.0 131.22 457.3 131.38 457.8 131.54 455.5 131.70 461.4 131.86 454.1 132.02 457.4 132.18 462.1 132.34 459.8 132.50 457.7 132.66 457.2 132.82 456.7 132.98 456.2 133.14 458.6 133.30 456.8 133.46 456.4 133.62 459.8 133.78 456.4 133.94 458.3 134.10 464.9 134.26 461.8 134.42 459.8 134.58 454.7 134.74 455.6 134.90 462.2 135.06 464.1 135.22 464.0 135.38 461.1 135.54 466.0 135.70 458.0 135.86 459.7 136.02 461.8 136.18 461.3 136.34 465.1 136.50 456.2 136.66 465.6 136.82 460.5 136.98 464.9 137.14 472.9 137.30 461.2 137.46 465.4 137.62 460.0 137.78 465.8 137.94 469.6 138.10 463.7 138.26 460.4 138.42 460.4 138.58 468.0 138.74 463.3 138.90 467.1 139.06 465.2 139.22 466.6 139.38 463.4 139.54 463.8 139.70 454.8 139.86 466.2 140.02 464.6 140.18 468.4 140.34 464.7 140.50 471.3 140.66 464.6 140.82 468.2 140.98 465.3 141.14 464.2 141.30 466.0 141.46 464.2 141.62 463.2 141.78 467.2 141.94 463.0 142.10 466.6 142.26 467.1 142.42 468.4 142.58 457.9 142.74 460.3 142.90 463.3 143.06 471.7 143.22 464.3 143.38 464.3 143.54 463.8 143.70 476.9 143.86 467.6 144.02 467.3 144.18 461.4 144.34 469.2 144.50 466.5 144.66 468.0 144.82 468.4 144.98 467.6 145.14 466.7 145.30 465.7 145.46 464.4 145.62 467.8 145.78 466.0 145.94 461.9 146.10 467.5 146.26 466.2 146.42 465.5 146.58 471.4 146.74 469.0 146.90 465.2 147.06 471.8 147.22 466.3 147.38 467.0 147.54 467.5 147.70 471.9 147.86 468.4 148.02 470.6 148.18 467.4 148.34 465.8 148.50 470.9 148.66 470.3 148.82 467.9 148.98 465.8 149.14 467.4 149.30 463.1 149.46 467.2 149.62 468.8 149.78 464.0 149.94 470.0 150.10 466.4 150.26 472.9 150.42 465.1 150.58 470.1 150.74 471.2 150.90 466.8 151.06 470.2 151.22 467.8 151.38 469.9 151.54 473.1 151.70 467.7 151.86 469.7 152.02 468.8 152.18 473.1 152.34 475.3 152.50 467.4 152.66 468.6 152.82 472.5 152.98 468.5 153.14 465.8 153.30 471.9 153.46 466.2 153.62 469.7 153.78 472.0 153.94 473.5 154.10 468.5 154.26 468.6 154.42 473.1 154.58 464.0 154.74 467.8 154.90 470.8 155.06 475.2 155.22 478.5 155.38 471.3 155.54 469.1 155.70 464.1 155.86 472.9 156.02 466.4 156.18 468.1 156.34 464.9 156.50 467.2 156.66 470.0 156.82 469.8 156.98 470.9 157.14 470.2 157.30 471.1 157.46 469.8 157.62 466.3 157.78 470.3 157.94 468.5 158.10 468.3 158.26 469.9 158.42 471.9 158.58 467.6 158.74 472.3 158.90 471.4 159.06 471.1 159.22 471.2 159.38 471.2 159.54 471.5 159.70 473.1 159.86 469.5 160.02 472.0 160.18 468.9 160.34 472.8 160.50 472.1 160.66 469.6 160.82 471.0 160.98 468.6 161.14 473.0 161.30 471.5 161.46 471.6 161.62 474.4 161.78 470.3 161.94 470.9 162.10 470.3 162.26 471.2 162.42 476.4 162.58 473.4 162.74 474.0 162.90 473.1 163.06 470.1 163.22 476.6 163.38 464.9 163.54 473.2 163.70 474.7 163.86 479.2 164.02 472.7 164.18 474.5 164.34 473.0 164.50 464.6 164.66 472.8 164.82 471.4 164.98 471.0 165.14 471.0 165.30 481.4 165.46 475.9 165.62 471.5 165.78 466.8 165.94 473.5 166.10 470.6 166.26 473.5 166.42 472.4 166.58 467.8 166.74 472.8 166.90 470.9 167.06 471.0 167.22 470.4 167.38 469.2 167.54 473.7 167.70 470.8 167.86 474.6 168.02 470.6 168.18 477.6 168.34 469.6 168.50 471.2 168.66 467.6 168.82 470.1 168.98 466.9 169.14 481.5 169.30 473.5 169.46 473.1 169.62 467.7 169.78 470.7 169.94 475.1 170.10 471.5 170.26 472.7 170.42 469.5 170.58 471.8 170.74 475.3 170.90 466.7 171.06 470.8 171.22 469.8 171.38 470.1 171.54 469.0 171.70 470.1 171.86 469.1 172.02 470.6 172.18 475.3 172.34 476.5 172.50 472.4 172.66 473.7 172.82 472.4 172.98 471.4 173.14 472.7 173.30 466.3 173.46 470.3 173.62 474.3 173.78 466.7 173.94 471.9 174.10 470.1 174.26 474.4 174.42 469.2 174.58 472.6 174.74 472.2 174.90 477.3 175.06 473.0 175.22 473.2 175.38 464.4 175.54 475.3 175.70 473.8 175.86 467.6 176.02 474.5 176.18 477.1 176.34 470.2 176.50 472.9 176.66 472.9 176.82 472.9 176.98 471.1 177.14 468.2 177.30 470.7 177.46 473.7 177.62 470.1 177.78 468.9 177.94 474.1 178.10 467.5 178.26 473.3 178.42 473.7 178.58 465.4 178.74 466.9 178.90 472.1 179.06 468.8 179.22 468.1 179.38 473.7 179.54 471.3 179.70 471.4 179.86 473.8 180.02 466.5 180.18 473.3 180.34 471.1 180.50 471.3 180.66 473.2 180.82 466.0 180.98 472.2 181.14 472.0 181.30 467.2 181.46 473.4 181.62 474.8 181.78 471.8 181.94 468.8 182.10 475.5 182.26 468.2 182.42 471.2 182.58 469.9 182.74 471.8 182.90 475.4 183.06 463.4 183.22 467.0 183.38 473.1 183.54 471.4 183.70 474.5 183.86 470.2 184.02 472.3 184.18 465.7 184.34 471.1 184.50 469.7 184.66 464.7 184.82 468.1 184.98 471.4 185.14 471.2 185.30 474.7 185.46 470.6 185.62 473.2 185.78 481.4 185.94 471.6 186.10 474.0 186.26 467.6 186.42 472.4 186.58 472.5 186.74 473.0 186.90 471.2 187.06 469.3 187.22 472.2 187.38 471.8 187.54 472.6 187.70 471.0 187.86 470.0 188.02 473.6 188.18 469.3 188.34 473.7 188.50 471.8 188.66 471.6 188.82 472.1 188.98 464.5 189.14 468.9 189.30 471.1 189.46 469.7 189.62 474.1 189.78 469.7 189.94 474.2 190.10 470.7 190.26 474.9 190.42 469.8 190.58 470.1 190.74 471.5 190.90 473.8 191.06 471.5 191.22 470.6 191.38 473.0 191.54 471.6 191.70 470.3 191.86 470.1 192.02 466.1 192.18 469.7 192.34 469.2 192.50 480.9 192.66 468.5 192.82 471.3 192.98 470.8 193.14 474.3 193.30 476.7 193.46 473.0 193.62 469.5 193.78 470.7 193.94 474.6 194.10 474.8 194.26 473.2 194.42 471.1 194.58 475.4 194.74 468.9 194.90 474.5 195.06 469.9 195.22 474.4 195.38 464.2 195.54 475.5 195.70 469.5 195.86 474.3 196.02 471.5 196.18 469.9 196.34 468.8 196.50 471.4 196.66 475.5 196.82 471.5 196.98 474.7 197.14 471.3 197.30 468.2 197.46 468.7 197.62 474.2 197.78 469.6 197.94 472.2 198.10 471.7 198.26 472.3 198.42 471.1 198.58 473.6 198.74 468.9 198.90 471.2 199.06 468.2 199.22 465.8 199.38 472.3 199.54 474.6 199.70 471.4 199.86 470.3 200.02 469.4 200.18 480.3 200.34 473.6 200.50 474.5 200.66 468.2 200.82 473.9 200.98 466.7 201.14 473.5 201.30 470.5 201.46 476.5 201.62 469.0 201.78 472.6 201.94 472.3 202.10 470.2 202.26 470.1 202.42 471.6 202.58 469.7 202.74 469.3 202.90 471.1 203.06 475.3 203.22 467.0 203.38 466.5 203.54 464.5 203.70 470.3 203.86 472.0 204.02 467.2 204.18 473.1 204.34 468.6 204.50 466.9 204.66 467.9 204.82 471.8 204.98 470.4 205.14 465.8 205.30 474.1 205.46 462.6 205.62 468.1 205.78 465.2 205.94 465.3 206.10 467.2 206.26 469.2 206.42 461.5 206.58 468.9 206.74 465.3 206.90 463.9 207.06 466.1 207.22 461.9 207.38 466.6 207.54 463.1 207.70 465.6 207.86 472.2 208.02 460.1 208.18 464.1 208.34 457.7 208.50 461.9 208.66 462.1 208.82 457.4 208.98 464.6 209.14 462.8 209.30 467.8 209.46 452.9 209.62 460.9 209.78 459.7 209.94 462.3 210.10 461.3 210.26 464.2 210.42 460.4 210.58 460.4 210.74 454.8 210.90 459.9 211.06 458.2 211.22 454.0 211.38 458.0 211.54 459.6 211.70 459.1 211.86 457.4 212.02 457.8 212.18 464.7 212.34 454.7 212.50 450.4 212.66 452.5 212.82 456.6 212.98 459.9 213.14 458.0 213.30 451.9 213.46 460.3 213.62 449.3 213.78 454.6 213.94 445.0 214.10 448.1 214.26 442.8 214.42 453.3 214.58 453.5 214.74 456.6 214.90 448.6 215.06 456.7 215.22 449.6 215.38 445.0 215.54 448.9 215.70 441.2 215.86 446.6 216.02 442.3 216.18 448.9 216.34 441.1 216.50 443.1 216.66 442.2 216.82 438.2 216.98 446.6 217.14 440.1 217.30 439.0 217.46 437.6 217.62 437.8 217.78 437.1 217.94 433.0 218.10 434.1 218.26 429.2 218.42 430.1 218.58 428.6 218.74 432.0 218.90 427.6 219.06 442.4 219.22 426.5 219.38 422.3 219.54 439.8 219.70 415.4 219.86 419.9 220.02 417.7 220.18 416.7 220.34 417.4 220.50 416.5 220.66 412.8 220.82 417.2 220.98 403.6 221.14 410.1 221.30 414.3 221.46 414.8 221.62 405.6 221.78 412.6 221.94 407.8 222.10 400.1 222.26 402.4 222.42 406.7 222.58 397.8 222.74 397.0 222.90 407.4 223.06 403.6 223.22 407.4 223.38 409.7 223.54 416.4 223.70 404.8 223.86 400.9 224.02 407.7 224.18 406.8 224.34 402.6 224.50 410.7 224.66 408.1 224.82 415.1 224.98 408.1 225.14 412.6 225.30 407.6 225.46 408.1 225.62 409.9 225.78 420.0 225.94 419.5 226.10 419.1 226.26 416.2 226.42 418.8 226.58 412.7 226.74 416.2 226.90 418.2 227.06 413.1 227.22 422.4 227.38 425.3 227.54 425.8 227.70 411.8 227.86 422.7 228.02 428.1 228.18 423.2 228.34 428.3 228.50 431.7 228.66 433.9 228.82 426.5 228.98 426.7 229.14 423.2 229.30 423.4 229.46 431.4 229.62 435.0 229.78 432.9 229.94 431.7 230.10 441.2 230.26 431.0 230.42 421.4 230.58 429.5 230.74 433.4 230.90 430.7 231.06 435.3 231.22 434.6 231.38 435.8 231.54 434.9 231.70 428.4 231.86 439.4 232.02 432.6 232.18 430.9 232.34 437.5 232.50 428.3 232.66 436.2 232.82 428.8 232.98 429.5 233.14 417.5 233.30 428.7 233.46 430.9 233.62 429.7 233.78 436.3 233.94 416.5 234.10 432.4 234.26 424.8 234.42 426.2 234.58 432.5 234.74 430.3 234.90 425.8 235.06 425.2 235.22 419.0 235.38 425.3 235.54 429.9 235.70 421.1 235.86 425.1 236.02 425.5 236.18 426.9 236.34 419.1 236.50 421.0 236.66 414.8 236.82 418.8 236.98 420.0 237.14 423.7 237.30 415.8 237.46 425.4 237.62 420.1 237.78 421.8 237.94 412.0 238.10 417.9 238.26 422.6 238.42 412.0 238.58 425.3 238.74 411.6 238.90 416.2 239.06 423.7 239.22 422.3 239.38 417.4 239.54 413.0 239.70 423.4 239.86 418.9 240.02 419.7 240.18 428.1 240.34 435.7 240.50 428.8 240.66 430.1 240.82 427.3 240.98 445.4 241.14 430.3 241.30 426.0 241.46 431.4 241.62 432.5 241.78 437.2 241.94 441.1 242.10 438.4 242.26 438.5 242.42 437.8 242.58 441.7 242.74 439.9 242.90 444.3 243.06 436.9 243.22 447.9 243.38 441.7 243.54 448.9 243.70 439.5 243.86 446.8 244.02 445.2 244.18 447.9 244.34 447.0 244.50 449.0 244.66 447.0 244.82 446.4 244.98 456.2 245.14 459.1 245.30 449.7 245.46 451.2 245.62 463.1 245.78 452.2 245.94 457.0 246.10 456.7 246.26 455.4 246.42 465.0 246.58 459.4 246.74 452.7 246.90 452.7 247.06 458.5 247.22 452.6 247.38 459.4 247.54 457.2 247.70 455.3 247.86 459.2 248.02 455.9 248.18 457.6 248.34 458.7 248.50 458.8 248.66 459.2 248.82 462.4 248.98 454.7 249.14 456.8 249.30 455.9 249.46 463.5 249.62 463.4 249.78 459.2 249.94 461.4 250.10 460.1 250.26 460.8 250.42 458.4 250.58 458.1 250.74 462.1 250.90 461.8 251.06 464.4 251.22 461.3 251.38 463.8 251.54 464.2 251.70 464.4 251.86 463.9 252.02 465.4 252.18 460.6 252.34 455.6 252.50 460.5 252.66 464.0 252.82 464.2 252.98 464.0 253.14 461.7 253.30 468.4 253.46 467.0 253.62 467.2 253.78 462.4 253.94 465.4 254.10 468.7 254.26 465.1 254.42 468.4 254.58 468.4 254.74 462.9 254.90 466.5 255.06 464.0 255.22 465.9 255.38 470.0 255.54 466.3 255.70 467.5 255.86 465.3 256.02 469.6 256.18 465.6 256.34 475.2 256.50 470.0 256.66 467.2 256.82 469.3 256.98 464.3 257.14 467.6 257.30 464.6 257.46 465.5 257.62 467.3 257.78 468.7 257.94 466.8 258.10 468.3 258.26 467.8 258.42 457.7 258.58 468.1 258.74 470.4 258.90 463.2 259.06 467.0 259.22 467.5 259.38 466.1 259.54 464.4 259.70 463.8 259.86 466.7 260.02 466.1 260.18 465.4 260.34 463.9 260.50 465.3 260.66 467.8 260.82 465.6 260.98 465.0 261.14 461.8 261.30 475.1 261.46 466.2 261.62 466.4 261.78 469.4 261.94 465.8 262.10 468.6 262.26 469.6 262.42 475.1 262.58 465.1 262.74 465.0 262.90 470.3 263.06 466.4 263.22 463.0 263.38 467.8 263.54 467.3 263.70 468.3 263.86 466.0 264.02 466.7 264.18 465.0 264.34 467.8 264.50 466.7 264.66 464.0 264.82 466.0 264.98 464.8 265.14 461.9 265.30 468.2 265.46 465.8 265.62 466.2 265.78 459.9 265.94 463.4 266.10 460.8 266.26 461.0 266.42 465.3 266.58 463.9 266.74 465.7 266.90 467.6 267.06 464.0 267.22 458.7 267.38 456.0 267.54 465.0 267.70 462.8 267.86 468.3 268.02 461.2 268.18 463.8 268.34 459.5 268.50 461.1 268.66 463.4 268.82 461.5 268.98 462.4 269.14 462.9 269.30 462.7 269.46 460.6 269.62 460.7 269.78 460.6 269.94 461.8 270.10 456.3 270.26 465.8 270.42 463.2 270.58 464.1 270.74 460.8 270.90 454.8 271.06 463.6 271.22 459.6 271.38 460.3 271.54 455.9 271.70 464.2 271.86 457.1 272.02 455.9 272.18 460.7 272.34 455.6 272.50 458.4 272.66 459.8 272.82 456.4 272.98 458.7 273.14 461.9 273.30 462.2 273.46 462.6 273.62 458.6 273.78 449.1 273.94 463.5 274.10 455.2 274.26 461.1 274.42 458.0 274.58 459.0 274.74 457.8 274.90 461.2 275.06 458.5 275.22 455.7 275.38 464.8 275.54 456.8 275.70 454.7 275.86 440.0 276.02 458.2 276.18 459.6 276.34 461.9 276.50 456.4 276.66 456.9 276.82 457.0 276.98 457.1 277.14 458.9 277.30 458.5 277.46 457.5 277.62 461.0 277.78 459.9 277.94 455.5 278.10 459.2 278.26 460.9 278.42 456.2 278.58 455.6 278.74 462.2 278.90 459.1 279.06 456.1 279.22 459.2 279.38 467.9 279.54 468.3 279.70 459.3 279.86 460.9 280.02 461.1 280.18 456.5 280.34 458.1 280.50 461.7 280.66 460.6 280.82 462.8 280.98 461.6 281.14 455.5 281.30 459.9 281.46 460.5 281.62 460.7 281.78 461.2 281.94 458.6 282.10 457.2 282.26 458.9 282.42 457.9 282.58 458.5 282.74 459.1 282.90 463.9 283.06 460.5 283.22 457.0 283.38 458.3 283.54 461.2 283.70 462.8 283.86 456.4 284.02 456.0 284.18 469.4 284.34 462.3 284.50 462.9 284.66 455.9 284.82 460.0 284.98 463.1 285.14 456.8 285.30 459.4 285.46 460.5 285.62 458.0 285.78 455.9 285.94 463.0 286.10 462.7 286.26 458.6 286.42 456.7 286.58 458.3 286.74 462.8 286.90 460.9 287.06 464.8 287.22 467.0 287.38 464.2 287.54 464.1 287.70 459.9 287.86 458.6 288.02 462.1 288.18 461.9 288.34 461.8 288.50 465.6 288.66 459.7 288.82 463.4 288.98 460.1 289.14 460.7 289.30 464.5 289.46 459.8 289.62 459.9 289.78 464.1 289.94 466.2 290.10 459.2 290.26 464.8 290.42 461.5 290.58 460.0 290.74 459.6 290.90 461.0 291.06 457.4 291.22 459.9 291.38 464.4 291.54 462.6 291.70 464.8 291.86 465.7 292.02 454.7 292.18 458.7 292.34 461.5 292.50 465.8 292.66 465.1 292.82 462.5 292.98 460.0 293.14 465.0 293.30 463.9 293.46 464.2 293.62 469.8 293.78 469.0 293.94 464.4 294.10 466.9 294.26 465.9 294.42 466.2 294.58 467.4 294.74 462.8 294.90 467.8 295.06 467.5 295.22 468.2 295.38 467.3 295.54 467.7 295.70 460.3 295.86 471.6 296.02 467.4 296.18 467.3 296.34 466.2 296.50 470.8 296.66 462.6 296.82 465.9 296.98 466.8 297.14 470.8 297.30 472.8 297.46 467.8 297.62 468.3 297.78 470.1 297.94 469.1 298.10 471.0 298.26 469.3 298.42 469.8 298.58 473.2 298.74 470.0 298.90 475.7 299.06 469.4 299.22 470.0 299.38 469.4 299.54 470.2 299.70 472.4 299.86 472.8 300.02 466.1 300.18 469.4 300.34 470.1 300.50 471.7 300.66 471.9 300.82 462.8 300.98 471.5 301.14 467.7 301.30 470.0 301.46 467.4 301.62 473.8 301.78 470.4 301.94 474.1 302.10 476.1 302.26 473.6 302.42 469.3 302.58 471.7 302.74 471.6 302.90 474.3 303.06 473.5 303.22 473.8 303.38 472.9 303.54 471.5 303.70 472.8 303.86 471.9 304.02 471.0 304.18 471.6 304.34 472.7 304.50 469.5 304.66 471.1 304.82 473.8 304.98 472.9 305.14 478.3 305.30 474.8 305.46 473.0 305.62 473.0 305.78 475.6 305.94 473.5 306.10 475.0 306.26 473.8 306.42 478.9 306.58 476.3 306.74 475.2 306.90 469.7 307.06 474.1 307.22 476.9 307.38 474.4 307.54 474.0 307.70 475.8 307.86 476.4 308.02 473.6 308.18 477.1 308.34 476.1 308.50 475.0 308.66 466.7 308.82 474.1 308.98 473.0 309.14 474.0 309.30 475.9 309.46 474.2 309.62 477.9 309.78 473.1 309.94 478.8 310.10 473.4 310.26 470.7 310.42 472.1 310.58 472.7 310.74 474.2 310.90 475.7 311.06 475.4 311.22 474.2 311.38 478.3 311.54 476.7 311.70 475.8 311.86 481.8 312.02 476.2 312.18 478.4 312.34 474.5 312.50 473.6 312.66 476.5 312.82 472.4 312.98 477.7 313.14 477.1 313.30 479.2 313.46 471.8 313.62 477.0 313.78 475.4 313.94 477.9 314.10 476.3 314.26 476.9 314.42 478.0 314.58 474.4 314.74 478.5 314.90 474.1 315.06 476.0 315.22 476.6 315.38 478.9 315.54 474.0 315.70 478.2 315.86 468.6 316.02 478.8 316.18 473.8 316.34 476.1 316.50 471.0 316.66 477.1 316.82 475.0 316.98 474.6 317.14 476.9 317.30 479.2 317.46 477.6 317.62 477.1 317.78 473.7 317.94 482.3 318.10 472.2 318.26 473.7 318.42 473.0 318.58 484.7 318.74 478.7 318.90 476.7 319.06 484.1 319.22 469.0 319.38 479.6 319.54 480.6 319.70 479.2 319.86 477.4 320.02 477.7 320.18 476.6 320.34 478.8 320.50 478.9 320.66 476.6 320.82 476.6 320.98 477.2 321.14 472.9 321.30 478.0 321.46 476.7 321.62 476.8 321.78 474.7 321.94 474.5 322.10 474.2 322.26 476.3 322.42 477.6 322.58 475.9 322.74 478.2 322.90 479.8 323.06 477.4 323.22 477.6 323.38 475.8 323.54 477.6 323.70 476.8 323.86 471.4 324.02 476.8 324.18 475.8 324.34 476.3 324.50 478.9 324.66 474.0 324.82 476.5 324.98 477.0 325.14 476.6 325.30 477.6 325.46 475.5 325.62 474.5 325.78 478.6 325.94 474.9 326.10 480.4 326.26 475.1 326.42 474.7 326.58 479.5 326.74 474.7 326.90 476.8 327.06 476.3 327.22 475.4 327.38 482.8 327.54 477.3 327.70 473.2 327.86 477.7 328.02 475.6 328.18 475.3 328.34 474.3 328.50 476.0 328.66 479.7 328.82 474.7 328.98 483.3 329.14 478.7 329.30 476.1 329.46 477.6 329.62 476.7 329.78 478.3 329.94 476.5 330.10 473.9 330.26 477.8 330.42 476.6 330.58 477.1 330.74 469.5 330.90 475.6 331.06 474.4 331.22 475.0 331.38 475.9 331.54 474.6 331.70 475.9 331.86 474.2 332.02 479.0 332.18 476.2 332.34 476.0 332.50 473.6 332.66 476.9 332.82 470.7 332.98 475.7 333.14 474.7 333.30 476.9 333.46 468.4 333.62 477.6 333.78 474.7 333.94 477.9 334.10 480.6 334.26 475.3 334.42 470.5 334.58 473.0 334.74 474.1 334.90 474.8 335.06 475.4 335.22 476.1 335.38 476.3 335.54 478.8 335.70 476.0 335.86 476.3 336.02 474.9 336.18 477.3 336.34 476.0 336.50 483.4 336.66 473.4 336.82 473.0 336.98 477.3 337.14 474.5 337.30 474.3 337.46 478.5 337.62 477.6 337.78 474.8 337.94 478.2 338.10 476.9 338.26 473.3 338.42 473.9 338.58 474.5 338.74 473.6 338.90 475.2 339.06 472.6 339.22 474.7 339.38 474.7 339.54 478.8 339.70 474.2 339.86 479.0 340.02 468.0 340.18 478.0 340.34 479.3 340.50 476.7 340.66 476.4 340.82 476.5 340.98 473.4 341.14 474.5 341.30 477.1 341.46 480.6 341.62 475.0 341.78 474.9 341.94 476.0 342.10 473.9 342.26 475.7 342.42 475.6 342.58 474.4 342.74 475.1 342.90 476.5 343.06 476.6 343.22 477.5 343.38 477.0 343.54 477.1 343.70 470.3 343.86 468.7 344.02 470.5 344.18 476.4 344.34 475.8 344.50 477.5 344.66 474.8 344.82 473.8 344.98 476.3 345.14 471.9 345.30 472.8 345.46 475.0 345.62 471.5 345.78 474.9 345.94 472.5 346.10 475.2 346.26 474.8 346.42 476.4 346.58 475.6 346.74 468.8 346.90 474.2 347.06 471.6 347.22 473.1 347.38 472.7 347.54 476.9 347.70 471.4 347.86 475.7 348.02 476.9 348.18 472.5 348.34 473.6 348.50 473.8 348.66 475.3 348.82 476.9 348.98 472.2 349.14 477.7 349.30 473.6 349.46 474.0 349.62 481.8 349.78 470.7 349.94 475.1 350.10 472.2 350.26 473.9 350.42 475.2 350.58 476.1 350.74 475.2 350.90 475.1 351.06 475.4 351.22 471.9 351.38 474.5 351.54 473.1 351.70 469.6 351.86 476.3 352.02 474.6 352.18 473.0 352.34 471.7 352.50 475.9 352.66 474.0 352.82 474.4 352.98 476.9 353.14 473.5 353.30 474.1 353.46 473.1 353.62 469.9 353.78 475.9 353.94 473.9 354.10 471.5 354.26 476.1 354.42 474.3 354.58 475.3 354.74 472.7 354.90 474.3 355.06 475.5 355.22 477.0 355.38 476.0 355.54 475.2 355.70 475.1 355.86 477.5 356.02 471.6 356.18 473.9 356.34 475.0 356.50 478.1 356.66 474.6 356.82 472.1 356.98 473.8 357.14 472.9 357.30 476.1 357.46 475.8 357.62 474.8 357.78 474.9 357.94 476.1 358.10 472.5 358.26 476.7 358.42 473.4 358.58 473.0 358.74 474.3 358.90 472.2 359.06 474.5 359.22 475.9 359.38 476.8 359.54 475.1 359.70 472.8 359.86 475.8 360.02 482.5 360.18 475.4 360.34 471.6 360.50 477.3 360.66 475.1 360.82 473.8 360.98 476.4 361.14 480.4 361.30 475.1 361.46 475.1 361.62 478.4 361.78 472.9 361.94 475.1 362.10 468.4 362.26 474.6 362.42 473.4 362.58 477.1 362.74 474.5 362.90 482.4 363.06 475.5 363.22 471.8 363.38 476.9 363.54 475.8 363.70 475.9 363.86 474.7 364.02 476.5 364.18 473.8 364.34 476.6 364.50 482.9 364.66 476.3 364.82 474.0 364.98 474.3 365.14 475.1 365.30 474.0 365.46 475.7 365.62 476.4 365.78 475.3 365.94 476.3 366.10 476.5 366.26 478.0 366.42 474.8 366.58 477.0 366.74 473.3 366.90 479.9 367.06 475.8 367.22 475.4 367.38 477.6 367.54 478.9 367.70 475.7 367.86 476.4 368.02 476.5 368.18 470.9 368.34 474.8 368.50 477.0 368.66 474.3 368.82 474.4 368.98 475.0 369.14 480.4 369.30 476.8 369.46 474.6 369.62 472.8 369.78 478.8 369.94 477.4 370.10 478.2 370.26 477.4 370.42 468.5 370.58 474.6 370.74 477.2 370.90 475.1 371.06 474.8 371.22 475.4 371.38 469.9 371.54 473.8 371.70 473.0 371.86 478.1 372.02 479.0 372.18 477.0 372.34 480.0 372.50 477.0 372.66 474.9 372.82 475.5 372.98 474.4 373.14 473.9 373.30 477.8 373.46 475.1 373.62 474.3 373.78 476.9 373.94 475.3 374.10 477.8 374.26 475.7 374.42 476.3 374.58 475.6 374.74 474.6 374.90 475.3 375.06 474.2 375.22 477.7 375.38 474.6 375.54 473.6 375.70 474.0 375.86 474.0 376.02 473.2 376.18 473.9 376.34 475.8 376.50 476.4 376.66 473.3 376.82 471.9 376.98 476.3 377.14 475.0 377.30 475.9 377.46 471.1 377.62 474.3 377.78 477.0 377.94 475.6 378.10 478.6 378.26 476.1 378.42 474.7 378.58 476.7 378.74 476.7 378.90 475.8 379.06 475.3 379.22 476.5 379.38 475.1 379.54 476.6 379.70 474.0 379.86 476.1 380.02 473.8 380.18 477.0 380.34 475.6 380.50 477.5 380.66 476.0 380.82 475.2 380.98 475.8 381.14 476.0 381.30 475.4 381.46 475.1 381.62 475.7 381.78 474.8 381.94 475.5 382.10 476.3 382.26 476.0 382.42 477.6 382.58 475.5 382.74 475.8 382.90 476.0 383.06 474.2 383.22 476.2 383.38 476.4 383.54 477.5 383.70 473.9 383.86 476.5 384.02 474.1 384.18 475.4 384.34 474.4 384.50 476.9 384.66 476.3 384.82 476.0 384.98 478.7 385.14 473.6 385.30 475.7 385.46 478.5 385.62 475.8 385.78 476.3 385.94 474.4 386.10 474.4 386.26 475.4 386.42 475.6 386.58 474.9 386.74 475.1 386.90 474.3 387.06 477.3 387.22 477.5 387.38 476.2 387.54 478.2 387.70 473.9 387.86 474.8 388.02 468.6 388.18 474.1 388.34 476.3 388.50 477.1 388.66 475.9 388.82 473.4 388.98 472.0 389.14 476.4 389.30 476.4 389.46 478.3 389.62 473.7 389.78 472.7 389.94 478.0 390.10 476.9 390.26 471.2 390.42 474.5 390.58 475.3 390.74 475.9 390.90 473.2 391.06 474.3 391.22 475.2 391.38 475.8 391.54 476.7 391.70 475.8 391.86 475.9 392.02 475.6 392.18 475.0 392.34 472.7 392.50 477.0 392.66 477.2 392.82 476.6 392.98 476.0 393.14 471.2 393.30 471.9 393.46 474.1 393.62 475.8 393.78 474.4 393.94 474.3 394.10 476.4 394.26 476.2 394.42 468.9 394.58 475.2 394.74 474.9 394.90 473.9 395.06 476.4 395.22 474.9 395.38 475.5 395.54 478.1 395.70 477.6 395.86 476.0 396.02 474.4 396.18 472.8 396.34 475.2 396.50 478.3 396.66 481.6 396.82 478.2 396.98 474.1 397.14 480.5 397.30 478.5 397.46 473.9 397.62 476.6 397.78 472.9 397.94 477.2 398.10 474.1 398.26 475.8 398.42 475.9 398.58 475.6 398.74 479.0 398.90 473.2 399.06 474.9 399.22 472.2 399.38 476.2 399.54 474.2 399.70 471.3 399.86 477.4 400.02 474.0 400.18 477.7 400.34 475.6 400.50 478.0 400.66 475.5 400.82 477.7 400.98 479.3 401.14 478.9 401.30 475.5 401.46 472.5 401.62 476.7 401.78 478.1 401.94 479.8 402.10 480.9 402.26 477.4 402.42 480.7 402.58 477.7 402.74 476.9 402.90 480.9 403.06 477.9 403.22 477.5 403.38 474.0 403.54 479.2 403.70 474.6 403.86 479.3 404.02 476.4 404.18 478.7 404.34 480.8 404.50 479.3 404.66 477.8 404.82 478.2 404.98 477.4 405.14 473.4 405.30 480.2 405.46 479.4 405.62 480.0 405.78 478.0 405.94 479.7 406.10 478.9 406.26 478.5 406.42 476.3 406.58 479.8 406.74 477.8 406.90 474.6 407.06 477.5 407.22 478.3 407.38 479.3 407.54 477.3 407.70 476.2 407.86 474.1 408.02 475.6 408.18 478.8 408.34 476.2 408.50 476.3 408.66 478.4 408.82 480.3 408.98 479.5 409.14 477.8 409.30 478.2 409.46 478.5 409.62 476.5 409.78 483.1 409.94 478.7 410.10 476.4 410.26 478.2 410.42 476.1 410.58 478.2 410.74 481.5 410.90 477.5 411.06 482.3 411.22 479.4 411.38 480.1 411.54 479.5 411.70 472.7 411.86 477.4 412.02 475.4 412.18 479.7 412.34 478.3 412.50 477.8 412.66 477.7 412.82 479.7 412.98 476.6 413.14 476.7 413.30 477.9 413.46 475.8 413.62 478.2 413.78 475.7 413.94 471.4 414.10 479.4 414.26 479.6 414.42 475.9 414.58 480.0 414.74 476.1 414.90 476.8 415.06 476.3 415.22 476.3 415.38 475.3 415.54 477.4 415.70 475.7 415.86 476.7 416.02 482.6 416.18 471.5 416.34 475.4 416.50 477.2 416.66 478.7 416.82 481.2 416.98 478.8 417.14 478.8 417.30 477.3 417.46 479.6 417.62 481.7 417.78 478.8 417.94 479.0 418.10 476.9 418.26 478.0 418.42 478.4 418.58 476.4 418.74 478.6 418.90 480.1 419.06 479.0 419.22 481.8 419.38 481.6 419.54 482.2 419.70 480.0 419.86 479.2 420.02 479.2 420.18 479.0 420.34 478.5 420.50 479.8 420.66 478.7 420.82 479.7 420.98 481.2 421.14 478.4 421.30 479.1 421.46 477.0 421.62 478.8 421.78 477.3 421.94 476.3 422.10 479.2 422.26 476.5 422.42 477.1 422.58 478.9 422.74 478.5 422.90 480.1 423.06 480.5 423.22 475.3 423.38 478.0 423.54 479.7 423.70 478.1 423.86 476.8 424.02 477.7 424.18 479.8 424.34 476.5 424.50 481.0 424.66 478.6 424.82 478.0 424.98 475.0 425.14 475.9 425.30 476.3 425.46 479.2 425.62 477.3 425.78 478.6 425.94 476.9 426.10 477.9 426.26 475.9 426.42 478.6 426.58 483.2 426.74 480.7 426.90 479.8 427.06 481.0 427.22 477.3 427.38 479.8 427.54 477.9 427.70 478.2 427.86 476.1 428.02 479.4 428.18 478.6 428.34 479.3 428.50 479.6 428.66 478.9 428.82 479.3 428.98 475.7 429.14 478.4 429.30 478.9 429.46 479.1 429.62 479.4 429.78 478.9 429.94 477.4 430.10 478.2 430.26 474.4 430.42 479.4 430.58 475.6 430.74 471.8 430.90 477.6 431.06 478.3 431.22 481.0 431.38 476.0 431.54 480.4 431.70 477.7 431.86 478.6 432.02 477.2 432.18 480.0 432.34 479.8 432.50 475.8 432.66 476.8 432.82 480.3 432.98 475.2 433.14 471.8 433.30 479.2 433.46 476.9 433.62 479.2 433.78 477.5 433.94 479.1 434.10 480.2 434.26 477.2 434.42 479.9 434.58 478.1 434.74 480.4 434.90 478.7 435.06 474.4 435.22 478.6 435.38 476.9 435.54 478.6 435.70 479.9 435.86 478.4 436.02 477.7 436.18 476.0 436.34 476.0 436.50 476.6 436.66 479.0 436.82 480.2 436.98 476.7 437.14 478.7 437.30 478.4 437.46 478.5 437.62 477.3 437.78 478.7 437.94 479.3 438.10 476.0 438.26 477.9 438.42 477.7 438.58 479.0 438.74 476.8 438.90 476.3 439.06 481.5 439.22 481.5 439.38 477.2 439.54 478.7 439.70 477.1 439.86 473.0 440.02 478.7 440.18 478.1 440.34 476.4 440.50 479.7 440.66 478.9 440.82 479.1 440.98 476.0 441.14 477.2 441.30 484.1 441.46 479.0 441.62 479.6 441.78 478.6 441.94 473.1 442.10 481.9 442.26 476.0 442.42 475.8 442.58 474.9 442.74 479.1 442.90 479.1 443.06 478.1 443.22 476.5 443.38 477.0 443.54 478.0 443.70 478.1 443.86 472.9 444.02 474.8 444.18 474.6 444.34 475.9 444.50 480.8 444.66 477.7 444.82 478.4 444.98 478.6 445.14 481.1 445.30 473.8 445.46 478.6 445.62 475.7 445.78 475.8 445.94 475.1 446.10 476.8 446.26 475.5 446.42 479.6 446.58 475.8 446.74 476.1 446.90 479.6 447.06 481.3 447.22 477.4 447.38 478.9 447.54 481.3 447.70 476.2 447.86 476.7 448.02 475.5 448.18 470.3 448.34 473.3 448.50 476.4 448.66 476.6 448.82 475.1 448.98 480.7 449.14 477.3 449.30 476.1 449.46 476.8 449.62 474.2 449.78 473.5 449.94 481.5 450.10 475.5 450.26 477.5 450.42 476.0 450.58 477.3 450.74 481.0 450.90 476.3 451.06 477.7 451.22 474.7 451.38 477.5 451.54 476.9 451.70 474.2 451.86 477.4 452.02 474.8 452.18 476.6 452.34 474.8 452.50 477.7 452.66 472.4 452.82 474.7 452.98 475.8 453.14 477.6 453.30 474.6 453.46 475.1 453.62 474.1 453.78 475.3 453.94 475.7 454.10 476.2 454.26 474.7 454.42 475.5 454.58 475.0 454.74 477.1 454.90 469.5 455.06 478.9 455.22 476.4 455.38 479.2 455.54 474.5 455.70 476.1 455.86 474.9 456.02 475.8 456.18 468.6 456.34 473.8 456.50 475.0 456.66 481.1 456.82 475.9 456.98 473.8 457.14 475.3 457.30 475.6 457.46 474.7 457.62 473.1 457.78 472.9 457.94 474.0 458.10 474.1 458.26 473.8 458.42 474.3 458.58 470.6 458.74 475.6 458.90 473.7 459.06 472.9 459.22 474.4 459.38 473.8 459.54 473.2 459.70 474.0 459.86 473.2 460.02 473.1 460.18 470.6 460.34 475.9 460.50 472.7 460.66 473.4 460.82 472.7 460.98 474.6 461.14 473.2 461.30 472.2 461.46 477.9 461.62 471.3 461.78 471.0 461.94 470.5 462.10 471.9 462.26 474.4 462.42 473.0 462.58 472.5 462.74 472.9 462.90 473.4 463.06 472.1 463.22 473.6 463.38 472.9 463.54 472.6 463.70 470.2 463.86 473.2 464.02 470.6 464.18 473.6 464.34 471.8 464.50 472.1 464.66 472.3 464.82 474.2 464.98 474.0 465.14 471.4 465.30 471.0 465.46 475.5 465.62 473.7 465.78 471.5 465.94 475.7 466.10 470.9 466.26 471.9 466.42 472.0 466.58 472.6 466.74 475.9 466.90 472.7 467.06 473.1 467.22 473.5 467.38 476.8 467.54 472.7 467.70 471.5 467.86 471.7 468.02 473.1 468.18 472.1 468.34 471.2 468.50 474.9 468.66 472.0 468.82 474.2 468.98 472.5 469.14 470.1 469.30 471.8 469.46 473.4 469.62 472.4 469.78 474.2 469.94 469.3 470.10 474.0 470.26 472.1 470.42 471.2 470.58 471.2 470.74 471.8 470.90 472.4 471.06 471.4 471.22 469.3 471.38 471.3 471.54 472.6 471.70 472.5 471.86 472.8 472.02 473.8 472.18 471.8 472.34 476.4 472.50 470.2 472.66 470.0 472.82 471.6 472.98 472.3 473.14 468.9 473.30 471.7 473.46 472.3 473.62 471.7 473.78 467.1 473.94 472.1 474.10 465.9 474.26 471.4 474.42 470.1 474.58 474.2 474.74 471.7 474.90 470.6 475.06 471.9 475.22 472.7 475.38 472.6 475.54 475.1 475.70 478.4 475.86 473.1 476.02 473.8 476.18 472.3 476.34 472.4 476.50 474.1 476.66 472.2 476.82 472.0 476.98 468.8 477.14 470.1 477.30 472.5 477.46 466.8 477.62 473.4 477.78 471.1 477.94 473.2 478.10 474.2 478.26 475.2 478.42 473.2 478.58 472.2 478.74 466.9 478.90 469.7 479.06 471.8 479.22 472.9 479.38 471.6 479.54 471.2 479.70 472.2 479.86 473.9 480.02 471.7 480.18 471.1 480.34 473.3 480.50 473.5 480.66 473.4 480.82 472.1 480.98 474.2 481.14 469.3 481.30 472.7 481.46 471.3 481.62 468.6 481.78 473.1 481.94 476.2 482.10 470.4 482.26 472.3 482.42 469.2 482.58 472.6 482.74 474.1 482.90 476.7 483.06 473.4 483.22 476.1 483.38 475.5 483.54 470.7 483.70 473.3 483.86 470.7 484.02 472.3 484.18 473.8 484.34 470.4 484.50 470.0 484.66 474.5 484.82 473.9 484.98 472.9 485.14 476.4 485.30 475.0 485.46 473.4 485.62 474.1 485.78 474.7 485.94 474.6 486.10 471.2 486.26 479.2 486.42 472.3 486.58 474.2 486.74 474.3 486.90 473.8 487.06 474.2 487.22 475.5 487.38 474.2 487.54 471.6 487.70 474.7 487.86 474.8 488.02 471.8 488.18 471.5 488.34 473.2 488.50 473.3 488.66 470.5 488.82 473.5 488.98 476.1 489.14 476.3 489.30 472.6 489.46 472.7 489.62 474.1 489.78 473.9 489.94 474.3 490.10 473.8 490.26 472.9 490.42 468.7 490.58 473.9 490.74 475.3 490.90 473.1 491.06 472.2 491.22 473.1 491.38 474.3 491.54 473.9 491.70 471.4 491.86 473.2 492.02 474.7 492.18 474.1 492.34 474.6 492.50 473.5 492.66 472.7 492.82 472.1 492.98 473.6 493.14 476.3 493.30 478.4 493.46 473.7 493.62 473.2 493.78 474.0 493.94 468.5 494.10 475.6 494.26 475.1 494.42 475.5 494.58 475.0 494.74 473.1 494.90 476.4 495.06 473.5 495.22 475.5 495.38 474.4 495.54 473.9 495.70 477.3 495.86 475.1 496.02 474.8 496.18 474.0 496.34 475.0 496.50 474.3 496.66 473.5 496.82 468.8 496.98 475.9 497.14 472.3 497.30 473.4 497.46 475.5 497.62 474.1 497.78 473.6 497.94 473.3 498.10 474.6 498.26 477.5 498.42 476.8 498.58 475.3 498.74 478.1 498.90 472.2 499.06 474.5 499.22 472.2 499.38 475.9 499.54 475.5 499.70 472.5 499.86 474.5 500.02 475.2 500.18 473.4 500.34 475.1 500.50 474.9 500.66 477.6 500.82 474.5 500.98 474.2 501.14 472.4 501.30 474.8 501.46 474.6 501.62 474.2 501.78 476.7 501.94 476.3 502.10 477.4 502.26 478.4 502.42 475.9 502.58 480.3 502.74 475.6 502.90 475.2 503.06 473.1 503.22 475.9 503.38 475.8 503.54 474.1 503.70 474.5 503.86 474.7 504.02 472.9 504.18 473.1 504.34 474.7 504.50 474.5 504.66 475.2 504.82 475.3 504.98 473.6 505.14 473.8 505.30 473.1 505.46 472.7 505.62 473.2 505.78 472.6 505.94 479.3 506.10 474.9 506.26 478.9 506.42 473.4 506.58 474.5 506.74 474.2 506.90 473.5 507.06 472.3 507.22 473.6 507.38 475.4 507.54 471.3 507.70 475.0 507.86 472.0 508.02 479.1 508.18 475.9 508.34 473.3 508.50 468.9 508.66 471.0 508.82 470.7 508.98 475.1 509.14 471.0 509.30 471.8 509.46 472.0 509.62 471.9 509.78 475.9 509.94 474.7 510.10 470.5 510.26 471.0 510.42 471.1 510.58 475.6 510.74 466.8 510.90 469.0 511.06 477.4 511.22 470.3 511.38 471.6 511.54 471.7 511.70 469.3 511.86 470.3 512.02 475.0 512.18 471.2 512.34 470.5 512.50 470.2 512.66 471.0 512.82 468.9 512.98 470.2 513.14 468.5 513.30 467.7 513.46 467.1 513.62 466.0 513.78 463.0 513.94 466.4 514.10 465.1 514.26 462.6 514.42 463.4 514.58 463.0 514.74 463.9 514.90 460.6 515.06 463.1 515.22 461.8 515.38 461.4 515.54 460.2 515.70 458.4 515.86 460.0 516.02 459.6 516.18 452.9 516.34 449.5 516.50 452.3 516.66 446.5 516.82 448.8 516.98 445.5 517.14 444.7 517.30 442.7 517.46 447.9 517.62 442.6 517.78 449.1 517.94 442.6 518.10 437.7 518.26 438.6 518.42 439.4 518.58 435.8 518.74 433.4 518.90 433.3 519.06 424.8 519.22 433.2 519.38 433.1 519.54 431.0 519.70 430.2 519.86 431.0 520.02 427.4 520.18 430.2 520.34 426.8 520.50 421.6 520.66 421.9 520.82 432.4 520.98 428.5 521.14 431.9 521.30 433.1 521.46 429.4 521.62 433.6 521.78 432.8 521.94 436.3 522.10 438.1 522.26 441.3 522.42 443.2 522.58 441.2 522.74 451.8 522.90 447.3 523.06 445.6 523.22 449.8 523.38 451.7 523.54 448.6 523.70 451.5 523.86 454.6 524.02 460.7 524.18 457.6 524.34 457.4 524.50 458.3 524.66 461.6 524.82 460.5 524.98 462.0 525.14 465.1 525.30 462.9 525.46 464.8 525.62 466.1 525.78 466.8 525.94 470.6 526.10 467.8 526.26 469.0 526.42 472.6 526.58 471.3 526.74 470.7 526.90 477.2 527.06 471.6 527.22 471.3 527.38 474.7 527.54 474.9 527.70 472.2 527.86 478.5 528.02 470.2 528.18 473.9 528.34 475.5 528.50 475.0 528.66 475.5 528.82 474.4 528.98 475.2 529.14 472.5 529.30 474.1 529.46 475.5 529.62 475.1 529.78 477.5 529.94 478.4 530.10 479.0 530.26 476.7 530.42 474.5 530.58 475.6 530.74 475.8 530.90 477.8 531.06 476.9 531.22 476.1 531.38 478.1 531.54 477.2 531.70 481.0 531.86 475.5 532.02 478.0 532.18 477.8 532.34 477.4 532.50 475.8 532.66 477.7 532.82 477.8 532.98 478.6 533.14 476.1 533.30 477.3 533.46 479.4 533.62 476.7 533.78 475.9 533.94 476.6 534.10 477.0 534.26 476.0 534.42 476.7 534.58 479.1 534.74 478.3 534.90 475.2 535.06 477.7 535.22 478.1 535.38 478.1 535.54 475.3 535.70 476.4 535.86 478.2 536.02 476.3 536.18 479.3 536.34 478.4 536.50 474.0 536.66 476.9 536.82 479.5 536.98 477.3 537.14 478.4 537.30 477.1 537.46 478.3 537.62 476.0 537.78 475.8 537.94 478.6 538.10 477.4 538.26 476.0 538.42 476.4 538.58 477.4 538.74 477.5 538.90 472.8 539.06 477.5 539.22 478.9 539.38 478.3 539.54 480.4 539.70 476.5 539.86 477.6 540.02 479.0 540.18 477.3 540.34 477.7 540.50 479.7 540.66 474.1 540.82 477.5 540.98 477.1 541.14 478.2 541.30 479.5 541.46 479.5 541.62 482.1 541.78 478.0 541.94 478.1 542.10 478.3 542.26 476.9 542.42 472.7 542.58 479.7 542.74 478.2 542.90 474.8 543.06 480.5 543.22 478.2 543.38 477.9 543.54 478.8 543.70 478.5 543.86 481.7 544.02 479.5 544.18 479.7 544.34 480.4 544.50 478.3 544.66 477.7 544.82 476.7 544.98 477.8 545.14 475.9 545.30 476.1 545.46 480.5 545.62 476.8 545.78 477.3 545.94 478.4 546.10 479.3 546.26 477.5 546.42 479.1 546.58 478.0 546.74 478.2 546.90 476.4 547.06 477.4 547.22 477.5 547.38 480.0 547.54 478.5 547.70 478.4 547.86 478.8 548.02 479.0 548.18 479.1 548.34 483.3 548.50 475.7 548.66 478.6 548.82 478.4 548.98 477.8 549.14 479.2 549.30 479.0 549.46 479.0 549.62 477.6 549.78 478.0 549.94 482.7 550.10 479.8 550.26 479.7 550.42 477.1 550.58 478.5 550.74 480.0 550.90 480.3 551.06 479.5 551.22 474.4 551.38 477.8 551.54 477.8 551.70 479.1 551.86 476.2 552.02 476.8 552.18 477.6 552.34 480.0 552.50 479.4 552.66 476.5 552.82 480.2 552.98 478.3 553.14 478.3 553.30 477.1 553.46 477.9 553.62 478.9 553.78 477.0 553.94 475.5 554.10 478.4 554.26 481.6 554.42 477.7 554.58 480.9 554.74 478.6 554.90 477.2 555.06 477.0 555.22 482.8 555.38 477.6 555.54 479.4 555.70 480.1 555.86 479.4 556.02 473.3 556.18 479.1 556.34 480.3 556.50 477.5 556.66 477.2 556.82 475.3 556.98 481.1 557.14 481.2 557.30 478.8 557.46 477.2 557.62 478.5 557.78 480.3 557.94 479.6 558.10 479.6 558.26 477.8 558.42 480.2 558.58 480.4 558.74 480.9 558.90 479.0 559.06 479.6 559.22 477.4 559.38 477.7 559.54 483.9 559.70 478.1 559.86 478.5 560.02 479.1 560.18 477.9 560.34 478.9 560.50 476.3 560.66 482.4 560.82 475.8 560.98 474.5 561.14 478.8 561.30 478.1 561.46 479.6 561.62 478.3 561.78 481.8 561.94 478.0 562.10 477.8 562.26 479.2 562.42 479.4 562.58 478.7 562.74 479.4 562.90 481.9 563.06 479.4 563.22 479.4 563.38 480.7 563.54 480.9 563.70 476.8 563.86 480.4 564.02 479.3 564.18 479.3 564.34 477.9 564.50 477.2 564.66 479.6 564.82 479.0 564.98 477.6 565.14 484.1 565.30 482.4 565.46 477.8 565.62 482.6 565.78 479.5 565.94 480.8 566.10 481.2 566.26 477.7 566.42 476.8 566.58 481.2 566.74 477.5 566.90 480.3 567.06 479.3 567.22 478.3 567.38 478.5 567.54 477.6 567.70 477.5 567.86 479.3 568.02 483.1 568.18 477.1 568.34 477.0 568.50 478.5 568.66 479.0 568.82 477.1 568.98 478.0 569.14 480.2 569.30 480.4 569.46 477.3 569.62 478.0 569.78 479.1 569.94 478.7 570.10 479.4 570.26 479.0 570.42 478.0 570.58 482.6 570.74 481.6 570.90 479.2 571.06 479.6 571.22 474.8 571.38 480.7 571.54 478.1 571.70 477.9 571.86 482.8 572.02 477.6 572.18 479.8 572.34 482.1 572.50 479.6 572.66 478.0 572.82 478.7 572.98 481.1 573.14 478.1 573.30 480.7 573.46 480.1 573.62 480.1 573.78 480.2 573.94 477.9 574.10 477.9 574.26 479.8 574.42 477.5 574.58 473.6 574.74 480.7 574.90 478.6 575.06 481.5 575.22 479.1 575.38 479.1 575.54 481.6 575.70 479.2 575.86 478.6 576.02 480.0 576.18 480.2 576.34 478.5 576.50 477.2 576.66 481.2 576.82 479.6 576.98 480.8 577.14 478.2 577.30 479.2 577.46 481.3 577.62 478.8 577.78 477.5 577.94 479.9 578.10 478.6 578.26 478.6 578.42 483.2 578.58 479.5 578.74 479.6 578.90 479.5 579.06 480.7 579.22 481.0 579.38 477.1 579.54 479.5 579.70 479.9 579.86 478.6 580.02 479.1 580.18 479.0 580.34 476.3 580.50 479.1 580.66 476.6 580.82 478.1 580.98 483.7 581.14 477.1 581.30 482.4 581.46 478.0 581.62 480.6 581.78 477.1 581.94 479.7 582.10 479.0 582.26 478.6 582.42 477.9 582.58 479.3 582.74 473.7 582.90 478.1 583.06 480.1 583.22 479.0 583.38 482.9 583.54 481.8 583.70 478.8 583.86 477.0 584.02 478.7 584.18 477.5 584.34 480.1 584.50 477.9 584.66 479.3 584.82 477.4 584.98 477.9 585.14 476.4 585.30 481.0 585.46 477.6 585.62 477.9 585.78 479.7 585.94 476.5 586.10 483.9 586.26 478.7 586.42 478.9 586.58 478.6 586.74 479.0 586.90 479.9 587.06 483.0 587.22 479.1 587.38 480.8 587.54 480.5 587.70 479.0 587.86 477.0 588.02 478.7 588.18 478.9 588.34 476.5 588.50 480.7 588.66 480.3 588.82 479.2 588.98 480.0 589.14 476.0 589.30 478.1 589.46 478.2 589.62 474.3 589.78 478.6 589.94 480.2 590.10 479.6 590.26 479.5 590.42 477.5 590.58 473.7 590.74 479.0 590.90 478.1 591.06 477.5 591.22 478.8 591.38 476.8 591.54 480.1 591.70 483.3 591.86 480.3 592.02 480.0 592.18 479.7 592.34 477.7 592.50 478.8 592.66 479.9 592.82 478.8 592.98 481.0 593.14 477.5 593.30 478.8 593.46 478.1 593.62 483.8 593.78 476.5 593.94 479.3 594.10 481.4 594.26 480.3 594.42 478.0 594.58 476.7 594.74 480.8 594.90 479.0 595.06 479.2 595.22 478.7 595.38 479.3 595.54 477.5 595.70 478.3 595.86 480.2 596.02 477.2 596.18 480.8 596.34 478.3 596.50 478.6 596.66 479.0 596.82 478.8 596.98 478.7 597.14 483.8 597.30 478.8 597.46 475.7 597.62 478.3 597.78 478.5 597.94 478.5 598.10 478.2 598.26 478.6 598.42 479.0 598.58 479.0 598.74 477.5 598.90 477.9 599.06 480.6 599.22 478.5 599.38 481.2 599.54 480.2 599.70 478.5 599.86 477.4 600.02 481.2 600.18 478.7 600.34 481.1 600.50 479.7 600.66 478.7 600.82 479.6 600.98 477.9 601.14 479.6 601.30 478.9 601.46 479.9 601.62 478.1 601.78 476.5 601.94 481.1 602.10 481.0 602.26 479.1 602.42 476.8 602.58 481.9 602.74 478.7 602.90 479.5 603.06 479.4 603.22 480.6 603.38 478.3 603.54 479.8 603.70 479.8 603.86 477.9 604.02 479.5 604.18 480.2 604.34 478.1 604.50 477.7 604.66 484.0 604.82 483.2 604.98 480.2 605.14 479.3 605.30 480.9 605.46 478.2 605.62 480.8 605.78 479.2 605.94 478.7 606.10 477.6 606.26 478.4 606.42 478.8 606.58 480.4 606.74 478.9 606.90 479.9 607.06 479.4 607.22 480.0 607.38 482.4 607.54 483.0 607.70 479.0 607.86 478.2 608.02 478.9 608.18 482.2 608.34 479.1 608.50 481.0 608.66 478.8 608.82 481.4 608.98 479.2 609.14 480.9 609.30 478.3 609.46 479.2 609.62 479.3 609.78 481.8 609.94 478.9 610.10 480.6 610.26 479.2" fill="none" stroke="#0fb552" stroke-width="1" stroke-linejoin="round"/>
<path d="M93.3 620.4 93.46 607.9 93.62 617.5 93.78 616.3 93.94 617.9 94.10 617.8 94.26 609.6 94.42 618.1 94.58 618.5 94.74 613.6 94.90 619.6 95.06 617.1 95.22 617.3 95.38 622.5 95.54 621.4 95.70 616.1 95.86 618.7 96.02 617.9 96.18 616.0 96.34 610.6 96.50 614.4 96.66 617.7 96.82 616.3 96.98 616.0 97.14 614.2 97.30 615.6 97.46 619.5 97.62 610.9 97.78 613.3 97.94 617.1 98.10 614.1 98.26 615.9 98.42 617.0 98.58 616.6 98.74 621.1 98.90 615.6 99.06 621.1 99.22 620.4 99.38 620.3 99.54 616.5 99.70 617.5 99.86 616.8 100.02 616.4 100.18 621.6 100.34 617.1 100.50 618.3 100.66 617.6 100.82 620.8 100.98 611.4 101.14 623.7 101.30 615.7 101.46 617.8 101.62 613.9 101.78 615.9 101.94 618.4 102.10 615.3 102.26 627.7 102.42 613.6 102.58 612.2 102.74 617.8 102.90 617.5 103.06 608.1 103.22 616.7 103.38 621.7 103.54 619.8 103.70 623.8 103.86 611.4 104.02 616.0 104.18 617.3 104.34 619.2 104.50 618.2 104.66 613.5 104.82 616.4 104.98 622.3 105.14 617.3 105.30 619.0 105.46 618.4 105.62 617.0 105.78 613.9 105.94 618.7 106.10 615.1 106.26 622.6 106.42 617.0 106.58 618.4 106.74 618.8 106.90 621.0 107.06 618.2 107.22 617.3 107.38 616.6 107.54 617.1 107.70 619.9 107.86 621.2 108.02 615.8 108.18 621.8 108.34 618.0 108.50 618.6 108.66 620.9 108.82 619.2 108.98 618.4 109.14 618.6 109.30 618.6 109.46 613.1 109.62 616.7 109.78 616.3 109.94 621.0 110.10 617.1 110.26 615.8 110.42 612.7 110.58 615.8 110.74 615.4 110.90 616.4 111.06 612.2 111.22 621.5 111.38 619.6 111.54 610.3 111.70 619.7 111.86 616.8 112.02 615.3 112.18 616.5 112.34 617.5 112.50 619.1 112.66 618.3 112.82 617.0 112.98 617.8 113.14 616.2 113.30 619.6 113.46 616.7 113.62 625.3 113.78 623.8 113.94 618.1 114.10 617.8 114.26 616.2 114.42 617.9 114.58 616.4 114.74 613.2 114.90 612.3 115.06 618.5 115.22 617.5 115.38 618.4 115.54 616.5 115.70 627.2 115.86 617.4 116.02 623.1 116.18 617.6 116.34 619.6 116.50 617.0 116.66 615.4 116.82 616.0 116.98 615.9 117.14 620.5 117.30 622.0 117.46 615.6 117.62 619.9 117.78 614.5 117.94 610.5 118.10 626.0 118.26 617.2 118.42 618.4 118.58 614.5 118.74 612.3 118.90 610.6 119.06 613.4 119.22 616.5 119.38 615.8 119.54 616.2 119.70 612.7 119.86 617.0 120.02 618.3 120.18 613.4 120.34 605.8 120.50 608.6 120.66 616.6 120.82 616.4 120.98 617.8 121.14 613.5 121.30 613.0 121.46 613.2 121.62 612.7 121.78 609.6 121.94 611.9 122.10 623.5 122.26 602.3 122.42 609.1 122.58 603.4 122.74 613.5 122.90 611.9 123.06 612.7 123.22 615.0 123.38 612.0 123.54 612.0 123.70 611.5 123.86 612.5 124.02 610.8 124.18 611.8 124.34 607.6 124.50 607.8 124.66 612.1 124.82 616.9 124.98 605.1 125.14 613.2 125.30 607.3 125.46 614.3 125.62 615.4 125.78 623.6 125.94 612.7 126.10 601.2 126.26 608.8 126.42 610.5 126.58 608.2 126.74 613.3 126.90 617.0 127.06 612.2 127.22 617.1 127.38 610.0 127.54 615.3 127.70 612.1 127.86 615.6 128.02 612.0 128.18 610.3 128.34 611.3 128.50 615.7 128.66 619.8 128.82 615.3 128.98 609.6 129.14 610.7 129.30 612.3 129.46 613.5 129.62 618.5 129.78 615.9 129.94 609.6 130.10 613.3 130.26 615.2 130.42 615.9 130.58 612.5 130.74 618.3 130.90 611.1 131.06 615.4 131.22 611.9 131.38 613.9 131.54 616.0 131.70 613.1 131.86 616.9 132.02 616.0 132.18 618.9 132.34 620.8 132.50 614.0 132.66 613.9 132.82 618.7 132.98 619.3 133.14 621.9 133.30 616.4 133.46 618.8 133.62 617.3 133.78 611.8 133.94 622.4 134.10 623.2 134.26 617.8 134.42 609.4 134.58 620.2 134.74 621.2 134.90 618.0 135.06 618.8 135.22 616.9 135.38 611.9 135.54 617.0 135.70 623.2 135.86 618.2 136.02 625.0 136.18 615.0 136.34 617.6 136.50 619.4 136.66 613.9 136.82 621.0 136.98 621.8 137.14 620.6 137.30 622.1 137.46 618.1 137.62 627.3 137.78 622.7 137.94 620.3 138.10 620.6 138.26 619.2 138.42 619.1 138.58 621.2 138.74 617.9 138.90 620.1 139.06 621.8 139.22 617.2 139.38 618.3 139.54 620.4 139.70 625.2 139.86 620.3 140.02 625.1 140.18 621.5 140.34 622.8 140.50 622.5 140.66 623.7 140.82 621.3 140.98 622.2 141.14 623.4 141.30 622.0 141.46 623.4 141.62 621.3 141.78 626.0 141.94 621.2 142.10 619.7 142.26 623.1 142.42 626.4 142.58 622.0 142.74 624.7 142.90 628.3 143.06 619.3 143.22 619.2 143.38 619.5 143.54 624.2 143.70 629.2 143.86 627.3 144.02 626.4 144.18 623.8 144.34 627.5 144.50 620.4 144.66 624.8 144.82 623.1 144.98 621.3 145.14 620.5 145.30 623.8 145.46 617.0 145.62 626.6 145.78 623.5 145.94 623.9 146.10 623.9 146.26 626.1 146.42 616.9 146.58 626.9 146.74 628.0 146.90 620.5 147.06 622.2 147.22 621.6 147.38 625.2 147.54 613.9 147.70 621.3 147.86 627.0 148.02 617.5 148.18 624.5 148.34 624.2 148.50 622.8 148.66 623.2 148.82 624.4 148.98 623.1 149.14 624.2 149.30 625.4 149.46 621.4 149.62 620.2 149.78 623.5 149.94 629.7 150.10 621.9 150.26 623.8 150.42 629.1 150.58 624.4 150.74 624.8 150.90 620.8 151.06 628.0 151.22 621.8 151.38 622.4 151.54 626.8 151.70 626.6 151.86 621.2 152.02 628.0 152.18 622.5 152.34 622.5 152.50 625.1 152.66 622.3 152.82 621.9 152.98 629.1 153.14 625.5 153.30 623.9 153.46 623.2 153.62 629.6 153.78 626.6 153.94 622.9 154.10 624.4 154.26 622.6 154.42 624.0 154.58 624.6 154.74 620.3 154.90 624.8 155.06 629.9 155.22 626.3 155.38 622.4 155.54 628.1 155.70 624.8 155.86 626.4 156.02 615.4 156.18 623.3 156.34 626.8 156.50 622.4 156.66 625.8 156.82 626.6 156.98 619.5 157.14 624.2 157.30 628.6 157.46 623.0 157.62 627.5 157.78 625.6 157.94 626.0 158.10 624.0 158.26 625.0 158.42 623.5 158.58 618.9 158.74 624.6 158.90 624.5 159.06 626.3 159.22 632.1 159.38 626.3 159.54 627.6 159.70 624.8 159.86 623.4 160.02 621.0 160.18 629.2 160.34 621.5 160.50 624.9 160.66 629.6 160.82 626.3 160.98 624.4 161.14 629.4 161.30 623.7 161.46 627.5 161.62 631.7 161.78 627.8 161.94 628.3 162.10 626.4 162.26 629.8 162.42 626.9 162.58 624.8 162.74 624.0 162.90 629.0 163.06 631.8 163.22 628.7 163.38 628.0 163.54 624.4 163.70 626.9 163.86 629.2 164.02 623.5 164.18 626.3 164.34 628.6 164.50 617.6 164.66 630.4 164.82 626.5 164.98 625.7 165.14 626.0 165.30 631.3 165.46 628.6 165.62 626.4 165.78 626.0 165.94 625.5 166.10 624.8 166.26 623.0 166.42 627.2 166.58 626.3 166.74 625.5 166.90 624.7 167.06 628.1 167.22 630.8 167.38 618.1 167.54 624.8 167.70 626.0 167.86 629.7 168.02 630.2 168.18 626.7 168.34 629.1 168.50 622.8 168.66 628.5 168.82 627.5 168.98 628.2 169.14 630.6 169.30 627.0 169.46 624.1 169.62 625.4 169.78 627.4 169.94 628.7 170.10 631.3 170.26 626.4 170.42 631.4 170.58 627.5 170.74 627.7 170.90 626.8 171.06 629.6 171.22 629.1 171.38 624.8 171.54 625.1 171.70 626.8 171.86 627.6 172.02 627.3 172.18 637.7 172.34 626.3 172.50 626.7 172.66 626.2 172.82 631.8 172.98 621.8 173.14 629.8 173.30 632.4 173.46 628.0 173.62 626.8 173.78 625.4 173.94 629.4 174.10 624.0 174.26 629.7 174.42 634.7 174.58 629.4 174.74 629.5 174.90 626.1 175.06 623.7 175.22 628.0 175.38 626.9 175.54 619.1 175.70 627.1 175.86 628.5 176.02 621.6 176.18 632.1 176.34 628.2 176.50 627.6 176.66 625.4 176.82 624.7 176.98 627.0 177.14 623.9 177.30 621.5 177.46 628.7 177.62 629.8 177.78 627.0 177.94 626.4 178.10 623.8 178.26 626.5 178.42 627.5 178.58 629.9 178.74 625.6 178.90 631.3 179.06 634.9 179.22 627.5 179.38 617.1 179.54 626.0 179.70 623.3 179.86 621.4 180.02 625.4 180.18 625.1 180.34 627.1 180.50 626.5 180.66 625.2 180.82 625.7 180.98 624.8 181.14 627.9 181.30 625.9 181.46 625.5 181.62 625.1 181.78 624.3 181.94 633.7 182.10 632.5 182.26 624.4 182.42 627.8 182.58 624.5 182.74 626.9 182.90 630.0 183.06 624.8 183.22 627.4 183.38 628.9 183.54 622.3 183.70 616.6 183.86 621.5 184.02 628.8 184.18 622.9 184.34 629.9 184.50 628.0 184.66 626.0 184.82 628.5 184.98 627.0 185.14 625.6 185.30 625.2 185.46 622.8 185.62 626.0 185.78 628.0 185.94 626.6 186.10 630.8 186.26 631.9 186.42 619.7 186.58 624.9 186.74 626.1 186.90 627.3 187.06 631.5 187.22 625.4 187.38 630.1 187.54 628.3 187.70 622.9 187.86 625.4 188.02 627.8 188.18 627.4 188.34 625.5 188.50 629.9 188.66 620.2 188.82 627.1 188.98 635.8 189.14 625.4 189.30 625.7 189.46 628.8 189.62 627.3 189.78 627.3 189.94 617.0 190.10 626.2 190.26 627.1 190.42 625.0 190.58 629.3 190.74 629.1 190.90 627.0 191.06 623.4 191.22 619.0 191.38 632.4 191.54 620.5 191.70 628.2 191.86 629.2 192.02 624.7 192.18 615.9 192.34 626.1 192.50 628.8 192.66 624.0 192.82 629.4 192.98 621.6 193.14 625.9 193.30 621.2 193.46 620.3 193.62 624.8 193.78 626.3 193.94 619.3 194.10 626.1 194.26 623.2 194.42 626.1 194.58 617.3 194.74 626.5 194.90 625.5 195.06 627.7 195.22 621.7 195.38 625.0 195.54 623.1 195.70 626.4 195.86 621.1 196.02 615.4 196.18 625.3 196.34 624.0 196.50 634.8 196.66 626.4 196.82 624.7 196.98 624.8 197.14 620.5 197.30 622.6 197.46 626.5 197.62 623.5 197.78 621.9 197.94 625.9 198.10 626.0 198.26 626.9 198.42 623.8 198.58 629.2 198.74 627.3 198.90 619.2 199.06 624.8 199.22 618.6 199.38 622.7 199.54 622.4 199.70 620.2 199.86 626.8 200.02 622.2 200.18 618.0 200.34 619.9 200.50 626.4 200.66 623.4 200.82 622.2 200.98 626.3 201.14 625.0 201.30 622.7 201.46 624.1 201.62 620.7 201.78 619.8 201.94 625.8 202.10 623.0 202.26 617.4 202.42 625.7 202.58 623.2 202.74 618.0 202.90 622.1 203.06 623.9 203.22 626.5 203.38 623.9 203.54 622.6 203.70 622.2 203.86 620.3 204.02 621.0 204.18 623.9 204.34 624.0 204.50 626.5 204.66 619.5 204.82 625.6 204.98 622.8 205.14 616.5 205.30 621.1 205.46 624.9 205.62 624.4 205.78 623.8 205.94 622.7 206.10 619.1 206.26 619.7 206.42 630.3 206.58 621.4 206.74 617.3 206.90 610.6 207.06 621.0 207.22 619.5 207.38 617.5 207.54 619.9 207.70 619.8 207.86 619.5 208.02 619.1 208.18 621.3 208.34 617.2 208.50 616.5 208.66 611.5 208.82 617.2 208.98 614.8 209.14 615.3 209.30 605.1 209.46 611.1 209.62 619.1 209.78 608.7 209.94 605.8 210.10 611.6 210.26 616.2 210.42 612.0 210.58 612.4 210.74 610.2 210.90 610.2 211.06 605.6 211.22 605.0 211.38 607.6 211.54 607.8 211.70 605.3 211.86 600.4 212.02 612.0 212.18 604.1 212.34 597.3 212.50 602.9 212.66 600.3 212.82 598.1 212.98 600.2 213.14 600.9 213.30 603.1 213.46 596.5 213.62 596.6 213.78 595.3 213.94 583.5 214.10 591.9 214.26 587.8 214.42 590.4 214.58 586.2 214.74 574.4 214.90 586.7 215.06 586.0 215.22 592.5 215.38 574.4 215.54 585.3 215.70 575.2 215.86 577.0 216.02 557.1 216.18 572.0 216.34 570.5 216.50 562.5 216.66 560.9 216.82 566.7 216.98 570.2 217.14 557.1 217.30 558.9 217.46 559.3 217.62 553.2 217.78 537.4 217.94 533.9 218.10 553.5 218.26 553.1 218.42 547.1 218.58 545.1 218.74 546.7 218.90 538.4 219.06 560.0 219.22 548.8 219.38 545.1 219.54 546.5 219.70 535.0 219.86 530.4 220.02 537.4 220.18 535.0 220.34 527.8 220.50 534.5 220.66 528.9 220.82 528.2 220.98 531.1 221.14 536.7 221.30 548.9 221.46 535.7 221.62 520.6 221.78 520.2 221.94 520.9 222.10 525.3 222.26 525.8 222.42 530.2 222.58 529.2 222.74 520.5 222.90 546.0 223.06 520.0 223.22 529.1 223.38 524.2 223.54 522.5 223.70 520.5 223.86 523.5 224.02 521.3 224.18 530.1 224.34 522.8 224.50 526.1 224.66 522.6 224.82 522.8 224.98 529.0 225.14 532.2 225.30 523.1 225.46 533.6 225.62 527.0 225.78 533.8 225.94 547.9 226.10 542.8 226.26 525.8 226.42 547.8 226.58 541.7 226.74 544.4 226.90 545.9 227.06 548.5 227.22 545.5 227.38 529.9 227.54 543.9 227.70 552.7 227.86 548.6 228.02 545.8 228.18 557.5 228.34 548.9 228.50 561.2 228.66 561.6 228.82 561.0 228.98 557.3 229.14 564.8 229.30 563.5 229.46 563.2 229.62 565.1 229.78 559.2 229.94 560.2 230.10 550.6 230.26 566.3 230.42 566.0 230.58 584.3 230.74 559.7 230.90 574.8 231.06 579.3 231.22 580.2 231.38 579.2 231.54 573.6 231.70 568.1 231.86 584.3 232.02 575.3 232.18 575.3 232.34 582.4 232.50 583.8 232.66 581.7 232.82 577.6 232.98 574.3 233.14 576.6 233.30 581.6 233.46 574.3 233.62 582.9 233.78 581.5 233.94 579.8 234.10 575.9 234.26 584.3 234.42 579.8 234.58 580.2 234.74 577.5 234.90 577.3 235.06 574.8 235.22 567.8 235.38 570.5 235.54 565.8 235.70 572.5 235.86 564.3 236.02 570.9 236.18 566.2 236.34 566.0 236.50 571.4 236.66 566.1 236.82 563.9 236.98 566.6 237.14 564.4 237.30 567.2 237.46 555.9 237.62 562.6 237.78 555.2 237.94 561.2 238.10 560.9 238.26 557.6 238.42 556.0 238.58 562.0 238.74 563.0 238.90 583.8 239.06 570.1 239.22 576.0 239.38 577.6 239.54 583.7 239.70 575.6 239.86 569.0 240.02 584.3 240.18 571.7 240.34 572.1 240.50 586.4 240.66 577.0 240.82 577.7 240.98 577.6 241.14 581.0 241.30 589.7 241.46 581.2 241.62 584.7 241.78 587.6 241.94 585.5 242.10 583.0 242.26 587.9 242.42 601.2 242.58 593.3 242.74 586.4 242.90 595.4 243.06 593.2 243.22 588.7 243.38 601.7 243.54 589.3 243.70 584.5 243.86 595.7 244.02 596.2 244.18 591.9 244.34 598.6 244.50 595.9 244.66 595.4 244.82 588.3 244.98 600.2 245.14 593.2 245.30 599.2 245.46 605.1 245.62 595.9 245.78 600.9 245.94 600.4 246.10 601.9 246.26 598.3 246.42 600.2 246.58 598.6 246.74 601.6 246.90 603.1 247.06 598.3 247.22 609.1 247.38 600.7 247.54 600.4 247.70 603.5 247.86 606.0 248.02 603.2 248.18 603.5 248.34 599.5 248.50 606.2 248.66 607.6 248.82 609.3 248.98 604.9 249.14 605.5 249.30 606.6 249.46 606.0 249.62 614.3 249.78 609.5 249.94 608.5 250.10 615.2 250.26 608.4 250.42 607.8 250.58 605.7 250.74 612.6 250.90 607.5 251.06 610.0 251.22 610.5 251.38 622.1 251.54 608.9 251.70 610.9 251.86 610.5 252.02 612.2 252.18 610.9 252.34 611.1 252.50 612.7 252.66 614.3 252.82 611.8 252.98 618.6 253.14 612.3 253.30 604.5 253.46 611.2 253.62 613.8 253.78 616.8 253.94 615.9 254.10 614.5 254.26 613.6 254.42 617.3 254.58 611.9 254.74 615.4 254.90 615.8 255.06 614.3 255.22 613.1 255.38 617.5 255.54 621.0 255.70 606.8 255.86 611.3 256.02 613.0 256.18 613.8 256.34 616.1 256.50 617.8 256.66 615.5 256.82 612.7 256.98 611.9 257.14 613.7 257.30 616.3 257.46 611.5 257.62 612.1 257.78 619.3 257.94 614.0 258.10 619.3 258.26 604.3 258.42 611.5 258.58 616.7 258.74 614.7 258.90 618.9 259.06 607.3 259.22 614.8 259.38 610.8 259.54 619.5 259.70 611.9 259.86 612.6 260.02 615.3 260.18 612.2 260.34 613.6 260.50 612.1 260.66 614.1 260.82 611.2 260.98 617.0 261.14 611.7 261.30 608.6 261.46 613.0 261.62 612.0 261.78 614.4 261.94 609.5 262.10 610.1 262.26 613.3 262.42 610.7 262.58 608.0 262.74 610.6 262.90 611.8 263.06 608.0 263.22 609.0 263.38 608.4 263.54 613.2 263.70 606.6 263.86 603.5 264.02 607.3 264.18 610.3 264.34 608.6 264.50 604.5 264.66 605.5 264.82 607.4 264.98 608.8 265.14 610.0 265.30 605.0 265.46 610.3 265.62 605.6 265.78 604.2 265.94 607.8 266.10 597.8 266.26 604.4 266.42 611.5 266.58 608.7 266.74 607.0 266.90 606.5 267.06 604.2 267.22 612.3 267.38 610.3 267.54 609.0 267.70 606.6 267.86 599.3 268.02 605.7 268.18 615.1 268.34 608.9 268.50 607.6 268.66 604.2 268.82 606.1 268.98 605.4 269.14 591.3 269.30 605.4 269.46 606.8 269.62 602.3 269.78 601.7 269.94 605.4 270.10 601.5 270.26 602.2 270.42 607.7 270.58 605.1 270.74 593.6 270.90 600.4 271.06 604.2 271.22 598.2 271.38 597.8 271.54 603.5 271.70 599.8 271.86 600.1 272.02 602.1 272.18 599.7 272.34 600.4 272.50 609.5 272.66 602.0 272.82 601.8 272.98 592.0 273.14 595.5 273.30 605.1 273.46 599.6 273.62 601.5 273.78 603.7 273.94 600.1 274.10 595.4 274.26 601.5 274.42 614.2 274.58 603.6 274.74 600.0 274.90 601.0 275.06 602.8 275.22 599.3 275.38 600.2 275.54 607.3 275.70 603.0 275.86 603.3 276.02 603.2 276.18 601.7 276.34 599.3 276.50 607.9 276.66 598.9 276.82 600.6 276.98 598.1 277.14 602.3 277.30 601.1 277.46 604.8 277.62 599.8 277.78 603.8 277.94 602.6 278.10 604.6 278.26 601.0 278.42 604.6 278.58 598.3 278.74 607.5 278.90 601.7 279.06 610.2 279.22 603.1 279.38 600.7 279.54 603.8 279.70 603.5 279.86 601.5 280.02 602.3 280.18 600.0 280.34 604.8 280.50 610.4 280.66 605.8 280.82 601.5 280.98 606.4 281.14 605.9 281.30 614.6 281.46 604.0 281.62 599.2 281.78 596.4 281.94 601.5 282.10 602.8 282.26 601.8 282.42 602.9 282.58 608.1 282.74 607.5 282.90 601.2 283.06 604.7 283.22 605.0 283.38 593.4 283.54 610.3 283.70 609.6 283.86 607.0 284.02 612.8 284.18 606.4 284.34 604.9 284.50 604.1 284.66 608.6 284.82 610.4 284.98 607.7 285.14 609.1 285.30 607.5 285.46 606.4 285.62 609.5 285.78 607.1 285.94 609.6 286.10 604.8 286.26 607.7 286.42 618.5 286.58 610.2 286.74 605.0 286.90 606.8 287.06 609.2 287.22 607.2 287.38 608.7 287.54 607.6 287.70 610.8 287.86 609.1 288.02 606.8 288.18 608.7 288.34 611.2 288.50 610.7 288.66 604.8 288.82 610.1 288.98 604.9 289.14 609.7 289.30 616.2 289.46 614.0 289.62 608.7 289.78 608.8 289.94 615.0 290.10 611.0 290.26 610.8 290.42 602.0 290.58 617.4 290.74 612.7 290.90 612.2 291.06 610.6 291.22 606.7 291.38 610.2 291.54 618.1 291.70 614.7 291.86 614.5 292.02 612.9 292.18 615.0 292.34 602.6 292.50 614.6 292.66 611.4 292.82 616.3 292.98 618.1 293.14 613.6 293.30 612.1 293.46 614.5 293.62 614.6 293.78 613.0 293.94 613.4 294.10 604.6 294.26 613.4 294.42 618.3 294.58 616.1 294.74 615.7 294.90 609.9 295.06 613.9 295.22 613.3 295.38 610.0 295.54 621.1 295.70 615.3 295.86 612.6 296.02 620.6 296.18 617.2 296.34 618.0 296.50 616.7 296.66 613.0 296.82 617.3 296.98 617.4 297.14 617.3 297.30 611.6 297.46 620.2 297.62 615.7 297.78 622.7 297.94 618.8 298.10 619.4 298.26 617.7 298.42 621.2 298.58 618.8 298.74 616.1 298.90 620.1 299.06 616.1 299.22 623.2 299.38 620.9 299.54 620.6 299.70 619.6 299.86 621.3 300.02 622.2 300.18 622.6 300.34 622.4 300.50 624.1 300.66 623.2 300.82 625.8 300.98 620.5 301.14 622.4 301.30 628.0 301.46 628.2 301.62 621.8 301.78 625.3 301.94 623.7 302.10 622.2 302.26 623.9 302.42 620.3 302.58 626.8 302.74 623.4 302.90 625.9 303.06 624.3 303.22 625.6 303.38 627.7 303.54 629.6 303.70 627.0 303.86 626.0 304.02 622.4 304.18 627.1 304.34 627.4 304.50 629.3 304.66 625.9 304.82 625.1 304.98 629.2 305.14 623.0 305.30 627.5 305.46 627.0 305.62 626.5 305.78 626.0 305.94 631.0 306.10 623.9 306.26 628.9 306.42 628.2 306.58 624.6 306.74 629.2 306.90 635.7 307.06 628.6 307.22 626.1 307.38 630.9 307.54 627.6 307.70 630.1 307.86 623.5 308.02 628.7 308.18 626.3 308.34 629.4 308.50 630.7 308.66 628.6 308.82 626.4 308.98 627.6 309.14 629.2 309.30 626.1 309.46 626.8 309.62 631.0 309.78 628.1 309.94 626.4 310.10 628.3 310.26 627.6 310.42 630.2 310.58 631.9 310.74 630.8 310.90 627.8 311.06 631.1 311.22 632.6 311.38 628.1 311.54 631.7 311.70 625.8 311.86 629.3 312.02 627.4 312.18 630.5 312.34 627.9 312.50 632.0 312.66 629.7 312.82 626.6 312.98 622.0 313.14 630.3 313.30 629.0 313.46 629.7 313.62 628.0 313.78 631.3 313.94 629.9 314.10 631.6 314.26 628.2 314.42 629.6 314.58 629.5 314.74 629.3 314.90 626.7 315.06 633.0 315.22 628.1 315.38 625.8 315.54 633.6 315.70 630.6 315.86 633.0 316.02 634.8 316.18 632.4 316.34 629.8 316.50 634.3 316.66 628.1 316.82 626.5 316.98 634.0 317.14 633.3 317.30 629.1 317.46 625.5 317.62 629.6 317.78 622.7 317.94 630.3 318.10 631.8 318.26 627.9 318.42 628.9 318.58 628.9 318.74 629.5 318.90 628.9 319.06 632.4 319.22 630.9 319.38 627.0 319.54 630.5 319.70 630.9 319.86 630.0 320.02 632.2 320.18 628.6 320.34 630.5 320.50 628.1 320.66 635.8 320.82 630.1 320.98 631.7 321.14 625.4 321.30 632.7 321.46 630.0 321.62 630.1 321.78 627.2 321.94 631.2 322.10 630.5 322.26 634.3 322.42 629.8 322.58 630.7 322.74 629.6 322.90 630.3 323.06 627.5 323.22 628.9 323.38 630.2 323.54 631.3 323.70 631.2 323.86 627.2 324.02 630.4 324.18 629.9 324.34 625.7 324.50 630.4 324.66 631.6 324.82 630.7 324.98 630.9 325.14 632.4 325.30 628.8 325.46 626.4 325.62 634.6 325.78 635.3 325.94 630.8 326.10 631.7 326.26 626.4 326.42 628.0 326.58 628.7 326.74 629.1 326.90 630.3 327.06 628.8 327.22 627.9 327.38 627.8 327.54 628.3 327.70 626.0 327.86 627.6 328.02 626.6 328.18 627.3 328.34 631.2 328.50 629.2 328.66 626.7 328.82 630.3 328.98 631.9 329.14 622.0 329.30 629.0 329.46 625.6 329.62 627.4 329.78 628.9 329.94 627.5 330.10 625.5 330.26 629.9 330.42 631.2 330.58 625.0 330.74 629.0 330.90 628.0 331.06 627.6 331.22 625.9 331.38 624.1 331.54 626.1 331.70 627.8 331.86 628.4 332.02 626.3 332.18 624.0 332.34 625.6 332.50 624.2 332.66 625.9 332.82 627.0 332.98 627.8 333.14 628.2 333.30 622.4 333.46 623.7 333.62 625.4 333.78 626.1 333.94 623.8 334.10 624.9 334.26 629.9 334.42 628.3 334.58 625.8 334.74 623.6 334.90 623.1 335.06 628.6 335.22 626.3 335.38 627.3 335.54 627.5 335.70 626.0 335.86 624.6 336.02 626.8 336.18 627.3 336.34 630.5 336.50 623.2 336.66 624.3 336.82 625.4 336.98 620.3 337.14 628.4 337.30 624.2 337.46 627.5 337.62 623.1 337.78 623.5 337.94 623.3 338.10 621.7 338.26 624.1 338.42 625.3 338.58 621.6 338.74 622.2 338.90 625.5 339.06 627.3 339.22 623.1 339.38 628.1 339.54 624.9 339.70 623.8 339.86 626.9 340.02 623.7 340.18 623.1 340.34 631.4 340.50 624.6 340.66 621.2 340.82 625.9 340.98 621.8 341.14 623.8 341.30 620.4 341.46 625.3 341.62 621.4 341.78 625.9 341.94 620.9 342.10 619.5 342.26 621.4 342.42 621.7 342.58 622.0 342.74 624.9 342.90 620.8 343.06 623.5 343.22 624.3 343.38 621.8 343.54 623.2 343.70 625.7 343.86 619.5 344.02 623.0 344.18 626.0 344.34 625.2 344.50 621.8 344.66 626.2 344.82 622.2 344.98 622.0 345.14 622.0 345.30 621.2 345.46 625.0 345.62 623.9 345.78 622.3 345.94 620.8 346.10 613.6 346.26 622.7 346.42 629.9 346.58 627.9 346.74 617.5 346.90 623.9 347.06 625.0 347.22 623.3 347.38 620.6 347.54 619.9 347.70 617.0 347.86 621.9 348.02 629.5 348.18 619.8 348.34 624.4 348.50 623.3 348.66 622.5 348.82 621.7 348.98 618.8 349.14 621.4 349.30 619.9 349.46 622.7 349.62 619.0 349.78 623.8 349.94 620.6 350.10 619.2 350.26 621.0 350.42 624.1 350.58 620.0 350.74 621.3 350.90 621.2 351.06 623.2 351.22 627.0 351.38 620.8 351.54 622.7 351.70 620.4 351.86 622.8 352.02 623.3 352.18 618.1 352.34 621.0 352.50 619.4 352.66 622.4 352.82 621.7 352.98 626.5 353.14 618.1 353.30 621.7 353.46 621.3 353.62 617.0 353.78 626.3 353.94 623.0 354.10 620.2 354.26 622.1 354.42 621.5 354.58 619.4 354.74 624.6 354.90 624.1 355.06 625.4 355.22 623.8 355.38 623.7 355.54 623.8 355.70 623.0 355.86 625.3 356.02 625.5 356.18 623.1 356.34 625.2 356.50 624.1 356.66 624.5 356.82 628.7 356.98 622.4 357.14 625.4 357.30 626.8 357.46 625.6 357.62 621.2 357.78 627.1 357.94 627.8 358.10 626.0 358.26 625.2 358.42 626.8 358.58 627.4 358.74 627.8 358.90 631.2 359.06 627.0 359.22 627.1 359.38 627.9 359.54 625.9 359.70 621.9 359.86 623.6 360.02 627.6 360.18 625.4 360.34 622.2 360.50 626.3 360.66 626.5 360.82 629.0 360.98 627.1 361.14 627.9 361.30 628.6 361.46 628.6 361.62 626.0 361.78 627.9 361.94 624.6 362.10 626.1 362.26 629.8 362.42 626.7 362.58 629.6 362.74 628.9 362.90 627.2 363.06 626.8 363.22 626.9 363.38 627.7 363.54 627.7 363.70 632.0 363.86 625.6 364.02 625.6 364.18 630.5 364.34 628.9 364.50 634.1 364.66 629.9 364.82 634.4 364.98 628.7 365.14 626.5 365.30 629.9 365.46 627.5 365.62 628.7 365.78 627.4 365.94 627.7 366.10 630.5 366.26 629.6 366.42 627.0 366.58 631.5 366.74 626.7 366.90 628.1 367.06 629.5 367.22 627.8 367.38 629.9 367.54 636.3 367.70 631.2 367.86 628.1 368.02 627.8 368.18 630.8 368.34 629.2 368.50 626.2 368.66 628.4 368.82 625.1 368.98 625.3 369.14 632.8 369.30 631.6 369.46 626.4 369.62 627.7 369.78 632.8 369.94 627.6 370.10 629.3 370.26 635.6 370.42 628.3 370.58 628.3 370.74 629.6 370.90 629.2 371.06 626.2 371.22 630.2 371.38 629.2 371.54 629.7 371.70 627.1 371.86 629.3 372.02 627.3 372.18 629.0 372.34 629.2 372.50 628.0 372.66 629.3 372.82 621.6 372.98 632.8 373.14 627.7 373.30 627.3 373.46 625.2 373.62 623.0 373.78 629.1 373.94 626.0 374.10 626.3 374.26 627.1 374.42 627.9 374.58 622.9 374.74 632.3 374.90 622.4 375.06 628.6 375.22 626.0 375.38 626.7 375.54 633.6 375.70 626.8 375.86 629.4 376.02 624.7 376.18 630.5 376.34 627.0 376.50 627.4 376.66 626.5 376.82 626.7 376.98 625.4 377.14 624.9 377.30 623.6 377.46 624.3 377.62 622.8 377.78 625.1 377.94 630.0 378.10 626.3 378.26 623.8 378.42 625.3 378.58 626.7 378.74 626.5 378.90 628.8 379.06 626.6 379.22 624.1 379.38 627.1 379.54 623.7 379.70 622.9 379.86 628.5 380.02 626.2 380.18 625.7 380.34 632.1 380.50 623.3 380.66 625.9 380.82 626.4 380.98 627.4 381.14 627.0 381.30 625.6 381.46 627.7 381.62 625.7 381.78 626.2 381.94 622.7 382.10 619.6 382.26 626.9 382.42 625.9 382.58 625.2 382.74 626.5 382.90 622.2 383.06 624.8 383.22 624.3 383.38 623.6 383.54 624.7 383.70 626.2 383.86 623.6 384.02 627.2 384.18 620.9 384.34 626.8 384.50 624.5 384.66 624.9 384.82 627.5 384.98 620.6 385.14 628.2 385.30 631.6 385.46 626.2 385.62 625.5 385.78 625.6 385.94 628.8 386.10 629.4 386.26 624.6 386.42 626.7 386.58 625.2 386.74 626.3 386.90 629.9 387.06 625.1 387.22 626.9 387.38 630.2 387.54 632.4 387.70 625.7 387.86 626.6 388.02 622.9 388.18 627.1 388.34 627.7 388.50 628.2 388.66 626.3 388.82 627.6 388.98 629.5 389.14 631.6 389.30 630.1 389.46 627.2 389.62 628.5 389.78 631.4 389.94 624.3 390.10 631.0 390.26 630.9 390.42 628.5 390.58 627.6 390.74 631.2 390.90 627.9 391.06 636.2 391.22 631.2 391.38 634.4 391.54 630.4 391.70 629.9 391.86 629.3 392.02 628.5 392.18 624.4 392.34 628.8 392.50 626.3 392.66 629.2 392.82 628.2 392.98 630.3 393.14 630.8 393.30 633.0 393.46 629.6 393.62 627.7 393.78 630.4 393.94 629.2 394.10 630.4 394.26 632.0 394.42 637.1 394.58 632.5 394.74 631.1 394.90 630.7 395.06 629.8 395.22 632.3 395.38 633.5 395.54 623.5 395.70 632.3 395.86 631.0 396.02 628.2 396.18 630.3 396.34 628.8 396.50 631.1 396.66 631.9 396.82 632.0 396.98 628.5 397.14 630.3 397.30 628.2 397.46 630.8 397.62 631.6 397.78 633.8 397.94 629.8 398.10 632.5 398.26 630.9 398.42 633.7 398.58 629.1 398.74 628.8 398.90 632.2 399.06 630.7 399.22 629.6 399.38 636.3 399.54 630.3 399.70 637.5 399.86 632.4 400.02 628.4 400.18 629.8 400.34 630.3 400.50 630.4 400.66 630.8 400.82 629.9 400.98 633.0 401.14 628.2 401.30 634.6 401.46 631.1 401.62 630.1 401.78 630.5 401.94 631.3 402.10 631.3 402.26 631.9 402.42 632.2 402.58 633.0 402.74 631.8 402.90 632.5 403.06 629.9 403.22 632.8 403.38 629.9 403.54 633.3 403.70 629.1 403.86 632.2 404.02 635.9 404.18 632.5 404.34 630.1 404.50 635.7 404.66 631.6 404.82 636.2 404.98 631.8 405.14 634.4 405.30 630.4 405.46 633.8 405.62 631.5 405.78 631.7 405.94 633.0 406.10 633.0 406.26 628.0 406.42 625.1 406.58 634.7 406.74 630.2 406.90 631.9 407.06 632.8 407.22 634.4 407.38 633.0 407.54 628.0 407.70 634.8 407.86 634.5 408.02 633.4 408.18 634.0 408.34 631.3 408.50 630.5 408.66 633.9 408.82 633.4 408.98 633.2 409.14 632.9 409.30 631.7 409.46 631.4 409.62 632.1 409.78 632.2 409.94 632.1 410.10 632.2 410.26 633.2 410.42 632.0 410.58 632.3 410.74 630.3 410.90 630.2 411.06 630.4 411.22 636.8 411.38 634.1 411.54 630.4 411.70 632.9 411.86 634.6 412.02 631.3 412.18 634.7 412.34 629.4 412.50 636.5 412.66 633.3 412.82 631.5 412.98 632.2 413.14 631.2 413.30 629.9 413.46 631.6 413.62 633.7 413.78 628.4 413.94 629.2 414.10 631.6 414.26 634.3 414.42 629.6 414.58 633.3 414.74 627.2 414.90 626.9 415.06 631.0 415.22 633.3 415.38 633.4 415.54 630.6 415.70 630.7 415.86 630.5 416.02 632.8 416.18 632.1 416.34 632.1 416.50 631.7 416.66 631.5 416.82 631.3 416.98 631.3 417.14 633.9 417.30 631.4 417.46 632.4 417.62 634.7 417.78 630.9 417.94 633.6 418.10 632.9 418.26 632.2 418.42 628.4 418.58 633.5 418.74 631.3 418.90 632.2 419.06 627.2 419.22 632.6 419.38 630.0 419.54 633.3 419.70 631.9 419.86 633.2 420.02 631.9 420.18 633.2 420.34 630.8 420.50 634.9 420.66 634.6 420.82 636.5 420.98 627.7 421.14 632.3 421.30 630.2 421.46 629.4 421.62 632.1 421.78 632.2 421.94 632.4 422.10 633.1 422.26 627.1 422.42 630.4 422.58 631.8 422.74 631.9 422.90 626.2 423.06 628.9 423.22 629.6 423.38 633.0 423.54 632.1 423.70 630.0 423.86 632.6 424.02 630.8 424.18 634.0 424.34 624.9 424.50 633.1 424.66 633.3 424.82 632.3 424.98 631.4 425.14 629.4 425.30 630.0 425.46 634.5 425.62 631.5 425.78 628.9 425.94 632.9 426.10 632.4 426.26 628.0 426.42 631.9 426.58 631.7 426.74 629.3 426.90 633.9 427.06 631.5 427.22 630.4 427.38 630.0 427.54 624.8 427.70 629.5 427.86 628.6 428.02 630.9 428.18 628.9 428.34 630.8 428.50 630.9 428.66 634.2 428.82 633.8 428.98 629.9 429.14 630.8 429.30 630.0 429.46 629.6 429.62 628.8 429.78 633.7 429.94 631.4 430.10 629.8 430.26 630.5 430.42 630.3 430.58 631.6 430.74 630.6 430.90 631.6 431.06 634.2 431.22 630.8 431.38 633.3 431.54 633.2 431.70 629.0 431.86 629.6 432.02 631.0 432.18 632.8 432.34 633.4 432.50 631.7 432.66 631.4 432.82 633.8 432.98 630.2 433.14 630.2 433.30 631.0 433.46 630.8 433.62 628.8 433.78 631.1 433.94 630.2 434.10 637.9 434.26 631.0 434.42 631.1 434.58 630.6 434.74 632.1 434.90 629.1 435.06 627.6 435.22 630.6 435.38 633.0 435.54 634.0 435.70 625.4 435.86 631.5 436.02 631.8 436.18 636.0 436.34 631.5 436.50 630.6 436.66 632.9 436.82 631.8 436.98 633.8 437.14 632.0 437.30 635.7 437.46 632.1 437.62 633.5 437.78 632.3 437.94 630.4 438.10 633.1 438.26 631.5 438.42 632.2 438.58 634.0 438.74 633.8 438.90 635.8 439.06 630.6 439.22 632.7 439.38 633.7 439.54 633.6 439.70 633.6 439.86 631.5 440.02 633.6 440.18 630.4 440.34 632.4 440.50 629.8 440.66 631.4 440.82 631.7 440.98 634.5 441.14 631.7 441.30 634.2 441.46 627.3 441.62 631.4 441.78 632.9 441.94 633.7 442.10 633.7 442.26 635.1 442.42 634.2 442.58 632.1 442.74 634.2 442.90 632.1 443.06 631.3 443.22 633.3 443.38 632.6 443.54 626.8 443.70 634.5 443.86 634.7 444.02 629.9 444.18 633.3 444.34 631.0 444.50 631.7 444.66 630.4 444.82 628.9 444.98 631.4 445.14 634.8 445.30 633.3 445.46 638.7 445.62 632.1 445.78 631.5 445.94 631.2 446.10 638.5 446.26 631.2 446.42 633.1 446.58 630.6 446.74 632.8 446.90 633.0 447.06 632.4 447.22 631.2 447.38 633.4 447.54 633.0 447.70 631.4 447.86 629.3 448.02 631.3 448.18 630.1 448.34 633.7 448.50 628.2 448.66 630.3 448.82 630.0 448.98 631.4 449.14 632.9 449.30 626.4 449.46 627.2 449.62 630.6 449.78 629.2 449.94 632.2 450.10 627.8 450.26 630.9 450.42 633.8 450.58 627.3 450.74 630.7 450.90 632.6 451.06 628.7 451.22 630.1 451.38 633.9 451.54 631.8 451.70 630.1 451.86 636.6 452.02 631.2 452.18 632.4 452.34 630.4 452.50 629.3 452.66 627.7 452.82 633.3 452.98 628.5 453.14 627.6 453.30 628.6 453.46 629.9 453.62 630.3 453.78 629.0 453.94 628.4 454.10 629.1 454.26 627.5 454.42 632.1 454.58 628.0 454.74 626.9 454.90 626.3 455.06 622.7 455.22 628.6 455.38 628.2 455.54 627.1 455.70 630.7 455.86 629.0 456.02 629.2 456.18 629.0 456.34 627.9 456.50 626.2 456.66 626.3 456.82 630.0 456.98 623.9 457.14 625.3 457.30 627.6 457.46 630.2 457.62 630.5 457.78 625.3 457.94 627.9 458.10 628.1 458.26 627.8 458.42 628.7 458.58 627.1 458.74 626.1 458.90 628.2 459.06 628.9 459.22 626.4 459.38 631.3 459.54 630.3 459.70 627.4 459.86 624.9 460.02 624.9 460.18 628.4 460.34 627.8 460.50 625.9 460.66 627.7 460.82 631.6 460.98 625.3 461.14 627.0 461.30 625.9 461.46 625.0 461.62 626.7 461.78 626.6 461.94 626.4 462.10 628.5 462.26 626.0 462.42 626.7 462.58 628.4 462.74 626.5 462.90 619.6 463.06 625.5 463.22 627.9 463.38 626.6 463.54 624.3 463.70 625.4 463.86 630.3 464.02 628.3 464.18 627.1 464.34 624.6 464.50 625.7 464.66 625.0 464.82 623.9 464.98 629.4 465.14 626.1 465.30 627.6 465.46 628.0 465.62 624.3 465.78 623.7 465.94 625.7 466.10 626.2 466.26 624.3 466.42 628.1 466.58 623.0 466.74 625.0 466.90 626.0 467.06 625.5 467.22 625.6 467.38 625.4 467.54 625.2 467.70 626.4 467.86 625.1 468.02 625.4 468.18 625.1 468.34 621.6 468.50 624.6 468.66 620.5 468.82 624.8 468.98 624.1 469.14 624.6 469.30 624.5 469.46 625.3 469.62 624.3 469.78 623.3 469.94 622.1 470.10 619.2 470.26 624.2 470.42 624.4 470.58 628.0 470.74 622.9 470.90 624.6 471.06 622.1 471.22 625.6 471.38 623.9 471.54 625.3 471.70 627.2 471.86 625.0 472.02 620.5 472.18 625.8 472.34 621.0 472.50 624.6 472.66 626.1 472.82 622.9 472.98 623.0 473.14 622.7 473.30 623.9 473.46 621.6 473.62 622.3 473.78 625.9 473.94 629.3 474.10 623.0 474.26 622.3 474.42 621.3 474.58 625.0 474.74 624.9 474.90 622.6 475.06 621.2 475.22 625.6 475.38 626.7 475.54 625.0 475.70 625.2 475.86 625.1 476.02 625.4 476.18 625.4 476.34 622.0 476.50 626.1 476.66 617.9 476.82 623.0 476.98 627.0 477.14 627.1 477.30 625.2 477.46 622.6 477.62 625.2 477.78 618.1 477.94 620.9 478.10 619.9 478.26 626.1 478.42 626.2 478.58 627.2 478.74 623.8 478.90 621.5 479.06 623.9 479.22 624.1 479.38 626.5 479.54 626.4 479.70 624.2 479.86 622.8 480.02 625.5 480.18 623.3 480.34 621.1 480.50 623.3 480.66 625.2 480.82 624.1 480.98 625.6 481.14 626.0 481.30 628.2 481.46 625.1 481.62 624.5 481.78 622.2 481.94 622.4 482.10 626.3 482.26 625.3 482.42 630.9 482.58 627.0 482.74 624.0 482.90 621.4 483.06 619.2 483.22 626.5 483.38 625.0 483.54 624.1 483.70 620.2 483.86 623.2 484.02 622.4 484.18 624.8 484.34 622.7 484.50 624.3 484.66 624.3 484.82 620.6 484.98 628.9 485.14 627.1 485.30 624.2 485.46 629.8 485.62 624.2 485.78 624.9 485.94 621.9 486.10 620.9 486.26 626.9 486.42 622.7 486.58 625.2 486.74 623.3 486.90 625.5 487.06 620.8 487.22 621.7 487.38 621.7 487.54 625.3 487.70 622.3 487.86 625.9 488.02 618.2 488.18 626.7 488.34 624.6 488.50 626.2 488.66 624.7 488.82 626.6 488.98 624.4 489.14 625.6 489.30 625.6 489.46 622.5 489.62 624.8 489.78 623.0 489.94 625.2 490.10 622.9 490.26 627.0 490.42 625.4 490.58 620.6 490.74 625.7 490.90 623.9 491.06 627.4 491.22 623.1 491.38 627.6 491.54 626.4 491.70 622.8 491.86 626.4 492.02 625.5 492.18 624.7 492.34 624.4 492.50 624.0 492.66 627.6 492.82 624.1 492.98 625.5 493.14 623.0 493.30 626.5 493.46 619.4 493.62 626.5 493.78 627.1 493.94 625.5 494.10 627.9 494.26 627.5 494.42 626.8 494.58 626.9 494.74 619.6 494.90 624.5 495.06 628.1 495.22 626.9 495.38 624.5 495.54 627.3 495.70 627.4 495.86 624.7 496.02 625.6 496.18 623.1 496.34 627.8 496.50 623.5 496.66 628.9 496.82 623.4 496.98 629.0 497.14 625.5 497.30 623.8 497.46 626.8 497.62 625.4 497.78 625.4 497.94 630.8 498.10 628.3 498.26 627.6 498.42 627.6 498.58 631.1 498.74 626.9 498.90 625.6 499.06 624.9 499.22 624.8 499.38 626.7 499.54 627.2 499.70 628.9 499.86 627.7 500.02 626.9 500.18 625.9 500.34 627.6 500.50 619.8 500.66 624.6 500.82 632.1 500.98 625.2 501.14 625.4 501.30 627.0 501.46 627.2 501.62 626.6 501.78 625.1 501.94 625.5 502.10 624.9 502.26 626.9 502.42 625.3 502.58 624.3 502.74 625.2 502.90 629.4 503.06 625.3 503.22 627.0 503.38 625.8 503.54 629.4 503.70 628.4 503.86 625.0 504.02 626.6 504.18 626.1 504.34 629.3 504.50 619.8 504.66 623.9 504.82 628.1 504.98 627.0 505.14 625.8 505.30 626.8 505.46 625.8 505.62 625.5 505.78 627.7 505.94 624.8 506.10 625.4 506.26 629.9 506.42 627.7 506.58 626.1 506.74 624.9 506.90 628.0 507.06 628.5 507.22 626.2 507.38 626.5 507.54 630.7 507.70 623.8 507.86 631.2 508.02 625.9 508.18 624.2 508.34 629.4 508.50 622.0 508.66 627.5 508.82 628.8 508.98 629.3 509.14 620.5 509.30 626.2 509.46 626.4 509.62 626.1 509.78 629.2 509.94 623.6 510.10 623.5 510.26 625.6 510.42 630.8 510.58 620.0 510.74 628.0 510.90 624.6 511.06 627.7 511.22 624.3 511.38 623.6 511.54 626.2 511.70 626.3 511.86 625.3 512.02 626.3 512.18 624.4 512.34 619.5 512.50 620.1 512.66 621.2 512.82 621.5 512.98 617.0 513.14 622.5 513.30 617.3 513.46 618.2 513.62 615.1 513.78 618.2 513.94 618.2 514.10 613.0 514.26 611.5 514.42 611.7 514.58 603.4 514.74 608.8 514.90 605.8 515.06 605.9 515.22 598.6 515.38 602.3 515.54 602.1 515.70 599.3 515.86 603.1 516.02 598.2 516.18 592.5 516.34 590.7 516.50 588.4 516.66 596.0 516.82 584.2 516.98 570.9 517.14 574.5 517.30 580.2 517.46 571.7 517.62 560.5 517.78 562.5 517.94 574.8 518.10 566.1 518.26 562.1 518.42 560.5 518.58 553.5 518.74 551.1 518.90 551.9 519.06 544.3 519.22 544.6 519.38 549.7 519.54 543.8 519.70 539.4 519.86 540.4 520.02 541.6 520.18 548.0 520.34 542.4 520.50 550.6 520.66 551.0 520.82 554.4 520.98 552.6 521.14 561.1 521.30 561.6 521.46 561.8 521.62 559.2 521.78 570.1 521.94 574.0 522.10 571.2 522.26 575.5 522.42 576.2 522.58 581.1 522.74 590.5 522.90 582.8 523.06 585.8 523.22 585.7 523.38 587.3 523.54 591.5 523.70 592.0 523.86 593.7 524.02 598.0 524.18 597.0 524.34 599.0 524.50 598.5 524.66 598.8 524.82 599.9 524.98 605.7 525.14 605.8 525.30 610.5 525.46 610.8 525.62 609.9 525.78 604.3 525.94 610.2 526.10 612.8 526.26 615.8 526.42 614.3 526.58 619.3 526.74 615.1 526.90 619.9 527.06 620.8 527.22 625.3 527.38 621.9 527.54 622.3 527.70 622.8 527.86 621.4 528.02 625.6 528.18 629.2 528.34 620.6 528.50 629.8 528.66 626.7 528.82 628.4 528.98 630.6 529.14 631.3 529.30 627.8 529.46 631.8 529.62 632.4 529.78 629.9 529.94 630.7 530.10 629.0 530.26 631.7 530.42 628.8 530.58 632.2 530.74 634.3 530.90 631.8 531.06 627.0 531.22 633.0 531.38 632.8 531.54 631.1 531.70 630.9 531.86 629.8 532.02 631.4 532.18 631.6 532.34 631.6 532.50 631.9 532.66 632.2 532.82 631.6 532.98 631.6 533.14 633.2 533.30 632.4 533.46 631.6 533.62 631.8 533.78 631.0 533.94 634.5 534.10 630.6 534.26 629.9 534.42 633.5 534.58 634.3 534.74 633.4 534.90 632.6 535.06 632.5 535.22 632.9 535.38 634.3 535.54 633.6 535.70 633.0 535.86 631.6 536.02 633.6 536.18 631.4 536.34 634.3 536.50 631.5 536.66 633.5 536.82 634.2 536.98 632.9 537.14 633.9 537.30 638.9 537.46 632.5 537.62 633.2 537.78 633.3 537.94 634.2 538.10 634.3 538.26 632.9 538.42 634.3 538.58 632.4 538.74 634.4 538.90 634.0 539.06 631.1 539.22 635.1 539.38 633.8 539.54 631.1 539.70 633.2 539.86 634.7 540.02 633.7 540.18 633.7 540.34 632.1 540.50 635.3 540.66 633.0 540.82 633.3 540.98 635.0 541.14 630.1 541.30 633.4 541.46 634.2 541.62 633.1 541.78 635.0 541.94 633.1 542.10 633.3 542.26 634.1 542.42 628.5 542.58 632.2 542.74 635.4 542.90 633.7 543.06 634.1 543.22 633.8 543.38 634.1 543.54 633.8 543.70 634.3 543.86 633.9 544.02 633.6 544.18 633.9 544.34 635.3 544.50 632.3 544.66 636.6 544.82 634.6 544.98 634.5 545.14 631.6 545.30 633.5 545.46 635.2 545.62 631.4 545.78 629.7 545.94 632.3 546.10 634.0 546.26 636.6 546.42 634.9 546.58 635.5 546.74 634.2 546.90 633.6 547.06 632.7 547.22 632.0 547.38 635.3 547.54 630.7 547.70 628.3 547.86 634.5 548.02 632.7 548.18 635.0 548.34 634.9 548.50 634.1 548.66 631.6 548.82 628.6 548.98 634.1 549.14 639.1 549.30 635.7 549.46 633.9 549.62 637.9 549.78 635.1 549.94 633.2 550.10 636.6 550.26 633.1 550.42 633.0 550.58 633.3 550.74 632.4 550.90 634.4 551.06 634.8 551.22 633.6 551.38 631.8 551.54 635.4 551.70 635.3 551.86 634.6 552.02 633.4 552.18 634.6 552.34 631.5 552.50 633.4 552.66 636.7 552.82 633.1 552.98 631.8 553.14 636.5 553.30 633.2 553.46 632.2 553.62 635.8 553.78 634.7 553.94 632.3 554.10 632.6 554.26 635.3 554.42 635.0 554.58 631.7 554.74 633.9 554.90 635.1 555.06 633.9 555.22 636.8 555.38 630.7 555.54 633.6 555.70 633.4 555.86 632.5 556.02 634.6 556.18 636.9 556.34 633.0 556.50 632.6 556.66 633.5 556.82 632.8 556.98 634.5 557.14 631.4 557.30 632.4 557.46 633.8 557.62 634.1 557.78 632.1 557.94 634.7 558.10 635.3 558.26 628.1 558.42 638.8 558.58 632.8 558.74 631.9 558.90 633.6 559.06 633.6 559.22 632.8 559.38 633.3 559.54 631.9 559.70 633.9 559.86 632.3 560.02 635.6 560.18 632.8 560.34 632.4 560.50 633.0 560.66 638.0 560.82 635.1 560.98 632.7 561.14 632.7 561.30 632.1 561.46 633.9 561.62 631.5 561.78 631.4 561.94 631.0 562.10 636.3 562.26 632.5 562.42 635.5 562.58 632.4 562.74 632.8 562.90 633.8 563.06 629.5 563.22 631.8 563.38 632.7 563.54 632.9 563.70 636.1 563.86 631.5 564.02 634.9 564.18 633.2 564.34 628.0 564.50 633.2 564.66 634.4 564.82 633.5 564.98 634.3 565.14 633.7 565.30 632.9 565.46 638.6 565.62 632.8 565.78 633.6 565.94 636.3 566.10 634.1 566.26 633.2 566.42 633.1 566.58 634.4 566.74 632.3 566.90 632.6 567.06 632.4 567.22 631.9 567.38 633.6 567.54 632.6 567.70 633.5 567.86 630.7 568.02 633.6 568.18 632.9 568.34 634.0 568.50 632.8 568.66 637.7 568.82 634.2 568.98 631.3 569.14 634.5 569.30 637.0 569.46 635.3 569.62 635.7 569.78 634.1 569.94 633.7 570.10 633.7 570.26 634.2 570.42 634.7 570.58 633.7 570.74 631.7 570.90 632.8 571.06 634.5 571.22 636.5 571.38 634.3 571.54 634.3 571.70 631.8 571.86 632.2 572.02 633.1 572.18 634.4 572.34 634.5 572.50 632.3 572.66 638.1 572.82 634.3 572.98 631.2 573.14 633.4 573.30 631.6 573.46 632.7 573.62 632.9 573.78 637.0 573.94 634.1 574.10 635.9 574.26 634.3 574.42 631.9 574.58 628.1 574.74 633.3 574.90 632.7 575.06 637.8 575.22 633.7 575.38 636.3 575.54 634.2 575.70 633.0 575.86 634.6 576.02 631.9 576.18 633.1 576.34 633.1 576.50 630.7 576.66 630.9 576.82 632.2 576.98 636.9 577.14 638.6 577.30 631.9 577.46 634.2 577.62 632.1 577.78 635.8 577.94 634.1 578.10 633.6 578.26 631.5 578.42 631.4 578.58 634.6 578.74 634.6 578.90 633.0 579.06 637.4 579.22 632.6 579.38 634.5 579.54 632.2 579.70 633.7 579.86 632.1 580.02 633.4 580.18 631.5 580.34 633.3 580.50 633.2 580.66 633.6 580.82 634.4 580.98 632.0 581.14 632.4 581.30 631.6 581.46 635.7 581.62 634.7 581.78 634.2 581.94 634.4 582.10 634.4 582.26 633.2 582.42 633.8 582.58 633.9 582.74 632.5 582.90 633.9 583.06 632.9 583.22 632.0 583.38 635.9 583.54 633.3 583.70 633.8 583.86 632.1 584.02 630.5 584.18 633.4 584.34 630.3 584.50 634.5 584.66 634.9 584.82 632.5 584.98 632.6 585.14 633.6 585.30 634.6 585.46 632.6 585.62 631.1 585.78 634.9 585.94 633.0 586.10 631.0 586.26 632.3 586.42 632.2 586.58 634.0 586.74 633.7 586.90 632.9 587.06 635.3 587.22 631.3 587.38 630.9 587.54 635.8 587.70 633.4 587.86 631.7 588.02 635.7 588.18 633.1 588.34 633.2 588.50 632.7 588.66 632.0 588.82 634.1 588.98 637.6 589.14 633.2 589.30 634.7 589.46 633.8 589.62 633.2 589.78 633.1 589.94 634.3 590.10 635.4 590.26 635.0 590.42 634.8 590.58 634.5 590.74 632.4 590.90 635.5 591.06 633.5 591.22 634.0 591.38 633.5 591.54 635.5 591.70 634.5 591.86 635.5 592.02 637.3 592.18 636.8 592.34 632.7 592.50 632.4 592.66 631.9 592.82 634.5 592.98 638.5 593.14 635.2 593.30 635.2 593.46 633.6 593.62 634.7 593.78 630.3 593.94 635.0 594.10 633.8 594.26 630.3 594.42 629.2 594.58 634.4 594.74 633.8 594.90 632.4 595.06 634.0 595.22 634.8 595.38 632.2 595.54 635.0 595.70 630.6 595.86 635.4 596.02 633.8 596.18 634.8 596.34 636.8 596.50 634.3 596.66 634.7 596.82 633.7 596.98 634.2 597.14 634.6 597.30 635.1 597.46 636.0 597.62 637.5 597.78 634.2 597.94 634.7 598.10 633.4 598.26 633.0 598.42 636.6 598.58 634.8 598.74 632.2 598.90 633.6 599.06 632.7 599.22 632.5 599.38 638.2 599.54 634.7 599.70 636.6 599.86 634.6 600.02 636.7 600.18 633.8 600.34 635.2 600.50 633.9 600.66 634.3 600.82 634.3 600.98 633.0 601.14 629.4 601.30 635.1 601.46 633.1 601.62 634.4 601.78 634.5 601.94 635.5 602.10 634.7 602.26 634.4 602.42 633.6 602.58 636.3 602.74 633.7 602.90 632.3 603.06 634.4 603.22 632.2 603.38 635.2 603.54 632.7 603.70 634.1 603.86 639.5 604.02 631.5 604.18 633.5 604.34 635.2 604.50 633.5 604.66 635.6 604.82 633.6 604.98 634.9 605.14 633.6 605.30 634.4 605.46 629.7 605.62 632.8 605.78 630.8 605.94 635.4 606.10 635.7 606.26 635.3 606.42 635.7 606.58 634.4 606.74 636.6 606.90 635.5 607.06 636.5 607.22 634.7 607.38 635.0 607.54 634.7 607.70 633.4 607.86 634.3 608.02 636.0 608.18 634.9 608.34 636.6 608.50 635.0 608.66 635.4 608.82 635.5 608.98 635.3 609.14 634.8 609.30 634.3 609.46 636.5 609.62 635.2 609.78 634.1 609.94 636.3 610.10 635.2 610.26 634.4" fill="none" stroke="#ff6cc2" stroke-width="1" stroke-linejoin="round"/>
<path d="M93.3 763.9 93.46 768.8 93.62 767.2 93.78 774.7 93.94 770.7 94.10 773.4 94.26 772.2 94.42 766.2 94.58 775.6 94.74 768.2 94.90 765.9 95.06 768.3 95.22 772.2 95.38 772.3 95.54 760.3 95.70 771.2 95.86 771.2 96.02 768.5 96.18 767.9 96.34 773.7 96.50 770.8 96.66 773.7 96.82 774.8 96.98 768.8 97.14 770.1 97.30 772.8 97.46 771.9 97.62 775.1 97.78 772.1 97.94 772.0 98.10 774.1 98.26 773.0 98.42 773.6 98.58 772.2 98.74 776.0 98.90 776.0 99.06 765.3 99.22 771.6 99.38 773.4 99.54 771.3 99.70 770.1 99.86 765.7 100.02 772.6 100.18 768.4 100.34 772.6 100.50 769.0 100.66 771.8 100.82 769.3 100.98 768.2 101.14 769.8 101.30 773.8 101.46 769.2 101.62 762.2 101.78 769.9 101.94 773.7 102.10 770.4 102.26 779.1 102.42 769.9 102.58 772.8 102.74 769.4 102.90 768.6 103.06 770.4 103.22 771.1 103.38 766.8 103.54 773.4 103.70 773.1 103.86 771.8 104.02 771.0 104.18 771.8 104.34 768.4 104.50 769.0 104.66 771.3 104.82 769.9 104.98 771.7 105.14 772.0 105.30 764.2 105.46 768.4 105.62 774.0 105.78 775.9 105.94 771.5 106.10 770.8 106.26 772.9 106.42 769.7 106.58 768.9 106.74 774.6 106.90 770.9 107.06 775.6 107.22 769.1 107.38 770.6 107.54 771.8 107.70 770.4 107.86 770.0 108.02 768.5 108.18 770.7 108.34 760.2 108.50 770.1 108.66 769.1 108.82 769.0 108.98 765.1 109.14 773.5 109.30 770.8 109.46 770.5 109.62 769.7 109.78 771.1 109.94 773.3 110.10 766.5 110.26 771.0 110.42 767.2 110.58 766.1 110.74 770.5 110.90 769.4 111.06 766.4 111.22 770.3 111.38 766.2 111.54 768.9 111.70 772.6 111.86 770.9 112.02 759.2 112.18 769.9 112.34 769.8 112.50 775.8 112.66 773.2 112.82 766.0 112.98 764.2 113.14 768.0 113.30 766.6 113.46 772.6 113.62 767.9 113.78 769.9 113.94 764.0 114.10 768.1 114.26 771.5 114.42 765.5 114.58 770.6 114.74 774.0 114.90 772.6 115.06 769.6 115.22 762.8 115.38 770.3 115.54 767.3 115.70 768.8 115.86 762.4 116.02 771.1 116.18 765.9 116.34 764.9 116.50 774.3 116.66 769.8 116.82 765.6 116.98 764.4 117.14 771.7 117.30 764.7 117.46 767.2 117.62 764.3 117.78 767.9 117.94 765.1 118.10 764.2 118.26 763.9 118.42 759.2 118.58 763.1 118.74 765.4 118.90 764.1 119.06 764.8 119.22 765.1 119.38 759.6 119.54 760.8 119.70 763.0 119.86 763.0 120.02 756.3 120.18 758.6 120.34 766.4 120.50 757.7 120.66 761.7 120.82 761.7 120.98 749.4 121.14 757.5 121.30 757.9 121.46 762.5 121.62 759.4 121.78 767.2 121.94 755.3 122.10 760.1 122.26 767.0 122.42 759.1 122.58 755.0 122.74 754.9 122.90 754.7 123.06 757.3 123.22 751.3 123.38 756.3 123.54 757.5 123.70 755.5 123.86 751.1 124.02 749.3 124.18 753.1 124.34 747.7 124.50 753.0 124.66 756.1 124.82 751.6 124.98 751.9 125.14 749.5 125.30 756.8 125.46 749.4 125.62 746.8 125.78 744.5 125.94 750.9 126.10 754.7 126.26 754.5 126.42 752.6 126.58 747.7 126.74 728.0 126.90 752.8 127.06 753.3 127.22 756.5 127.38 747.1 127.54 744.0 127.70 753.5 127.86 750.9 128.02 751.6 128.18 749.3 128.34 749.0 128.50 750.5 128.66 765.6 128.82 752.3 128.98 751.2 129.14 751.0 129.30 752.1 129.46 751.3 129.62 753.1 129.78 755.6 129.94 752.8 130.10 759.0 130.26 751.8 130.42 757.1 130.58 759.9 130.74 755.1 130.90 757.7 131.06 753.7 131.22 755.8 131.38 754.5 131.54 760.6 131.70 758.0 131.86 760.1 132.02 755.3 132.18 759.6 132.34 761.4 132.50 757.0 132.66 762.9 132.82 768.8 132.98 768.5 133.14 761.8 133.30 768.2 133.46 762.6 133.62 768.8 133.78 760.3 133.94 763.4 134.10 763.5 134.26 761.4 134.42 766.8 134.58 763.9 134.74 766.9 134.90 768.0 135.06 767.5 135.22 767.5 135.38 771.7 135.54 766.5 135.70 769.2 135.86 770.3 136.02 770.6 136.18 770.3 136.34 770.6 136.50 765.7 136.66 773.6 136.82 770.1 136.98 773.0 137.14 769.3 137.30 771.7 137.46 769.6 137.62 770.8 137.78 778.1 137.94 771.2 138.10 775.3 138.26 771.3 138.42 766.3 138.58 770.8 138.74 769.4 138.90 775.8 139.06 771.0 139.22 771.4 139.38 768.9 139.54 762.4 139.70 771.1 139.86 776.6 140.02 774.5 140.18 772.9 140.34 762.8 140.50 771.2 140.66 772.6 140.82 771.4 140.98 764.8 141.14 774.9 141.30 783.3 141.46 771.7 141.62 770.7 141.78 774.4 141.94 767.6 142.10 772.2 142.26 776.1 142.42 775.7 142.58 773.6 142.74 776.5 142.90 771.8 143.06 774.0 143.22 770.3 143.38 776.8 143.54 773.4 143.70 774.5 143.86 773.7 144.02 774.1 144.18 776.3 144.34 776.4 144.50 776.3 144.66 774.7 144.82 764.8 144.98 775.4 145.14 775.7 145.30 775.8 145.46 774.1 145.62 778.6 145.78 773.5 145.94 777.7 146.10 773.3 146.26 775.9 146.42 773.6 146.58 779.9 146.74 771.3 146.90 778.5 147.06 773.6 147.22 774.8 147.38 781.8 147.54 782.8 147.70 774.3 147.86 774.2 148.02 776.2 148.18 776.3 148.34 773.8 148.50 776.4 148.66 772.8 148.82 776.6 148.98 777.1 149.14 779.3 149.30 770.3 149.46 779.2 149.62 774.7 149.78 772.8 149.94 779.0 150.10 780.2 150.26 774.5 150.42 779.9 150.58 779.8 150.74 781.8 150.90 777.5 151.06 778.4 151.22 768.3 151.38 782.3 151.54 776.5 151.70 777.3 151.86 774.2 152.02 776.2 152.18 781.4 152.34 775.5 152.50 777.5 152.66 776.6 152.82 774.8 152.98 777.8 153.14 782.0 153.30 775.4 153.46 772.5 153.62 777.5 153.78 781.4 153.94 774.6 154.10 782.2 154.26 781.8 154.42 778.8 154.58 775.0 154.74 779.2 154.90 777.8 155.06 777.2 155.22 776.9 155.38 776.2 155.54 775.1 155.70 779.5 155.86 779.5 156.02 776.4 156.18 777.8 156.34 780.3 156.50 767.8 156.66 778.5 156.82 773.2 156.98 778.7 157.14 779.0 157.30 773.7 157.46 777.3 157.62 779.0 157.78 771.5 157.94 776.7 158.10 780.4 158.26 782.8 158.42 774.0 158.58 777.5 158.74 782.0 158.90 779.2 159.06 781.0 159.22 778.3 159.38 774.0 159.54 777.5 159.70 776.8 159.86 775.2 160.02 782.1 160.18 775.3 160.34 780.2 160.50 767.8 160.66 780.1 160.82 779.1 160.98 778.4 161.14 779.7 161.30 773.2 161.46 772.5 161.62 774.5 161.78 787.6 161.94 777.9 162.10 776.6 162.26 775.5 162.42 776.8 162.58 774.5 162.74 779.2 162.90 783.1 163.06 780.4 163.22 777.0 163.38 780.7 163.54 780.2 163.70 777.6 163.86 780.3 164.02 776.3 164.18 775.3 164.34 778.8 164.50 777.3 164.66 776.2 164.82 786.7 164.98 777.4 165.14 771.2 165.30 777.1 165.46 775.6 165.62 779.1 165.78 776.7 165.94 779.2 166.10 778.0 166.26 777.0 166.42 776.8 166.58 777.7 166.74 781.4 166.90 777.7 167.06 783.5 167.22 779.7 167.38 779.1 167.54 771.4 167.70 775.0 167.86 780.8 168.02 782.5 168.18 774.3 168.34 780.5 168.50 776.7 168.66 778.6 168.82 778.4 168.98 776.8 169.14 778.4 169.30 780.4 169.46 774.6 169.62 777.0 169.78 777.2 169.94 775.4 170.10 777.3 170.26 767.9 170.42 777.2 170.58 775.9 170.74 775.4 170.90 780.2 171.06 776.5 171.22 778.7 171.38 786.3 171.54 771.8 171.70 778.6 171.86 775.3 172.02 776.3 172.18 778.8 172.34 779.5 172.50 777.9 172.66 781.4 172.82 778.2 172.98 782.8 173.14 773.1 173.30 782.9 173.46 771.1 173.62 780.0 173.78 780.2 173.94 776.3 174.10 778.0 174.26 778.8 174.42 771.0 174.58 780.7 174.74 784.4 174.90 784.8 175.06 772.8 175.22 777.8 175.38 779.9 175.54 779.9 175.70 775.9 175.86 780.1 176.02 780.6 176.18 780.1 176.34 781.3 176.50 778.3 176.66 778.8 176.82 779.9 176.98 779.2 177.14 777.2 177.30 783.1 177.46 778.6 177.62 777.5 177.78 779.3 177.94 780.5 178.10 781.9 178.26 779.5 178.42 776.8 178.58 780.1 178.74 781.6 178.90 779.0 179.06 779.4 179.22 774.4 179.38 782.8 179.54 772.3 179.70 777.2 179.86 780.8 180.02 786.8 180.18 778.5 180.34 778.0 180.50 780.3 180.66 776.0 180.82 779.1 180.98 778.8 181.14 781.9 181.30 779.4 181.46 779.9 181.62 778.7 181.78 782.6 181.94 778.2 182.10 779.4 182.26 779.5 182.42 779.9 182.58 777.3 182.74 788.8 182.90 776.6 183.06 778.5 183.22 777.0 183.38 779.4 183.54 780.4 183.70 776.8 183.86 780.0 184.02 778.6 184.18 780.5 184.34 778.2 184.50 776.4 184.66 774.9 184.82 775.4 184.98 776.1 185.14 777.3 185.30 777.0 185.46 776.3 185.62 775.7 185.78 778.7 185.94 777.6 186.10 780.7 186.26 778.7 186.42 779.8 186.58 778.0 186.74 779.5 186.90 777.0 187.06 780.1 187.22 780.4 187.38 779.6 187.54 778.4 187.70 781.4 187.86 778.5 188.02 774.2 188.18 782.2 188.34 778.6 188.50 769.3 188.66 778.1 188.82 780.0 188.98 780.9 189.14 775.7 189.30 779.4 189.46 779.5 189.62 781.1 189.78 780.0 189.94 788.3 190.10 781.0 190.26 784.0 190.42 774.2 190.58 780.9 190.74 777.0 190.90 778.2 191.06 783.3 191.22 783.4 191.38 777.7 191.54 773.2 191.70 778.5 191.86 781.3 192.02 780.5 192.18 779.4 192.34 781.3 192.50 782.6 192.66 777.9 192.82 775.1 192.98 780.0 193.14 779.5 193.30 780.7 193.46 781.6 193.62 783.3 193.78 774.3 193.94 769.3 194.10 774.6 194.26 775.7 194.42 775.8 194.58 778.5 194.74 778.4 194.90 774.3 195.06 778.2 195.22 774.8 195.38 776.6 195.54 775.9 195.70 774.6 195.86 775.1 196.02 777.4 196.18 770.8 196.34 780.5 196.50 776.1 196.66 774.0 196.82 779.6 196.98 779.8 197.14 775.6 197.30 775.8 197.46 779.7 197.62 784.6 197.78 773.8 197.94 773.9 198.10 778.0 198.26 776.5 198.42 777.2 198.58 779.7 198.74 774.5 198.90 777.8 199.06 779.3 199.22 774.0 199.38 778.0 199.54 776.2 199.70 769.6 199.86 775.6 200.02 772.4 200.18 774.6 200.34 776.2 200.50 778.3 200.66 774.0 200.82 773.2 200.98 775.0 201.14 784.2 201.30 774.2 201.46 772.2 201.62 775.9 201.78 774.1 201.94 776.0 202.10 777.3 202.26 777.1 202.42 770.6 202.58 771.1 202.74 777.7 202.90 774.3 203.06 772.0 203.22 773.3 203.38 768.0 203.54 772.1 203.70 771.4 203.86 772.6 204.02 773.9 204.18 772.2 204.34 769.2 204.50 775.8 204.66 765.1 204.82 771.9 204.98 766.8 205.14 770.4 205.30 770.5 205.46 767.0 205.62 771.1 205.78 770.6 205.94 770.2 206.10 770.4 206.26 772.8 206.42 766.8 206.58 769.6 206.74 767.5 206.90 772.2 207.06 776.2 207.22 767.4 207.38 765.5 207.54 757.4 207.70 767.8 207.86 763.1 208.02 768.3 208.18 766.1 208.34 762.6 208.50 767.9 208.66 762.3 208.82 768.3 208.98 767.0 209.14 765.2 209.30 764.1 209.46 762.5 209.62 763.2 209.78 768.2 209.94 756.8 210.10 763.0 210.26 759.1 210.42 765.9 210.58 759.4 210.74 760.7 210.90 765.4 211.06 758.6 211.22 762.0 211.38 765.0 211.54 762.8 211.70 757.4 211.86 757.2 212.02 750.1 212.18 756.5 212.34 755.9 212.50 752.9 212.66 748.0 212.82 748.6 212.98 750.2 213.14 747.0 213.30 749.6 213.46 749.2 213.62 748.7 213.78 749.9 213.94 744.6 214.10 741.0 214.26 747.2 214.42 741.3 214.58 742.9 214.74 744.2 214.90 744.6 215.06 745.1 215.22 739.1 215.38 744.1 215.54 727.6 215.70 753.5 215.86 725.6 216.02 735.6 216.18 731.1 216.34 733.3 216.50 734.9 216.66 730.7 216.82 730.7 216.98 733.5 217.14 719.0 217.30 728.9 217.46 730.3 217.62 728.1 217.78 729.3 217.94 729.2 218.10 728.8 218.26 714.0 218.42 720.8 218.58 723.6 218.74 727.5 218.90 721.4 219.06 725.3 219.22 723.5 219.38 718.9 219.54 723.1 219.70 722.3 219.86 714.4 220.02 731.0 220.18 715.5 220.34 716.0 220.50 712.6 220.66 715.5 220.82 717.9 220.98 699.6 221.14 720.0 221.30 713.6 221.46 719.8 221.62 705.7 221.78 724.7 221.94 705.3 222.10 720.0 222.26 718.9 222.42 703.2 222.58 710.1 222.74 703.3 222.90 710.9 223.06 699.6 223.22 707.4 223.38 723.0 223.54 718.1 223.70 710.4 223.86 719.3 224.02 720.9 224.18 700.4 224.34 718.9 224.50 711.5 224.66 700.2 224.82 705.7 224.98 711.6 225.14 706.5 225.30 699.0 225.46 710.0 225.62 704.0 225.78 710.7 225.94 708.5 226.10 715.6 226.26 720.5 226.42 711.7 226.58 713.6 226.74 718.1 226.90 721.2 227.06 715.1 227.22 718.0 227.38 713.4 227.54 716.7 227.70 721.7 227.86 722.1 228.02 716.2 228.18 722.9 228.34 723.2 228.50 721.5 228.66 719.6 228.82 723.4 228.98 725.5 229.14 715.0 229.30 741.0 229.46 703.9 229.62 718.6 229.78 713.6 229.94 723.8 230.10 718.4 230.26 718.6 230.42 728.5 230.58 726.6 230.74 721.7 230.90 716.0 231.06 722.3 231.22 711.7 231.38 715.9 231.54 721.0 231.70 718.8 231.86 709.7 232.02 715.0 232.18 715.4 232.34 712.7 232.50 718.1 232.66 728.5 232.82 715.1 232.98 718.2 233.14 721.6 233.30 711.7 233.46 716.7 233.62 714.5 233.78 706.4 233.94 716.0 234.10 711.2 234.26 710.9 234.42 714.0 234.58 721.6 234.74 711.4 234.90 705.6 235.06 713.7 235.22 713.2 235.38 713.8 235.54 730.8 235.70 710.8 235.86 695.0 236.02 704.7 236.18 705.0 236.34 707.3 236.50 718.3 236.66 713.1 236.82 700.7 236.98 714.0 237.14 717.6 237.30 706.9 237.46 720.3 237.62 703.1 237.78 710.4 237.94 711.7 238.10 714.5 238.26 735.7 238.42 714.4 238.58 713.1 238.74 718.0 238.90 719.7 239.06 730.7 239.22 722.2 239.38 725.1 239.54 726.3 239.70 718.4 239.86 714.1 240.02 710.8 240.18 712.9 240.34 725.0 240.50 732.6 240.66 729.7 240.82 728.9 240.98 730.5 241.14 734.3 241.30 746.2 241.46 713.0 241.62 721.5 241.78 738.5 241.94 729.9 242.10 730.4 242.26 741.7 242.42 736.8 242.58 732.2 242.74 737.3 242.90 735.5 243.06 735.6 243.22 737.6 243.38 740.7 243.54 741.1 243.70 743.3 243.86 745.7 244.02 744.4 244.18 744.1 244.34 744.4 244.50 746.7 244.66 746.7 244.82 746.6 244.98 760.4 245.14 745.1 245.30 756.9 245.46 748.8 245.62 750.2 245.78 748.8 245.94 751.3 246.10 753.0 246.26 752.9 246.42 739.4 246.58 749.8 246.74 753.3 246.90 754.9 247.06 751.1 247.22 755.3 247.38 758.1 247.54 752.5 247.70 758.8 247.86 745.0 248.02 758.6 248.18 759.6 248.34 758.0 248.50 759.0 248.66 757.3 248.82 761.6 248.98 752.8 249.14 758.5 249.30 756.0 249.46 757.0 249.62 763.6 249.78 758.9 249.94 762.0 250.10 758.4 250.26 761.0 250.42 766.6 250.58 758.1 250.74 754.4 250.90 758.9 251.06 767.7 251.22 760.9 251.38 763.4 251.54 763.0 251.70 769.7 251.86 761.9 252.02 759.0 252.18 760.7 252.34 762.1 252.50 768.1 252.66 759.9 252.82 752.4 252.98 760.6 253.14 760.8 253.30 759.1 253.46 763.4 253.62 764.2 253.78 768.7 253.94 769.4 254.10 759.6 254.26 765.0 254.42 764.6 254.58 763.9 254.74 762.1 254.90 763.9 255.06 764.2 255.22 763.7 255.38 757.5 255.54 762.6 255.70 762.5 255.86 764.7 256.02 769.3 256.18 756.1 256.34 757.3 256.50 766.9 256.66 765.0 256.82 763.0 256.98 765.6 257.14 762.9 257.30 763.8 257.46 757.1 257.62 762.3 257.78 765.3 257.94 763.9 258.10 757.9 258.26 762.7 258.42 763.4 258.58 769.0 258.74 759.5 258.90 759.2 259.06 765.8 259.22 760.6 259.38 760.6 259.54 759.7 259.70 759.5 259.86 763.5 260.02 757.2 260.18 761.9 260.34 766.1 260.50 758.1 260.66 760.0 260.82 763.9 260.98 762.3 261.14 756.1 261.30 759.4 261.46 759.4 261.62 761.9 261.78 763.2 261.94 762.1 262.10 752.1 262.26 756.5 262.42 765.7 262.58 755.2 262.74 756.6 262.90 755.5 263.06 762.7 263.22 759.1 263.38 757.5 263.54 757.1 263.70 756.1 263.86 759.4 264.02 754.3 264.18 757.2 264.34 754.4 264.50 757.0 264.66 761.4 264.82 756.2 264.98 752.1 265.14 752.8 265.30 756.3 265.46 753.1 265.62 750.1 265.78 751.1 265.94 750.6 266.10 752.7 266.26 749.2 266.42 749.9 266.58 749.2 266.74 747.2 266.90 749.6 267.06 750.6 267.22 750.1 267.38 751.3 267.54 747.6 267.70 749.5 267.86 756.2 268.02 748.2 268.18 751.2 268.34 748.5 268.50 750.5 268.66 754.6 268.82 761.9 268.98 757.3 269.14 747.8 269.30 755.7 269.46 754.0 269.62 742.7 269.78 753.9 269.94 751.2 270.10 747.3 270.26 748.8 270.42 740.9 270.58 745.9 270.74 744.2 270.90 751.7 271.06 755.8 271.22 745.2 271.38 748.4 271.54 739.6 271.70 743.0 271.86 731.7 272.02 753.9 272.18 743.0 272.34 753.8 272.50 741.4 272.66 746.9 272.82 750.6 272.98 749.6 273.14 752.1 273.30 758.9 273.46 750.3 273.62 744.5 273.78 749.7 273.94 748.2 274.10 751.5 274.26 746.8 274.42 749.8 274.58 748.3 274.74 750.8 274.90 750.0 275.06 745.3 275.22 750.6 275.38 758.1 275.54 749.8 275.70 747.6 275.86 754.7 276.02 751.8 276.18 747.3 276.34 748.7 276.50 757.2 276.66 747.2 276.82 746.7 276.98 754.5 277.14 754.0 277.30 757.9 277.46 754.3 277.62 758.8 277.78 753.4 277.94 752.3 278.10 753.9 278.26 754.1 278.42 752.4 278.58 755.1 278.74 757.0 278.90 744.5 279.06 757.3 279.22 761.4 279.38 753.8 279.54 755.9 279.70 755.2 279.86 751.6 280.02 744.8 280.18 749.5 280.34 751.0 280.50 757.4 280.66 755.0 280.82 750.8 280.98 751.3 281.14 754.9 281.30 752.2 281.46 751.6 281.62 763.2 281.78 748.5 281.94 756.9 282.10 756.6 282.26 756.1 282.42 753.4 282.58 763.9 282.74 751.9 282.90 759.8 283.06 758.5 283.22 758.3 283.38 760.7 283.54 755.7 283.70 747.3 283.86 760.4 284.02 767.5 284.18 758.7 284.34 759.2 284.50 752.5 284.66 760.1 284.82 758.8 284.98 756.7 285.14 760.9 285.30 755.6 285.46 754.7 285.62 759.2 285.78 759.5 285.94 756.8 286.10 753.4 286.26 756.6 286.42 761.0 286.58 764.0 286.74 757.5 286.90 757.0 287.06 767.1 287.22 757.5 287.38 756.7 287.54 760.5 287.70 762.4 287.86 760.0 288.02 762.6 288.18 758.5 288.34 761.1 288.50 759.8 288.66 761.1 288.82 762.8 288.98 755.2 289.14 770.4 289.30 763.4 289.46 760.7 289.62 756.2 289.78 761.6 289.94 763.9 290.10 760.2 290.26 764.7 290.42 762.5 290.58 766.0 290.74 760.0 290.90 762.1 291.06 763.9 291.22 762.8 291.38 760.6 291.54 762.8 291.70 759.7 291.86 760.1 292.02 766.1 292.18 760.3 292.34 762.3 292.50 764.3 292.66 763.7 292.82 756.6 292.98 761.5 293.14 763.4 293.30 767.4 293.46 768.4 293.62 760.5 293.78 765.9 293.94 762.9 294.10 763.7 294.26 762.1 294.42 769.0 294.58 765.8 294.74 766.0 294.90 762.8 295.06 765.8 295.22 759.3 295.38 769.3 295.54 769.5 295.70 765.6 295.86 771.7 296.02 767.7 296.18 769.5 296.34 765.9 296.50 772.3 296.66 772.2 296.82 769.4 296.98 767.6 297.14 768.2 297.30 768.0 297.46 770.1 297.62 775.1 297.78 763.6 297.94 774.8 298.10 769.0 298.26 774.2 298.42 772.1 298.58 767.6 298.74 767.7 298.90 766.2 299.06 770.8 299.22 771.1 299.38 773.4 299.54 769.3 299.70 771.3 299.86 766.3 300.02 771.3 300.18 769.3 300.34 772.3 300.50 771.1 300.66 773.2 300.82 773.1 300.98 770.2 301.14 772.7 301.30 771.5 301.46 771.1 301.62 763.8 301.78 770.3 301.94 773.5 302.10 772.5 302.26 773.4 302.42 778.0 302.58 775.7 302.74 770.8 302.90 773.4 303.06 775.1 303.22 770.4 303.38 775.8 303.54 773.1 303.70 774.9 303.86 775.4 304.02 779.2 304.18 773.6 304.34 775.2 304.50 775.1 304.66 768.8 304.82 772.0 304.98 778.6 305.14 777.1 305.30 772.7 305.46 772.3 305.62 767.5 305.78 774.6 305.94 777.0 306.10 775.2 306.26 776.6 306.42 777.5 306.58 774.7 306.74 772.5 306.90 772.6 307.06 775.1 307.22 778.1 307.38 775.6 307.54 773.0 307.70 775.4 307.86 783.3 308.02 779.4 308.18 773.9 308.34 780.7 308.50 778.3 308.66 778.9 308.82 776.3 308.98 781.1 309.14 776.5 309.30 779.4 309.46 783.3 309.62 774.2 309.78 777.6 309.94 781.3 310.10 778.0 310.26 776.1 310.42 777.8 310.58 779.5 310.74 774.6 310.90 781.6 311.06 778.1 311.22 782.3 311.38 778.0 311.54 778.8 311.70 782.5 311.86 778.9 312.02 780.0 312.18 779.4 312.34 781.0 312.50 779.6 312.66 778.0 312.82 784.1 312.98 783.9 313.14 779.3 313.30 777.8 313.46 779.3 313.62 781.1 313.78 780.2 313.94 784.2 314.10 782.1 314.26 785.4 314.42 780.9 314.58 782.8 314.74 779.0 314.90 779.1 315.06 779.2 315.22 784.1 315.38 782.3 315.54 781.3 315.70 773.1 315.86 782.2 316.02 783.3 316.18 779.1 316.34 782.3 316.50 783.9 316.66 782.1 316.82 784.8 316.98 780.7 317.14 781.5 317.30 786.8 317.46 787.1 317.62 780.0 317.78 777.6 317.94 779.2 318.10 783.2 318.26 782.7 318.42 782.7 318.58 783.2 318.74 780.8 318.90 789.1 319.06 780.7 319.22 783.3 319.38 778.9 319.54 785.4 319.70 781.4 319.86 780.9 320.02 782.3 320.18 786.2 320.34 780.8 320.50 779.7 320.66 786.2 320.82 778.0 320.98 783.2 321.14 779.1 321.30 782.8 321.46 777.1 321.62 782.1 321.78 784.0 321.94 783.3 322.10 780.9 322.26 778.7 322.42 782.3 322.58 780.6 322.74 781.0 322.90 779.4 323.06 782.5 323.22 781.6 323.38 780.4 323.54 777.5 323.70 785.0 323.86 782.2 324.02 775.5 324.18 788.3 324.34 780.1 324.50 779.6 324.66 780.1 324.82 783.0 324.98 783.6 325.14 779.5 325.30 783.1 325.46 785.3 325.62 782.1 325.78 776.2 325.94 785.3 326.10 780.7 326.26 782.4 326.42 785.6 326.58 782.8 326.74 782.3 326.90 779.8 327.06 782.6 327.22 781.8 327.38 781.8 327.54 779.9 327.70 783.3 327.86 779.8 328.02 779.8 328.18 780.9 328.34 775.4 328.50 780.3 328.66 785.5 328.82 789.1 328.98 781.6 329.14 778.6 329.30 773.7 329.46 781.8 329.62 778.6 329.78 773.6 329.94 783.3 330.10 779.9 330.26 779.2 330.42 782.3 330.58 782.2 330.74 781.6 330.90 780.4 331.06 780.3 331.22 782.0 331.38 780.0 331.54 780.8 331.70 776.3 331.86 780.3 332.02 781.7 332.18 782.2 332.34 780.5 332.50 782.4 332.66 784.4 332.82 780.0 332.98 781.1 333.14 781.5 333.30 781.2 333.46 778.1 333.62 781.0 333.78 773.1 333.94 778.7 334.10 779.6 334.26 778.2 334.42 783.3 334.58 777.6 334.74 781.1 334.90 785.1 335.06 780.7 335.22 780.3 335.38 778.4 335.54 780.7 335.70 781.2 335.86 780.9 336.02 780.0 336.18 780.3 336.34 780.9 336.50 780.4 336.66 776.0 336.82 782.5 336.98 781.1 337.14 780.3 337.30 784.1 337.46 785.2 337.62 780.0 337.78 781.4 337.94 778.5 338.10 781.9 338.26 782.6 338.42 781.7 338.58 780.6 338.74 776.9 338.90 782.0 339.06 779.8 339.22 780.3 339.38 779.9 339.54 782.2 339.70 778.9 339.86 781.1 340.02 780.6 340.18 780.3 340.34 783.8 340.50 778.5 340.66 777.9 340.82 783.8 340.98 786.2 341.14 782.8 341.30 780.9 341.46 782.3 341.62 779.2 341.78 781.9 341.94 773.7 342.10 777.5 342.26 781.2 342.42 783.6 342.58 777.0 342.74 780.5 342.90 781.3 343.06 782.0 343.22 781.4 343.38 779.5 343.54 780.0 343.70 781.0 343.86 781.0 344.02 779.7 344.18 779.4 344.34 787.8 344.50 782.1 344.66 778.8 344.82 781.2 344.98 779.2 345.14 779.5 345.30 779.7 345.46 777.7 345.62 780.7 345.78 780.8 345.94 781.2 346.10 775.1 346.26 782.7 346.42 783.2 346.58 780.9 346.74 779.2 346.90 778.7 347.06 778.2 347.22 780.0 347.38 778.7 347.54 780.1 347.70 775.5 347.86 780.5 348.02 780.3 348.18 781.7 348.34 781.9 348.50 780.3 348.66 775.4 348.82 780.2 348.98 772.8 349.14 781.6 349.30 779.1 349.46 781.4 349.62 781.6 349.78 780.5 349.94 782.5 350.10 779.4 350.26 782.9 350.42 778.1 350.58 776.0 350.74 780.0 350.90 781.2 351.06 783.4 351.22 781.8 351.38 782.3 351.54 782.5 351.70 782.7 351.86 776.5 352.02 779.7 352.18 781.4 352.34 782.3 352.50 779.5 352.66 783.2 352.82 781.4 352.98 781.1 353.14 787.7 353.30 778.1 353.46 778.6 353.62 781.3 353.78 780.5 353.94 781.0 354.10 783.1 354.26 779.0 354.42 782.2 354.58 779.7 354.74 781.5 354.90 780.2 355.06 781.5 355.22 781.2 355.38 784.9 355.54 781.7 355.70 778.6 355.86 774.3 356.02 781.9 356.18 783.9 356.34 781.5 356.50 781.8 356.66 778.2 356.82 783.3 356.98 780.6 357.14 779.0 357.30 781.0 357.46 778.2 357.62 783.7 357.78 783.5 357.94 782.8 358.10 781.2 358.26 780.2 358.42 787.2 358.58 779.3 358.74 785.8 358.90 774.2 359.06 780.9 359.22 783.0 359.38 778.8 359.54 779.5 359.70 779.1 359.86 780.8 360.02 781.9 360.18 779.4 360.34 781.4 360.50 782.9 360.66 784.9 360.82 782.7 360.98 780.1 361.14 778.4 361.30 783.2 361.46 782.7 361.62 782.3 361.78 779.3 361.94 780.8 362.10 784.4 362.26 780.1 362.42 785.4 362.58 780.7 362.74 783.8 362.90 782.4 363.06 780.0 363.22 777.5 363.38 778.1 363.54 779.2 363.70 780.4 363.86 780.5 364.02 775.7 364.18 782.4 364.34 780.4 364.50 781.8 364.66 782.0 364.82 782.7 364.98 779.5 365.14 782.8 365.30 782.3 365.46 782.1 365.62 780.1 365.78 782.3 365.94 782.5 366.10 783.2 366.26 782.2 366.42 779.6 366.58 781.9 366.74 786.0 366.90 788.9 367.06 781.3 367.22 783.9 367.38 784.1 367.54 785.8 367.70 788.9 367.86 783.8 368.02 781.4 368.18 779.7 368.34 782.8 368.50 782.0 368.66 782.1 368.82 778.3 368.98 781.6 369.14 781.6 369.30 784.8 369.46 781.3 369.62 780.6 369.78 781.5 369.94 782.9 370.10 786.0 370.26 784.7 370.42 779.6 370.58 783.4 370.74 780.4 370.90 784.4 371.06 786.5 371.22 780.8 371.38 783.6 371.54 784.2 371.70 782.4 371.86 782.7 372.02 782.0 372.18 783.0 372.34 782.4 372.50 779.2 372.66 781.2 372.82 778.7 372.98 780.6 373.14 782.0 373.30 782.5 373.46 779.4 373.62 782.0 373.78 778.3 373.94 780.9 374.10 783.0 374.26 786.0 374.42 781.1 374.58 781.5 374.74 780.1 374.90 780.0 375.06 779.9 375.22 779.6 375.38 786.1 375.54 783.4 375.70 781.6 375.86 779.5 376.02 785.0 376.18 781.1 376.34 780.4 376.50 778.4 376.66 781.1 376.82 784.9 376.98 784.9 377.14 781.9 377.30 781.9 377.46 785.1 377.62 780.9 377.78 782.3 377.94 781.5 378.10 781.5 378.26 782.3 378.42 780.7 378.58 780.0 378.74 786.6 378.90 782.1 379.06 781.1 379.22 782.7 379.38 784.0 379.54 781.3 379.70 780.5 379.86 782.3 380.02 780.1 380.18 781.0 380.34 780.7 380.50 782.2 380.66 783.7 380.82 780.3 380.98 785.0 381.14 780.5 381.30 779.8 381.46 782.0 381.62 781.6 381.78 780.1 381.94 780.0 382.10 782.5 382.26 780.4 382.42 778.9 382.58 783.7 382.74 780.2 382.90 779.6 383.06 780.8 383.22 782.0 383.38 783.0 383.54 781.5 383.70 781.3 383.86 782.3 384.02 782.1 384.18 782.6 384.34 779.2 384.50 783.2 384.66 776.6 384.82 779.7 384.98 779.2 385.14 778.2 385.30 778.8 385.46 779.9 385.62 779.3 385.78 780.5 385.94 780.6 386.10 780.9 386.26 781.0 386.42 778.4 386.58 780.6 386.74 781.0 386.90 782.1 387.06 778.2 387.22 780.9 387.38 778.7 387.54 778.9 387.70 780.5 387.86 781.8 388.02 779.3 388.18 781.2 388.34 781.7 388.50 779.5 388.66 780.1 388.82 780.9 388.98 778.8 389.14 780.4 389.30 779.4 389.46 778.7 389.62 781.0 389.78 781.0 389.94 786.0 390.10 779.1 390.26 781.6 390.42 782.9 390.58 778.7 390.74 775.5 390.90 779.0 391.06 781.0 391.22 780.0 391.38 780.7 391.54 786.2 391.70 779.6 391.86 782.6 392.02 780.8 392.18 785.5 392.34 774.5 392.50 777.9 392.66 779.8 392.82 782.3 392.98 779.7 393.14 780.2 393.30 779.6 393.46 779.0 393.62 780.9 393.78 782.1 393.94 784.0 394.10 778.4 394.26 785.5 394.42 781.1 394.58 778.6 394.74 783.8 394.90 776.6 395.06 781.1 395.22 777.2 395.38 782.1 395.54 785.0 395.70 779.3 395.86 783.2 396.02 775.5 396.18 782.5 396.34 781.4 396.50 780.7 396.66 780.4 396.82 780.9 396.98 785.6 397.14 780.2 397.30 783.4 397.46 783.4 397.62 780.9 397.78 780.8 397.94 782.6 398.10 782.6 398.26 782.0 398.42 780.6 398.58 779.9 398.74 781.6 398.90 784.0 399.06 781.9 399.22 783.2 399.38 777.3 399.54 785.2 399.70 784.6 399.86 782.2 400.02 784.8 400.18 783.7 400.34 778.1 400.50 781.9 400.66 781.3 400.82 784.5 400.98 784.0 401.14 781.3 401.30 781.2 401.46 784.4 401.62 784.8 401.78 780.7 401.94 780.4 402.10 788.6 402.26 781.9 402.42 783.6 402.58 783.4 402.74 782.7 402.90 786.8 403.06 784.2 403.22 780.2 403.38 780.1 403.54 783.1 403.70 781.6 403.86 783.1 404.02 781.4 404.18 781.3 404.34 781.4 404.50 784.5 404.66 782.4 404.82 776.4 404.98 783.9 405.14 781.0 405.30 777.5 405.46 783.1 405.62 781.9 405.78 784.0 405.94 782.3 406.10 784.3 406.26 782.9 406.42 782.2 406.58 783.1 406.74 783.4 406.90 783.0 407.06 783.0 407.22 784.9 407.38 784.6 407.54 776.8 407.70 785.1 407.86 779.7 408.02 785.0 408.18 788.9 408.34 782.1 408.50 783.0 408.66 781.6 408.82 783.9 408.98 786.1 409.14 780.7 409.30 782.3 409.46 785.2 409.62 783.8 409.78 781.6 409.94 785.7 410.10 782.7 410.26 786.3 410.42 783.5 410.58 784.8 410.74 783.6 410.90 785.4 411.06 784.0 411.22 784.0 411.38 784.9 411.54 790.4 411.70 783.2 411.86 783.4 412.02 781.4 412.18 783.6 412.34 783.6 412.50 785.5 412.66 788.2 412.82 784.8 412.98 784.2 413.14 785.6 413.30 781.6 413.46 781.7 413.62 785.9 413.78 783.3 413.94 783.2 414.10 785.0 414.26 782.8 414.42 781.9 414.58 784.2 414.74 789.8 414.90 782.4 415.06 782.8 415.22 786.5 415.38 782.8 415.54 785.5 415.70 782.1 415.86 783.1 416.02 787.9 416.18 790.9 416.34 784.9 416.50 785.8 416.66 777.6 416.82 785.8 416.98 783.0 417.14 785.9 417.30 785.4 417.46 784.3 417.62 786.5 417.78 784.8 417.94 784.9 418.10 783.7 418.26 784.8 418.42 786.6 418.58 784.4 418.74 783.5 418.90 783.6 419.06 785.2 419.22 785.3 419.38 780.3 419.54 785.0 419.70 783.8 419.86 783.9 420.02 783.5 420.18 783.7 420.34 783.5 420.50 785.5 420.66 784.1 420.82 781.2 420.98 786.5 421.14 784.4 421.30 783.3 421.46 786.0 421.62 782.1 421.78 783.6 421.94 783.9 422.10 783.9 422.26 781.6 422.42 783.2 422.58 783.9 422.74 782.3 422.90 786.1 423.06 783.4 423.22 784.8 423.38 780.9 423.54 784.0 423.70 780.0 423.86 784.3 424.02 785.9 424.18 782.1 424.34 789.0 424.50 783.9 424.66 785.6 424.82 777.8 424.98 783.8 425.14 784.7 425.30 782.8 425.46 784.6 425.62 781.5 425.78 784.5 425.94 782.9 426.10 784.1 426.26 784.6 426.42 786.1 426.58 786.6 426.74 785.3 426.90 781.1 427.06 784.8 427.22 784.6 427.38 783.5 427.54 782.4 427.70 781.0 427.86 785.8 428.02 781.2 428.18 783.7 428.34 786.2 428.50 785.4 428.66 785.3 428.82 784.7 428.98 785.2 429.14 782.7 429.30 784.1 429.46 784.2 429.62 783.1 429.78 782.8 429.94 784.4 430.10 784.1 430.26 784.6 430.42 785.9 430.58 783.3 430.74 783.7 430.90 784.9 431.06 786.2 431.22 779.4 431.38 785.9 431.54 782.8 431.70 785.5 431.86 779.5 432.02 784.4 432.18 781.8 432.34 784.4 432.50 784.8 432.66 777.9 432.82 784.3 432.98 787.4 433.14 785.6 433.30 782.2 433.46 783.4 433.62 784.4 433.78 786.5 433.94 780.5 434.10 782.4 434.26 780.6 434.42 781.1 434.58 785.9 434.74 785.3 434.90 783.1 435.06 786.3 435.22 787.8 435.38 783.9 435.54 785.2 435.70 784.5 435.86 783.7 436.02 783.9 436.18 785.3 436.34 788.1 436.50 783.2 436.66 782.6 436.82 783.4 436.98 780.8 437.14 785.6 437.30 785.8 437.46 784.9 437.62 779.2 437.78 781.6 437.94 784.5 438.10 785.2 438.26 784.4 438.42 784.2 438.58 782.1 438.74 785.6 438.90 780.8 439.06 783.4 439.22 784.4 439.38 785.1 439.54 780.1 439.70 785.8 439.86 786.5 440.02 782.9 440.18 785.2 440.34 783.4 440.50 787.6 440.66 784.6 440.82 784.7 440.98 784.2 441.14 784.1 441.30 782.2 441.46 781.4 441.62 785.6 441.78 787.6 441.94 782.9 442.10 784.0 442.26 786.0 442.42 782.7 442.58 785.2 442.74 783.8 442.90 782.5 443.06 782.1 443.22 790.4 443.38 783.5 443.54 789.4 443.70 788.3 443.86 788.1 444.02 785.4 444.18 782.9 444.34 786.6 444.50 783.2 444.66 787.0 444.82 787.1 444.98 782.3 445.14 781.6 445.30 780.4 445.46 785.0 445.62 783.6 445.78 780.8 445.94 784.2 446.10 782.3 446.26 782.9 446.42 785.2 446.58 782.2 446.74 780.3 446.90 783.3 447.06 789.7 447.22 784.6 447.38 783.7 447.54 785.2 447.70 776.8 447.86 782.3 448.02 781.4 448.18 783.7 448.34 780.9 448.50 783.6 448.66 781.4 448.82 782.0 448.98 783.7 449.14 782.0 449.30 782.4 449.46 784.7 449.62 782.1 449.78 779.2 449.94 780.8 450.10 781.0 450.26 782.5 450.42 785.2 450.58 784.5 450.74 784.3 450.90 784.5 451.06 784.5 451.22 784.0 451.38 781.3 451.54 780.9 451.70 782.0 451.86 775.8 452.02 784.9 452.18 781.6 452.34 781.9 452.50 781.1 452.66 780.3 452.82 783.3 452.98 782.5 453.14 780.7 453.30 782.6 453.46 782.5 453.62 781.5 453.78 784.2 453.94 782.1 454.10 785.9 454.26 782.4 454.42 785.7 454.58 780.8 454.74 782.4 454.90 779.3 455.06 781.6 455.22 782.3 455.38 780.7 455.54 780.8 455.70 781.2 455.86 781.8 456.02 778.6 456.18 777.0 456.34 781.6 456.50 778.1 456.66 780.5 456.82 779.3 456.98 780.1 457.14 780.9 457.30 782.8 457.46 782.1 457.62 780.0 457.78 777.9 457.94 780.2 458.10 782.3 458.26 781.7 458.42 777.8 458.58 778.7 458.74 780.2 458.90 779.8 459.06 778.5 459.22 780.4 459.38 778.1 459.54 778.9 459.70 778.4 459.86 781.3 460.02 781.1 460.18 779.2 460.34 778.6 460.50 779.6 460.66 779.3 460.82 778.2 460.98 779.7 461.14 779.7 461.30 778.5 461.46 781.1 461.62 780.2 461.78 780.1 461.94 779.8 462.10 780.2 462.26 775.3 462.42 779.3 462.58 779.7 462.74 781.7 462.90 779.0 463.06 776.1 463.22 778.5 463.38 780.0 463.54 779.4 463.70 778.7 463.86 779.1 464.02 779.3 464.18 775.0 464.34 780.3 464.50 780.3 464.66 778.2 464.82 778.7 464.98 776.0 465.14 778.3 465.30 777.9 465.46 779.0 465.62 778.1 465.78 773.4 465.94 778.8 466.10 779.6 466.26 777.7 466.42 781.6 466.58 776.8 466.74 779.9 466.90 778.4 467.06 780.2 467.22 776.5 467.38 777.8 467.54 777.6 467.70 776.2 467.86 777.6 468.02 779.8 468.18 777.4 468.34 777.9 468.50 776.8 468.66 776.9 468.82 780.3 468.98 775.0 469.14 779.7 469.30 778.3 469.46 779.9 469.62 779.8 469.78 781.5 469.94 777.2 470.10 774.4 470.26 777.4 470.42 780.5 470.58 778.9 470.74 777.3 470.90 779.1 471.06 779.3 471.22 777.6 471.38 777.3 471.54 777.2 471.70 780.4 471.86 777.8 472.02 778.3 472.18 781.1 472.34 783.1 472.50 777.9 472.66 776.5 472.82 782.5 472.98 779.5 473.14 779.0 473.30 778.1 473.46 775.9 473.62 778.8 473.78 778.9 473.94 776.5 474.10 779.5 474.26 779.6 474.42 778.6 474.58 779.7 474.74 776.9 474.90 781.3 475.06 779.1 475.22 775.6 475.38 778.8 475.54 779.7 475.70 779.6 475.86 776.3 476.02 779.7 476.18 775.3 476.34 775.3 476.50 778.5 476.66 779.5 476.82 777.3 476.98 779.3 477.14 780.5 477.30 784.1 477.46 779.5 477.62 778.1 477.78 778.1 477.94 778.1 478.10 777.4 478.26 776.1 478.42 778.7 478.58 776.4 478.74 776.4 478.90 779.2 479.06 782.3 479.22 778.8 479.38 780.4 479.54 779.2 479.70 776.0 479.86 781.6 480.02 778.5 480.18 779.9 480.34 781.9 480.50 781.1 480.66 781.2 480.82 773.6 480.98 781.2 481.14 780.5 481.30 778.0 481.46 778.8 481.62 775.0 481.78 780.1 481.94 781.4 482.10 779.4 482.26 777.6 482.42 780.3 482.58 778.2 482.74 782.0 482.90 777.1 483.06 778.0 483.22 780.5 483.38 778.0 483.54 777.7 483.70 780.2 483.86 780.7 484.02 779.1 484.18 774.4 484.34 782.2 484.50 776.6 484.66 778.9 484.82 780.1 484.98 777.3 485.14 778.8 485.30 779.6 485.46 779.3 485.62 778.7 485.78 777.9 485.94 778.5 486.10 778.6 486.26 778.5 486.42 776.3 486.58 776.9 486.74 779.0 486.90 778.0 487.06 781.0 487.22 773.4 487.38 780.5 487.54 777.5 487.70 779.1 487.86 781.5 488.02 777.6 488.18 777.2 488.34 780.7 488.50 779.1 488.66 780.0 488.82 781.2 488.98 775.0 489.14 779.1 489.30 779.0 489.46 779.4 489.62 776.9 489.78 780.0 489.94 778.8 490.10 777.2 490.26 780.1 490.42 779.1 490.58 779.6 490.74 782.0 490.90 779.7 491.06 780.8 491.22 782.1 491.38 782.9 491.54 776.8 491.70 781.2 491.86 778.8 492.02 778.0 492.18 780.5 492.34 778.1 492.50 773.0 492.66 774.5 492.82 779.3 492.98 780.6 493.14 781.4 493.30 781.5 493.46 779.6 493.62 778.7 493.78 781.4 493.94 777.7 494.10 780.4 494.26 778.7 494.42 778.6 494.58 780.2 494.74 778.4 494.90 780.5 495.06 779.4 495.22 773.5 495.38 780.0 495.54 780.1 495.70 777.4 495.86 778.6 496.02 779.6 496.18 775.3 496.34 776.8 496.50 781.4 496.66 777.5 496.82 774.2 496.98 780.2 497.14 780.8 497.30 778.5 497.46 782.9 497.62 781.9 497.78 776.6 497.94 778.7 498.10 778.4 498.26 778.1 498.42 779.7 498.58 780.3 498.74 781.6 498.90 776.0 499.06 778.2 499.22 778.3 499.38 782.9 499.54 774.4 499.70 779.9 499.86 781.8 500.02 780.9 500.18 780.5 500.34 778.8 500.50 774.9 500.66 780.4 500.82 779.1 500.98 782.5 501.14 779.3 501.30 778.5 501.46 776.1 501.62 780.9 501.78 778.5 501.94 779.7 502.10 778.2 502.26 779.7 502.42 781.3 502.58 781.8 502.74 778.4 502.90 779.0 503.06 776.9 503.22 782.7 503.38 780.6 503.54 773.8 503.70 784.6 503.86 773.6 504.02 781.7 504.18 778.0 504.34 779.5 504.50 779.7 504.66 777.9 504.82 780.2 504.98 777.3 505.14 778.6 505.30 778.8 505.46 778.3 505.62 778.9 505.78 777.8 505.94 778.2 506.10 780.3 506.26 778.8 506.42 777.4 506.58 779.0 506.74 784.2 506.90 775.7 507.06 776.8 507.22 778.0 507.38 778.4 507.54 777.9 507.70 774.9 507.86 776.5 508.02 779.3 508.18 777.8 508.34 777.2 508.50 775.5 508.66 779.5 508.82 775.6 508.98 776.4 509.14 777.8 509.30 779.2 509.46 776.1 509.62 777.8 509.78 776.4 509.94 777.5 510.10 778.1 510.26 781.6 510.42 776.4 510.58 775.8 510.74 773.9 510.90 774.5 511.06 773.6 511.22 772.6 511.38 773.9 511.54 772.8 511.70 769.1 511.86 766.7 512.02 771.5 512.18 767.4 512.34 768.7 512.50 767.3 512.66 767.3 512.82 765.4 512.98 765.8 513.14 763.8 513.30 760.4 513.46 759.0 513.62 759.9 513.78 761.0 513.94 757.8 514.10 755.6 514.26 755.9 514.42 754.2 514.58 753.2 514.74 753.2 514.90 749.3 515.06 747.3 515.22 745.9 515.38 742.9 515.54 741.4 515.70 739.0 515.86 733.9 516.02 736.3 516.18 732.8 516.34 730.1 516.50 732.1 516.66 727.5 516.82 725.4 516.98 719.6 517.14 721.2 517.30 718.6 517.46 717.1 517.62 711.8 517.78 718.3 517.94 701.0 518.10 706.8 518.26 703.9 518.42 703.5 518.58 700.7 518.74 700.2 518.90 692.9 519.06 686.3 519.22 688.4 519.38 698.4 519.54 704.3 519.70 707.3 519.86 700.2 520.02 701.4 520.18 702.1 520.34 700.8 520.50 715.4 520.66 707.7 520.82 712.5 520.98 714.7 521.14 712.8 521.30 715.0 521.46 716.7 521.62 720.7 521.78 717.9 521.94 725.6 522.10 726.9 522.26 726.1 522.42 735.1 522.58 732.7 522.74 737.9 522.90 741.4 523.06 743.0 523.22 738.0 523.38 748.1 523.54 748.4 523.70 745.8 523.86 743.7 524.02 752.3 524.18 751.4 524.34 751.4 524.50 752.9 524.66 756.4 524.82 760.3 524.98 762.6 525.14 761.1 525.30 762.6 525.46 762.4 525.62 765.4 525.78 768.1 525.94 769.4 526.10 769.0 526.26 770.0 526.42 769.6 526.58 775.6 526.74 770.7 526.90 772.3 527.06 774.1 527.22 773.0 527.38 776.2 527.54 777.1 527.70 777.8 527.86 771.6 528.02 778.8 528.18 779.2 528.34 776.1 528.50 780.8 528.66 778.9 528.82 779.2 528.98 780.6 529.14 779.5 529.30 781.8 529.46 782.9 529.62 779.5 529.78 778.6 529.94 781.4 530.10 781.1 530.26 780.4 530.42 779.9 530.58 781.2 530.74 779.9 530.90 783.8 531.06 781.7 531.22 782.0 531.38 781.6 531.54 776.1 531.70 781.1 531.86 783.7 532.02 782.8 532.18 780.6 532.34 784.8 532.50 783.2 532.66 781.7 532.82 783.0 532.98 781.5 533.14 786.3 533.30 779.7 533.46 784.1 533.62 782.2 533.78 782.1 533.94 783.3 534.10 783.1 534.26 782.2 534.42 782.9 534.58 782.7 534.74 783.0 534.90 781.0 535.06 784.9 535.22 784.3 535.38 784.1 535.54 785.5 535.70 782.8 535.86 784.0 536.02 782.9 536.18 783.5 536.34 785.8 536.50 785.3 536.66 785.9 536.82 783.7 536.98 786.7 537.14 785.0 537.30 784.7 537.46 784.4 537.62 785.1 537.78 782.5 537.94 787.3 538.10 784.5 538.26 784.5 538.42 787.4 538.58 788.9 538.74 788.0 538.90 786.4 539.06 784.8 539.22 786.5 539.38 783.9 539.54 785.3 539.70 785.7 539.86 785.9 540.02 786.3 540.18 785.3 540.34 785.7 540.50 784.5 540.66 787.2 540.82 786.3 540.98 784.3 541.14 786.2 541.30 786.7 541.46 782.1 541.62 786.3 541.78 786.2 541.94 783.6 542.10 785.8 542.26 783.7 542.42 786.6 542.58 785.6 542.74 786.3 542.90 786.2 543.06 784.4 543.22 787.2 543.38 787.2 543.54 786.9 543.70 787.0 543.86 787.0 544.02 785.7 544.18 786.3 544.34 785.9 544.50 784.9 544.66 787.6 544.82 786.5 544.98 784.1 545.14 784.6 545.30 788.4 545.46 787.9 545.62 786.0 545.78 780.6 545.94 785.3 546.10 788.2 546.26 785.3 546.42 783.3 546.58 784.4 546.74 789.8 546.90 785.4 547.06 785.2 547.22 786.2 547.38 786.0 547.54 784.4 547.70 785.4 547.86 786.2 548.02 784.9 548.18 785.7 548.34 785.2 548.50 786.9 548.66 784.7 548.82 780.7 548.98 786.7 549.14 783.1 549.30 788.8 549.46 786.9 549.62 784.9 549.78 786.0 549.94 787.0 550.10 784.8 550.26 784.5 550.42 787.0 550.58 785.9 550.74 786.7 550.90 790.6 551.06 784.6 551.22 786.6 551.38 786.9 551.54 786.9 551.70 783.7 551.86 788.0 552.02 784.8 552.18 785.6 552.34 784.9 552.50 787.5 552.66 784.8 552.82 785.2 552.98 782.2 553.14 786.4 553.30 784.8 553.46 788.2 553.62 785.3 553.78 782.9 553.94 786.0 554.10 782.4 554.26 784.9 554.42 784.1 554.58 784.8 554.74 787.6 554.90 786.7 555.06 783.4 555.22 790.5 555.38 786.1 555.54 791.5 555.70 784.6 555.86 787.3 556.02 789.7 556.18 785.6 556.34 787.6 556.50 791.5 556.66 788.1 556.82 787.2 556.98 785.9 557.14 786.5 557.30 785.3 557.46 788.1 557.62 785.1 557.78 785.2 557.94 785.6 558.10 786.6 558.26 787.0 558.42 785.0 558.58 787.5 558.74 786.2 558.90 785.9 559.06 785.6 559.22 787.2 559.38 785.6 559.54 785.8 559.70 786.6 559.86 785.1 560.02 788.0 560.18 785.0 560.34 789.8 560.50 784.7 560.66 786.1 560.82 785.8 560.98 787.3 561.14 784.1 561.30 785.0 561.46 788.9 561.62 785.4 561.78 785.4 561.94 784.4 562.10 788.6 562.26 785.4 562.42 786.4 562.58 785.8 562.74 786.0 562.90 785.8 563.06 784.8 563.22 785.7 563.38 784.8 563.54 785.2 563.70 786.8 563.86 787.8 564.02 786.5 564.18 788.3 564.34 786.7 564.50 787.8 564.66 787.4 564.82 787.0 564.98 787.1 565.14 787.2 565.30 786.2 565.46 783.1 565.62 784.7 565.78 786.0 565.94 784.5 566.10 785.2 566.26 786.4 566.42 784.9 566.58 785.9 566.74 785.8 566.90 786.1 567.06 786.1 567.22 787.1 567.38 786.7 567.54 786.4 567.70 784.4 567.86 787.3 568.02 785.5 568.18 788.8 568.34 788.5 568.50 786.9 568.66 787.4 568.82 786.3 568.98 786.8 569.14 785.7 569.30 783.7 569.46 785.5 569.62 786.0 569.78 785.3 569.94 785.1 570.10 789.4 570.26 786.4 570.42 784.6 570.58 785.0 570.74 786.7 570.90 786.1 571.06 789.9 571.22 785.4 571.38 787.4 571.54 786.5 571.70 784.6 571.86 786.9 572.02 786.2 572.18 786.5 572.34 784.4 572.50 785.1 572.66 786.6 572.82 785.7 572.98 787.1 573.14 786.9 573.30 785.9 573.46 787.5 573.62 786.6 573.78 787.0 573.94 786.2 574.10 788.7 574.26 787.3 574.42 785.1 574.58 788.6 574.74 786.5 574.90 787.0 575.06 785.8 575.22 786.9 575.38 785.3 575.54 788.5 575.70 789.0 575.86 787.0 576.02 787.4 576.18 786.1 576.34 787.0 576.50 786.1 576.66 786.8 576.82 789.6 576.98 789.7 577.14 782.8 577.30 788.9 577.46 786.4 577.62 788.7 577.78 784.9 577.94 785.5 578.10 788.6 578.26 784.4 578.42 788.1 578.58 785.5 578.74 787.7 578.90 787.3 579.06 786.1 579.22 786.4 579.38 784.9 579.54 785.3 579.70 783.8 579.86 786.3 580.02 785.4 580.18 786.3 580.34 786.5 580.50 788.9 580.66 784.2 580.82 785.1 580.98 786.6 581.14 791.2 581.30 785.4 581.46 785.4 581.62 785.6 581.78 785.9 581.94 786.6 582.10 786.5 582.26 785.7 582.42 787.0 582.58 788.9 582.74 786.7 582.90 786.9 583.06 785.4 583.22 785.6 583.38 785.0 583.54 785.7 583.70 782.5 583.86 784.9 584.02 786.1 584.18 785.8 584.34 787.7 584.50 784.2 584.66 785.1 584.82 787.6 584.98 787.0 585.14 784.6 585.30 785.6 585.46 789.1 585.62 786.9 585.78 787.1 585.94 785.2 586.10 788.1 586.26 785.6 586.42 784.4 586.58 786.2 586.74 784.2 586.90 788.5 587.06 784.1 587.22 787.5 587.38 788.9 587.54 783.9 587.70 786.7 587.86 788.0 588.02 786.0 588.18 786.5 588.34 786.4 588.50 783.9 588.66 786.5 588.82 785.5 588.98 784.2 589.14 787.8 589.30 785.9 589.46 787.2 589.62 781.5 589.78 788.2 589.94 786.3 590.10 788.8 590.26 785.3 590.42 789.2 590.58 787.1 590.74 786.5 590.90 788.2 591.06 785.0 591.22 789.2 591.38 784.5 591.54 785.5 591.70 787.2 591.86 788.2 592.02 784.5 592.18 786.7 592.34 785.4 592.50 786.2 592.66 786.4 592.82 789.0 592.98 787.5 593.14 785.9 593.30 786.4 593.46 786.1 593.62 786.6 593.78 785.9 593.94 786.1 594.10 787.6 594.26 787.1 594.42 787.2 594.58 788.5 594.74 786.3 594.90 787.6 595.06 787.4 595.22 786.3 595.38 786.4 595.54 787.1 595.70 786.4 595.86 786.2 596.02 784.1 596.18 786.5 596.34 784.9 596.50 787.6 596.66 785.1 596.82 785.3 596.98 786.8 597.14 786.7 597.30 789.8 597.46 788.5 597.62 786.1 597.78 786.9 597.94 786.3 598.10 786.9 598.26 787.5 598.42 786.8 598.58 784.6 598.74 786.4 598.90 783.9 599.06 791.3 599.22 785.9 599.38 785.0 599.54 789.5 599.70 786.9 599.86 789.3 600.02 786.6 600.18 783.0 600.34 790.8 600.50 787.3 600.66 785.8 600.82 786.7 600.98 787.1 601.14 786.6 601.30 783.9 601.46 786.3 601.62 784.6 601.78 783.5 601.94 784.7 602.10 786.8 602.26 787.6 602.42 784.1 602.58 786.9 602.74 787.1 602.90 788.5 603.06 786.2 603.22 788.0 603.38 787.1 603.54 787.7 603.70 787.5 603.86 786.3 604.02 789.2 604.18 786.9 604.34 785.5 604.50 787.8 604.66 785.1 604.82 789.1 604.98 788.5 605.14 784.0 605.30 785.7 605.46 789.3 605.62 789.3 605.78 788.0 605.94 787.1 606.10 785.9 606.26 788.1 606.42 786.3 606.58 788.9 606.74 787.0 606.90 787.5 607.06 788.0 607.22 791.0 607.38 787.4 607.54 789.8 607.70 786.6 607.86 787.8 608.02 786.4 608.18 787.1 608.34 787.9 608.50 787.9 608.66 787.7 608.82 787.5 608.98 785.1 609.14 786.2 609.30 787.8 609.46 785.8 609.62 785.2 609.78 786.1 609.94 789.9 610.10 786.5 610.26 790.3" fill="none" stroke="#ff6a72" stroke-width="1" stroke-linejoin="round"/>
<g stroke="#000" stroke-width="2.3" fill="none">
<rect x="92.1" y="22.2" width="519.2" height="781.0" rx="1"/>
<line x1="92.1" y1="179.0" x2="611.3" y2="179.0"/>
<line x1="92.1" y1="335.4" x2="611.3" y2="335.4"/>
<line x1="92.1" y1="490.4" x2="611.3" y2="490.4"/>
<line x1="92.1" y1="647.3" x2="611.3" y2="647.3"/>
</g>
<path d="M135.4 179.0V168.5M221.9 179.0V168.5M308.4 179.0V168.5M395.0 179.0V168.5M481.5 179.0V168.5M568.0 179.0V168.5M178.6 179.0V173.5M265.2 179.0V173.5M351.7 179.0V173.5M438.2 179.0V173.5M524.8 179.0V173.5M135.4 335.4V324.9M221.9 335.4V324.9M308.4 335.4V324.9M395.0 335.4V324.9M481.5 335.4V324.9M568.0 335.4V324.9M178.6 335.4V329.9M265.2 335.4V329.9M351.7 335.4V329.9M438.2 335.4V329.9M524.8 335.4V329.9M135.4 490.4V479.9M221.9 490.4V479.9M308.4 490.4V479.9M395.0 490.4V479.9M481.5 490.4V479.9M568.0 490.4V479.9M178.6 490.4V484.9M265.2 490.4V484.9M351.7 490.4V484.9M438.2 490.4V484.9M524.8 490.4V484.9M135.4 647.3V636.8M221.9 647.3V636.8M308.4 647.3V636.8M395.0 647.3V636.8M481.5 647.3V636.8M568.0 647.3V636.8M178.6 647.3V641.8M265.2 647.3V641.8M351.7 647.3V641.8M438.2 647.3V641.8M524.8 647.3V641.8M135.4 803.2V792.7M221.9 803.2V792.7M308.4 803.2V792.7M395.0 803.2V792.7M481.5 803.2V792.7M568.0 803.2V792.7M178.6 803.2V797.7M265.2 803.2V797.7M351.7 803.2V797.7M438.2 803.2V797.7M524.8 803.2V797.7" stroke="#000" stroke-width="2.1" fill="none"/>
<line x1="102.5" y1="37.9" x2="150" y2="37.9" stroke="#8a12ff" stroke-width="1.4" stroke-opacity="0.7"/>
<text transform="translate(155.49 45.25) scale(1.0001 1.0293)" font-size="20.80">4 SCCM</text>
<line x1="102.5" y1="195.0" x2="150" y2="195.0" stroke="#1276ff" stroke-width="1.4" stroke-opacity="0.7"/>
<text transform="translate(155.49 202.25) scale(1.0001 1.0293)" font-size="20.80">3 SCCM</text>
<line x1="102.5" y1="350.5" x2="150" y2="350.5" stroke="#0fb552" stroke-width="1.4" stroke-opacity="0.7"/>
<text transform="translate(155.49 357.85) scale(1.0001 1.0293)" font-size="20.80">2 SCCM</text>
<line x1="102.5" y1="506.8" x2="150" y2="506.8" stroke="#ff6cc2" stroke-width="1.4" stroke-opacity="0.7"/>
<text transform="translate(155.49 514.10) scale(1.0001 1.0293)" font-size="20.80">1 SCCM</text>
<line x1="102.5" y1="662.4" x2="150" y2="662.4" stroke="#ff6a72" stroke-width="1.4" stroke-opacity="0.7"/>
<text transform="translate(155.49 669.75) scale(1.0001 1.0293)" font-size="20.80">0 SCCM</text>
<text transform="translate(131.05 128.19) scale(1.0100 1.0000)" font-size="15.00" text-anchor="middle">(201)</text>
<text transform="translate(200.70 86.89) scale(1.0100 1.0000)" font-size="15.00" text-anchor="middle">(401)</text>
<text transform="translate(253.35 96.29) scale(1.0100 1.0000)" font-size="15.00" text-anchor="middle">(002)</text>
<text transform="translate(301.75 126.23) scale(1.0100 1.0000)" font-size="15.00" text-anchor="middle">(111)</text>
<text transform="translate(518.00 87.23) scale(1.0100 1.0000)" font-size="15.00" text-anchor="middle">(403)</text>
<path d="M117.3 115.6H126.1M187.9 74.7H196.8" stroke="#000" stroke-width="1.5"/>
<text transform="translate(135.97 829.47) scale(1.0492 1.0967)" font-size="20.50" text-anchor="middle">20</text>
<text transform="translate(222.50 829.47) scale(1.0492 1.0967)" font-size="20.50" text-anchor="middle">30</text>
<text transform="translate(309.03 829.47) scale(1.0492 1.0967)" font-size="20.50" text-anchor="middle">40</text>
<text transform="translate(395.57 829.47) scale(1.0492 1.0967)" font-size="20.50" text-anchor="middle">50</text>
<text transform="translate(482.10 829.47) scale(1.0492 1.0967)" font-size="20.50" text-anchor="middle">60</text>
<text transform="translate(568.63 829.47) scale(1.0492 1.0967)" font-size="20.50" text-anchor="middle">70</text>
<text transform="translate(271.60 868.05) scale(0.9962 1.1053)" font-size="20.50">2 Theta (degree)</text>
<text transform="translate(55.84 498.21) rotate(-90) scale(1.0023 1.0266)" font-size="20.80">Intensity (arb.unit)</text>
<text transform="translate(3.74 41.61) scale(0.9698 1.0037)" font-size="46.00">(a)</text>
<text transform="translate(23.47 930.43) scale(0.9568 0.9397)" font-size="46.00">(b)</text>
<rect x="133.0" y="936.1" width="470.8" height="350.9" fill="none" stroke="#222" stroke-width="1.8"/>
<path d="M133.0 1251.9H136.5M133.0 1216.8H139.0M133.0 1181.7H136.5M133.0 1146.6H139.0M133.0 1111.5H136.5M133.0 1076.5H139.0M133.0 1041.4H136.5M133.0 1006.3H139.0M133.0 971.2H136.5M603.8 1257.8H600.3M603.8 1228.5H597.8M603.8 1199.3H600.3M603.8 1170.0H597.8M603.8 1140.8H600.3M603.8 1111.5H597.8M603.8 1082.3H600.3M603.8 1053.1H597.8M603.8 1023.8H600.3M603.8 994.6H597.8M603.8 965.3H600.3M179.5 1287.0V1280.5M273.7 1287.0V1280.5M367.9 1287.0V1280.5M462.1 1287.0V1280.5M556.3 1287.0V1280.5" stroke="#222" stroke-width="1.5" fill="none"/>
<text transform="translate(124.90 1291.20) scale(1.0000 0.9800)" font-size="14.85" text-anchor="end">0.65</text>
<text transform="translate(124.90 1221.02) scale(1.0000 0.9800)" font-size="14.85" text-anchor="end">0.70</text>
<text transform="translate(124.90 1150.84) scale(1.0000 0.9800)" font-size="14.85" text-anchor="end">0.75</text>
<text transform="translate(124.90 1080.66) scale(1.0000 0.9800)" font-size="14.85" text-anchor="end">0.80</text>
<text transform="translate(124.90 1010.48) scale(1.0000 0.9800)" font-size="14.85" text-anchor="end">0.85</text>
<text transform="translate(124.90 940.30) scale(1.0000 0.9800)" font-size="14.85" text-anchor="end">0.90</text>
<text transform="translate(610.90 1291.10) scale(1.0000 0.9800)" font-size="14.85">11.0</text>
<text transform="translate(610.90 1232.62) scale(1.0000 0.9800)" font-size="14.85">11.5</text>
<text transform="translate(610.90 1174.13) scale(1.0000 0.9800)" font-size="14.85">12.0</text>
<text transform="translate(610.90 1115.65) scale(1.0000 0.9800)" font-size="14.85">12.5</text>
<text transform="translate(610.90 1057.17) scale(1.0000 0.9800)" font-size="14.85">13.0</text>
<text transform="translate(610.90 998.68) scale(1.0000 0.9800)" font-size="14.85">13.5</text>
<text transform="translate(610.90 940.20) scale(1.0000 0.9800)" font-size="14.85">14.0</text>
<text transform="translate(179.70 1305.80) scale(1.0000 0.9800)" font-size="14.85" text-anchor="middle">0</text>
<text transform="translate(273.90 1305.80) scale(1.0000 0.9800)" font-size="14.85" text-anchor="middle">1</text>
<text transform="translate(368.10 1305.80) scale(1.0000 0.9800)" font-size="14.85" text-anchor="middle">2</text>
<text transform="translate(462.30 1305.80) scale(1.0000 0.9800)" font-size="14.85" text-anchor="middle">3</text>
<text transform="translate(556.50 1305.80) scale(1.0000 0.9800)" font-size="14.85" text-anchor="middle">4</text>
<text transform="translate(263.49 1336.62) scale(1.0087 1.1017)" font-size="18.00">Oxygen flow rate (sccm)</text>
<text transform="translate(78.96 1178.94) rotate(-90) scale(1.0381 1.0358)" font-size="17.50">FWHM (deg.)</text>
<text transform="translate(674.62 1205.91) rotate(-90) scale(1.0145 1.0185)" font-size="17.80">Crystallite size (nm)</text>
<path d="M190.2 1227.0L263.0 1210.6M284.4 1205.5L357.2 1187.3M378.7 1182.3L451.3 1167.0M468.4 1155.7L550.0 1039.4" stroke="#ff0a6e" stroke-width="3.3" fill="none" stroke-linecap="round"/>
<path d="M189.4 987.2L263.8 1013.9M283.5 1021.3L358.1 1050.0M378.0 1056.8L452.0 1079.0M467.1 1091.2L551.3 1244.6" stroke="#0a70f5" stroke-width="3.3" fill="none" stroke-linecap="round"/>
<circle cx="179.5" cy="1229.4" r="6.9" fill="none" stroke="#ff0a6e" stroke-width="3.1"/>
<circle cx="273.7" cy="1208.2" r="6.9" fill="none" stroke="#ff0a6e" stroke-width="3.1"/>
<circle cx="367.9" cy="1184.6" r="6.9" fill="none" stroke="#ff0a6e" stroke-width="3.1"/>
<circle cx="462.1" cy="1164.7" r="6.9" fill="none" stroke="#ff0a6e" stroke-width="3.1"/>
<circle cx="556.3" cy="1030.4" r="6.9" fill="none" stroke="#ff0a6e" stroke-width="3.1"/>
<rect x="173.5" y="977.6" width="12" height="12" fill="none" stroke="#0a70f5" stroke-width="3"/>
<rect x="267.7" y="1011.5" width="12" height="12" fill="none" stroke="#0a70f5" stroke-width="3"/>
<rect x="361.9" y="1047.8" width="12" height="12" fill="none" stroke="#0a70f5" stroke-width="3"/>
<rect x="456.1" y="1076.0" width="12" height="12" fill="none" stroke="#0a70f5" stroke-width="3"/>
<rect x="550.3" y="1247.8" width="12" height="12" fill="none" stroke="#0a70f5" stroke-width="3"/>
<path d="M407.3 960.9H412.4M435.8 960.9H440.5" stroke="#ff0a6e" stroke-width="3" stroke-linecap="round"/>
<circle cx="423.9" cy="961" r="6.75" fill="none" stroke="#ff0a6e" stroke-width="3.1"/>
<text transform="translate(445.77 965.40) scale(1.0078 0.9871)" font-size="18.50">FWHM</text>
<path d="M407.0 984.7H412.4M435.4 984.7H440.5" stroke="#0a70f5" stroke-width="3" stroke-linecap="round"/>
<rect x="418.40" y="978.50" width="11.8" height="11.8" fill="none" stroke="#0a70f5" stroke-width="3.2"/>
<text transform="translate(446.20 989.42) scale(0.9985 0.9526)" font-size="18.80">Crystallite size</text>
</svg></body></html>
